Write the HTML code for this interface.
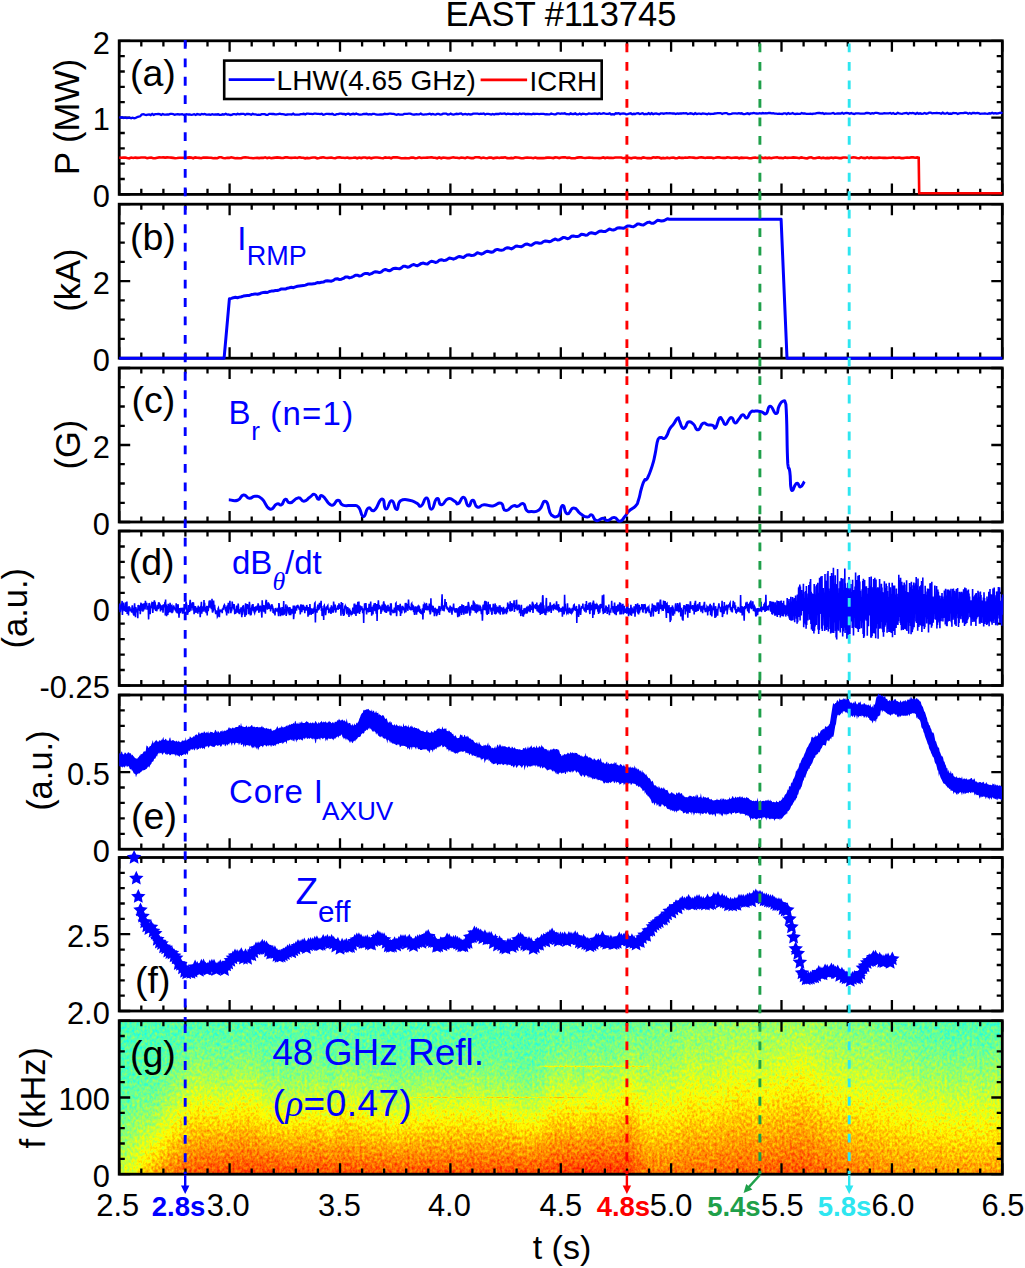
<!DOCTYPE html>
<html><head><meta charset="utf-8"><style>
html,body{margin:0;padding:0;background:#fff;width:1025px;height:1268px;overflow:hidden;}
svg{display:block;}
</style></head><body>
<svg width="1025" height="1268" viewBox="0 0 1025 1268" font-family="'Liberation Sans', sans-serif">
<rect width="1025" height="1268" fill="#fff"/>
<defs><clipPath id="gclip"><rect x="119.2" y="1020.7" width="883.1" height="153.5"/></clipPath>
<filter id="specf" x="109.2" y="1010.7" width="903.1" height="173.5" filterUnits="userSpaceOnUse" color-interpolation-filters="sRGB">
<feGaussianBlur in="SourceGraphic" stdDeviation="2.5 0" result="bl"/>
<feTurbulence type="fractalNoise" baseFrequency="0.4 0.3" numOctaves="2" seed="11" result="nz"/>
<feColorMatrix in="nz" type="matrix" values="1 0 0 0 0  1 0 0 0 0  1 0 0 0 0  0 0 0 0 1" result="gn"/>
<feComposite in="bl" in2="gn" operator="arithmetic" k1="0" k2="1" k3="0.2" k4="-0.1" result="sum"/>
<feComponentTransfer in="sum"><feFuncR type="table" tableValues="0 0 0 0 0.5 1 1 1 0.5"/><feFuncG type="table" tableValues="0 0 0.5 1 1 1 0.5 0 0"/><feFuncB type="table" tableValues="0.5 1 1 1 0.5 0 0 0 0"/><feFuncA type="table" tableValues="1 1"/></feComponentTransfer>
</filter>
<linearGradient id="sg0" gradientUnits="userSpaceOnUse" x1="0" y1="1020.7" x2="0" y2="1174.2"><stop offset="0.000" stop-color="#747474"/><stop offset="0.050" stop-color="#747474"/><stop offset="0.100" stop-color="#747474"/><stop offset="0.150" stop-color="#747474"/><stop offset="0.200" stop-color="#747474"/><stop offset="0.250" stop-color="#747474"/><stop offset="0.300" stop-color="#757575"/><stop offset="0.350" stop-color="#757575"/><stop offset="0.400" stop-color="#757575"/><stop offset="0.450" stop-color="#767676"/><stop offset="0.500" stop-color="#777777"/><stop offset="0.550" stop-color="#797979"/><stop offset="0.600" stop-color="#7b7b7b"/><stop offset="0.650" stop-color="#7e7e7e"/><stop offset="0.700" stop-color="#808080"/><stop offset="0.750" stop-color="#838383"/><stop offset="0.800" stop-color="#868686"/><stop offset="0.850" stop-color="#8a8a8a"/><stop offset="0.900" stop-color="#8d8d8d"/><stop offset="0.950" stop-color="#909090"/><stop offset="1.000" stop-color="#949494"/></linearGradient>
<linearGradient id="sg1" gradientUnits="userSpaceOnUse" x1="0" y1="1020.7" x2="0" y2="1174.2"><stop offset="0.000" stop-color="#747474"/><stop offset="0.050" stop-color="#747474"/><stop offset="0.100" stop-color="#747474"/><stop offset="0.150" stop-color="#747474"/><stop offset="0.200" stop-color="#747474"/><stop offset="0.250" stop-color="#747474"/><stop offset="0.300" stop-color="#757575"/><stop offset="0.350" stop-color="#757575"/><stop offset="0.400" stop-color="#767676"/><stop offset="0.450" stop-color="#767676"/><stop offset="0.500" stop-color="#787878"/><stop offset="0.550" stop-color="#797979"/><stop offset="0.600" stop-color="#7b7b7b"/><stop offset="0.650" stop-color="#7e7e7e"/><stop offset="0.700" stop-color="#818181"/><stop offset="0.750" stop-color="#848484"/><stop offset="0.800" stop-color="#878787"/><stop offset="0.850" stop-color="#8b8b8b"/><stop offset="0.900" stop-color="#8e8e8e"/><stop offset="0.950" stop-color="#929292"/><stop offset="1.000" stop-color="#959595"/></linearGradient>
<linearGradient id="sg2" gradientUnits="userSpaceOnUse" x1="0" y1="1020.7" x2="0" y2="1174.2"><stop offset="0.000" stop-color="#747474"/><stop offset="0.050" stop-color="#747474"/><stop offset="0.100" stop-color="#747474"/><stop offset="0.150" stop-color="#747474"/><stop offset="0.200" stop-color="#747474"/><stop offset="0.250" stop-color="#757575"/><stop offset="0.300" stop-color="#757575"/><stop offset="0.350" stop-color="#767676"/><stop offset="0.400" stop-color="#767676"/><stop offset="0.450" stop-color="#787878"/><stop offset="0.500" stop-color="#797979"/><stop offset="0.550" stop-color="#7b7b7b"/><stop offset="0.600" stop-color="#7e7e7e"/><stop offset="0.650" stop-color="#818181"/><stop offset="0.700" stop-color="#848484"/><stop offset="0.750" stop-color="#878787"/><stop offset="0.800" stop-color="#8a8a8a"/><stop offset="0.850" stop-color="#8e8e8e"/><stop offset="0.900" stop-color="#919191"/><stop offset="0.950" stop-color="#959595"/><stop offset="1.000" stop-color="#989898"/></linearGradient>
<linearGradient id="sg3" gradientUnits="userSpaceOnUse" x1="0" y1="1020.7" x2="0" y2="1174.2"><stop offset="0.000" stop-color="#747474"/><stop offset="0.050" stop-color="#747474"/><stop offset="0.100" stop-color="#747474"/><stop offset="0.150" stop-color="#747474"/><stop offset="0.200" stop-color="#757575"/><stop offset="0.250" stop-color="#757575"/><stop offset="0.300" stop-color="#767676"/><stop offset="0.350" stop-color="#777777"/><stop offset="0.400" stop-color="#787878"/><stop offset="0.450" stop-color="#7a7a7a"/><stop offset="0.500" stop-color="#7c7c7c"/><stop offset="0.550" stop-color="#7f7f7f"/><stop offset="0.600" stop-color="#818181"/><stop offset="0.650" stop-color="#858585"/><stop offset="0.700" stop-color="#888888"/><stop offset="0.750" stop-color="#8c8c8c"/><stop offset="0.800" stop-color="#8f8f8f"/><stop offset="0.850" stop-color="#939393"/><stop offset="0.900" stop-color="#979797"/><stop offset="0.950" stop-color="#9a9a9a"/><stop offset="1.000" stop-color="#9e9e9e"/></linearGradient>
<linearGradient id="sg4" gradientUnits="userSpaceOnUse" x1="0" y1="1020.7" x2="0" y2="1174.2"><stop offset="0.000" stop-color="#747474"/><stop offset="0.050" stop-color="#747474"/><stop offset="0.100" stop-color="#757575"/><stop offset="0.150" stop-color="#757575"/><stop offset="0.200" stop-color="#757575"/><stop offset="0.250" stop-color="#767676"/><stop offset="0.300" stop-color="#767676"/><stop offset="0.350" stop-color="#777777"/><stop offset="0.400" stop-color="#797979"/><stop offset="0.450" stop-color="#7b7b7b"/><stop offset="0.500" stop-color="#7e7e7e"/><stop offset="0.550" stop-color="#818181"/><stop offset="0.600" stop-color="#848484"/><stop offset="0.650" stop-color="#888888"/><stop offset="0.700" stop-color="#8c8c8c"/><stop offset="0.750" stop-color="#909090"/><stop offset="0.800" stop-color="#959595"/><stop offset="0.850" stop-color="#999999"/><stop offset="0.900" stop-color="#9d9d9d"/><stop offset="0.950" stop-color="#a1a1a1"/><stop offset="1.000" stop-color="#a6a6a6"/></linearGradient>
<linearGradient id="sg5" gradientUnits="userSpaceOnUse" x1="0" y1="1020.7" x2="0" y2="1174.2"><stop offset="0.000" stop-color="#757575"/><stop offset="0.050" stop-color="#757575"/><stop offset="0.100" stop-color="#757575"/><stop offset="0.150" stop-color="#757575"/><stop offset="0.200" stop-color="#757575"/><stop offset="0.250" stop-color="#767676"/><stop offset="0.300" stop-color="#767676"/><stop offset="0.350" stop-color="#777777"/><stop offset="0.400" stop-color="#797979"/><stop offset="0.450" stop-color="#7b7b7b"/><stop offset="0.500" stop-color="#7e7e7e"/><stop offset="0.550" stop-color="#818181"/><stop offset="0.600" stop-color="#858585"/><stop offset="0.650" stop-color="#898989"/><stop offset="0.700" stop-color="#8e8e8e"/><stop offset="0.750" stop-color="#939393"/><stop offset="0.800" stop-color="#989898"/><stop offset="0.850" stop-color="#9d9d9d"/><stop offset="0.900" stop-color="#a3a3a3"/><stop offset="0.950" stop-color="#a8a8a8"/><stop offset="1.000" stop-color="#adadad"/></linearGradient>
<linearGradient id="sg6" gradientUnits="userSpaceOnUse" x1="0" y1="1020.7" x2="0" y2="1174.2"><stop offset="0.000" stop-color="#757575"/><stop offset="0.050" stop-color="#757575"/><stop offset="0.100" stop-color="#757575"/><stop offset="0.150" stop-color="#757575"/><stop offset="0.200" stop-color="#757575"/><stop offset="0.250" stop-color="#767676"/><stop offset="0.300" stop-color="#767676"/><stop offset="0.350" stop-color="#777777"/><stop offset="0.400" stop-color="#797979"/><stop offset="0.450" stop-color="#7b7b7b"/><stop offset="0.500" stop-color="#7e7e7e"/><stop offset="0.550" stop-color="#818181"/><stop offset="0.600" stop-color="#868686"/><stop offset="0.650" stop-color="#8a8a8a"/><stop offset="0.700" stop-color="#909090"/><stop offset="0.750" stop-color="#969696"/><stop offset="0.800" stop-color="#9b9b9b"/><stop offset="0.850" stop-color="#a1a1a1"/><stop offset="0.900" stop-color="#a8a8a8"/><stop offset="0.950" stop-color="#aeaeae"/><stop offset="1.000" stop-color="#b4b4b4"/></linearGradient>
<linearGradient id="sg7" gradientUnits="userSpaceOnUse" x1="0" y1="1020.7" x2="0" y2="1174.2"><stop offset="0.000" stop-color="#757575"/><stop offset="0.050" stop-color="#757575"/><stop offset="0.100" stop-color="#757575"/><stop offset="0.150" stop-color="#757575"/><stop offset="0.200" stop-color="#767676"/><stop offset="0.250" stop-color="#767676"/><stop offset="0.300" stop-color="#777777"/><stop offset="0.350" stop-color="#797979"/><stop offset="0.400" stop-color="#7b7b7b"/><stop offset="0.450" stop-color="#7d7d7d"/><stop offset="0.500" stop-color="#818181"/><stop offset="0.550" stop-color="#858585"/><stop offset="0.600" stop-color="#8a8a8a"/><stop offset="0.650" stop-color="#8f8f8f"/><stop offset="0.700" stop-color="#949494"/><stop offset="0.750" stop-color="#9a9a9a"/><stop offset="0.800" stop-color="#a0a0a0"/><stop offset="0.850" stop-color="#a6a6a6"/><stop offset="0.900" stop-color="#acacac"/><stop offset="0.950" stop-color="#b2b2b2"/><stop offset="1.000" stop-color="#b8b8b8"/></linearGradient>
<linearGradient id="sg8" gradientUnits="userSpaceOnUse" x1="0" y1="1020.7" x2="0" y2="1174.2"><stop offset="0.000" stop-color="#757575"/><stop offset="0.050" stop-color="#757575"/><stop offset="0.100" stop-color="#757575"/><stop offset="0.150" stop-color="#767676"/><stop offset="0.200" stop-color="#767676"/><stop offset="0.250" stop-color="#777777"/><stop offset="0.300" stop-color="#797979"/><stop offset="0.350" stop-color="#7b7b7b"/><stop offset="0.400" stop-color="#7e7e7e"/><stop offset="0.450" stop-color="#818181"/><stop offset="0.500" stop-color="#868686"/><stop offset="0.550" stop-color="#8a8a8a"/><stop offset="0.600" stop-color="#909090"/><stop offset="0.650" stop-color="#959595"/><stop offset="0.700" stop-color="#9a9a9a"/><stop offset="0.750" stop-color="#a0a0a0"/><stop offset="0.800" stop-color="#a6a6a6"/><stop offset="0.850" stop-color="#ababab"/><stop offset="0.900" stop-color="#b1b1b1"/><stop offset="0.950" stop-color="#b7b7b7"/><stop offset="1.000" stop-color="#bdbdbd"/></linearGradient>
<linearGradient id="sg9" gradientUnits="userSpaceOnUse" x1="0" y1="1020.7" x2="0" y2="1174.2"><stop offset="0.000" stop-color="#757575"/><stop offset="0.050" stop-color="#757575"/><stop offset="0.100" stop-color="#757575"/><stop offset="0.150" stop-color="#767676"/><stop offset="0.200" stop-color="#777777"/><stop offset="0.250" stop-color="#797979"/><stop offset="0.300" stop-color="#7b7b7b"/><stop offset="0.350" stop-color="#7e7e7e"/><stop offset="0.400" stop-color="#818181"/><stop offset="0.450" stop-color="#858585"/><stop offset="0.500" stop-color="#8a8a8a"/><stop offset="0.550" stop-color="#8f8f8f"/><stop offset="0.600" stop-color="#949494"/><stop offset="0.650" stop-color="#9a9a9a"/><stop offset="0.700" stop-color="#9f9f9f"/><stop offset="0.750" stop-color="#a5a5a5"/><stop offset="0.800" stop-color="#ababab"/><stop offset="0.850" stop-color="#b0b0b0"/><stop offset="0.900" stop-color="#b6b6b6"/><stop offset="0.950" stop-color="#bcbcbc"/><stop offset="1.000" stop-color="#c1c1c1"/></linearGradient>
<linearGradient id="sg10" gradientUnits="userSpaceOnUse" x1="0" y1="1020.7" x2="0" y2="1174.2"><stop offset="0.000" stop-color="#757575"/><stop offset="0.050" stop-color="#757575"/><stop offset="0.100" stop-color="#767676"/><stop offset="0.150" stop-color="#777777"/><stop offset="0.200" stop-color="#797979"/><stop offset="0.250" stop-color="#7b7b7b"/><stop offset="0.300" stop-color="#7e7e7e"/><stop offset="0.350" stop-color="#818181"/><stop offset="0.400" stop-color="#858585"/><stop offset="0.450" stop-color="#8a8a8a"/><stop offset="0.500" stop-color="#8f8f8f"/><stop offset="0.550" stop-color="#949494"/><stop offset="0.600" stop-color="#999999"/><stop offset="0.650" stop-color="#9e9e9e"/><stop offset="0.700" stop-color="#a4a4a4"/><stop offset="0.750" stop-color="#a9a9a9"/><stop offset="0.800" stop-color="#afafaf"/><stop offset="0.850" stop-color="#b4b4b4"/><stop offset="0.900" stop-color="#bababa"/><stop offset="0.950" stop-color="#bfbfbf"/><stop offset="1.000" stop-color="#c5c5c5"/></linearGradient>
<linearGradient id="sg11" gradientUnits="userSpaceOnUse" x1="0" y1="1020.7" x2="0" y2="1174.2"><stop offset="0.000" stop-color="#757575"/><stop offset="0.050" stop-color="#767676"/><stop offset="0.100" stop-color="#777777"/><stop offset="0.150" stop-color="#787878"/><stop offset="0.200" stop-color="#7a7a7a"/><stop offset="0.250" stop-color="#7d7d7d"/><stop offset="0.300" stop-color="#818181"/><stop offset="0.350" stop-color="#848484"/><stop offset="0.400" stop-color="#898989"/><stop offset="0.450" stop-color="#8e8e8e"/><stop offset="0.500" stop-color="#929292"/><stop offset="0.550" stop-color="#989898"/><stop offset="0.600" stop-color="#9d9d9d"/><stop offset="0.650" stop-color="#a2a2a2"/><stop offset="0.700" stop-color="#a7a7a7"/><stop offset="0.750" stop-color="#acacac"/><stop offset="0.800" stop-color="#b2b2b2"/><stop offset="0.850" stop-color="#b7b7b7"/><stop offset="0.900" stop-color="#bcbcbc"/><stop offset="0.950" stop-color="#c2c2c2"/><stop offset="1.000" stop-color="#c7c7c7"/></linearGradient>
<linearGradient id="sg12" gradientUnits="userSpaceOnUse" x1="0" y1="1020.7" x2="0" y2="1174.2"><stop offset="0.000" stop-color="#757575"/><stop offset="0.050" stop-color="#767676"/><stop offset="0.100" stop-color="#777777"/><stop offset="0.150" stop-color="#797979"/><stop offset="0.200" stop-color="#7c7c7c"/><stop offset="0.250" stop-color="#7f7f7f"/><stop offset="0.300" stop-color="#838383"/><stop offset="0.350" stop-color="#878787"/><stop offset="0.400" stop-color="#8c8c8c"/><stop offset="0.450" stop-color="#919191"/><stop offset="0.500" stop-color="#959595"/><stop offset="0.550" stop-color="#9a9a9a"/><stop offset="0.600" stop-color="#a0a0a0"/><stop offset="0.650" stop-color="#a5a5a5"/><stop offset="0.700" stop-color="#aaaaaa"/><stop offset="0.750" stop-color="#afafaf"/><stop offset="0.800" stop-color="#b4b4b4"/><stop offset="0.850" stop-color="#b9b9b9"/><stop offset="0.900" stop-color="#bebebe"/><stop offset="0.950" stop-color="#c4c4c4"/><stop offset="1.000" stop-color="#c9c9c9"/></linearGradient>
<linearGradient id="sg13" gradientUnits="userSpaceOnUse" x1="0" y1="1020.7" x2="0" y2="1174.2"><stop offset="0.000" stop-color="#757575"/><stop offset="0.050" stop-color="#777777"/><stop offset="0.100" stop-color="#797979"/><stop offset="0.150" stop-color="#7b7b7b"/><stop offset="0.200" stop-color="#7f7f7f"/><stop offset="0.250" stop-color="#828282"/><stop offset="0.300" stop-color="#868686"/><stop offset="0.350" stop-color="#8b8b8b"/><stop offset="0.400" stop-color="#8f8f8f"/><stop offset="0.450" stop-color="#949494"/><stop offset="0.500" stop-color="#999999"/><stop offset="0.550" stop-color="#9e9e9e"/><stop offset="0.600" stop-color="#a3a3a3"/><stop offset="0.650" stop-color="#a8a8a8"/><stop offset="0.700" stop-color="#adadad"/><stop offset="0.750" stop-color="#b2b2b2"/><stop offset="0.800" stop-color="#b7b7b7"/><stop offset="0.850" stop-color="#bcbcbc"/><stop offset="0.900" stop-color="#c1c1c1"/><stop offset="0.950" stop-color="#c6c6c6"/><stop offset="1.000" stop-color="#cbcbcb"/></linearGradient>
<linearGradient id="sg14" gradientUnits="userSpaceOnUse" x1="0" y1="1020.7" x2="0" y2="1174.2"><stop offset="0.000" stop-color="#757575"/><stop offset="0.050" stop-color="#777777"/><stop offset="0.100" stop-color="#797979"/><stop offset="0.150" stop-color="#7b7b7b"/><stop offset="0.200" stop-color="#7f7f7f"/><stop offset="0.250" stop-color="#838383"/><stop offset="0.300" stop-color="#878787"/><stop offset="0.350" stop-color="#8b8b8b"/><stop offset="0.400" stop-color="#909090"/><stop offset="0.450" stop-color="#959595"/><stop offset="0.500" stop-color="#9a9a9a"/><stop offset="0.550" stop-color="#9f9f9f"/><stop offset="0.600" stop-color="#a4a4a4"/><stop offset="0.650" stop-color="#a9a9a9"/><stop offset="0.700" stop-color="#aeaeae"/><stop offset="0.750" stop-color="#b3b3b3"/><stop offset="0.800" stop-color="#b8b8b8"/><stop offset="0.850" stop-color="#bdbdbd"/><stop offset="0.900" stop-color="#c2c2c2"/><stop offset="0.950" stop-color="#c7c7c7"/><stop offset="1.000" stop-color="#cccccc"/></linearGradient>
<linearGradient id="sg15" gradientUnits="userSpaceOnUse" x1="0" y1="1020.7" x2="0" y2="1174.2"><stop offset="0.000" stop-color="#757575"/><stop offset="0.050" stop-color="#767676"/><stop offset="0.100" stop-color="#787878"/><stop offset="0.150" stop-color="#7a7a7a"/><stop offset="0.200" stop-color="#7d7d7d"/><stop offset="0.250" stop-color="#808080"/><stop offset="0.300" stop-color="#848484"/><stop offset="0.350" stop-color="#898989"/><stop offset="0.400" stop-color="#8e8e8e"/><stop offset="0.450" stop-color="#939393"/><stop offset="0.500" stop-color="#989898"/><stop offset="0.550" stop-color="#9d9d9d"/><stop offset="0.600" stop-color="#a2a2a2"/><stop offset="0.650" stop-color="#a7a7a7"/><stop offset="0.700" stop-color="#adadad"/><stop offset="0.750" stop-color="#b2b2b2"/><stop offset="0.800" stop-color="#b7b7b7"/><stop offset="0.850" stop-color="#bdbdbd"/><stop offset="0.900" stop-color="#c2c2c2"/><stop offset="0.950" stop-color="#c7c7c7"/><stop offset="1.000" stop-color="#cdcdcd"/></linearGradient>
<linearGradient id="sg16" gradientUnits="userSpaceOnUse" x1="0" y1="1020.7" x2="0" y2="1174.2"><stop offset="0.000" stop-color="#757575"/><stop offset="0.050" stop-color="#767676"/><stop offset="0.100" stop-color="#787878"/><stop offset="0.150" stop-color="#7a7a7a"/><stop offset="0.200" stop-color="#7d7d7d"/><stop offset="0.250" stop-color="#818181"/><stop offset="0.300" stop-color="#858585"/><stop offset="0.350" stop-color="#8a8a8a"/><stop offset="0.400" stop-color="#8e8e8e"/><stop offset="0.450" stop-color="#939393"/><stop offset="0.500" stop-color="#989898"/><stop offset="0.550" stop-color="#9e9e9e"/><stop offset="0.600" stop-color="#a3a3a3"/><stop offset="0.650" stop-color="#a8a8a8"/><stop offset="0.700" stop-color="#adadad"/><stop offset="0.750" stop-color="#b3b3b3"/><stop offset="0.800" stop-color="#b8b8b8"/><stop offset="0.850" stop-color="#bdbdbd"/><stop offset="0.900" stop-color="#c3c3c3"/><stop offset="0.950" stop-color="#c8c8c8"/><stop offset="1.000" stop-color="#cdcdcd"/></linearGradient>
<linearGradient id="sg17" gradientUnits="userSpaceOnUse" x1="0" y1="1020.7" x2="0" y2="1174.2"><stop offset="0.000" stop-color="#757575"/><stop offset="0.050" stop-color="#767676"/><stop offset="0.100" stop-color="#787878"/><stop offset="0.150" stop-color="#7a7a7a"/><stop offset="0.200" stop-color="#7d7d7d"/><stop offset="0.250" stop-color="#808080"/><stop offset="0.300" stop-color="#848484"/><stop offset="0.350" stop-color="#898989"/><stop offset="0.400" stop-color="#8d8d8d"/><stop offset="0.450" stop-color="#929292"/><stop offset="0.500" stop-color="#989898"/><stop offset="0.550" stop-color="#9d9d9d"/><stop offset="0.600" stop-color="#a2a2a2"/><stop offset="0.650" stop-color="#a8a8a8"/><stop offset="0.700" stop-color="#adadad"/><stop offset="0.750" stop-color="#b3b3b3"/><stop offset="0.800" stop-color="#b8b8b8"/><stop offset="0.850" stop-color="#bdbdbd"/><stop offset="0.900" stop-color="#c3c3c3"/><stop offset="0.950" stop-color="#c8c8c8"/><stop offset="1.000" stop-color="#cecece"/></linearGradient>
<linearGradient id="sg18" gradientUnits="userSpaceOnUse" x1="0" y1="1020.7" x2="0" y2="1174.2"><stop offset="0.000" stop-color="#757575"/><stop offset="0.050" stop-color="#767676"/><stop offset="0.100" stop-color="#777777"/><stop offset="0.150" stop-color="#797979"/><stop offset="0.200" stop-color="#7b7b7b"/><stop offset="0.250" stop-color="#7e7e7e"/><stop offset="0.300" stop-color="#818181"/><stop offset="0.350" stop-color="#858585"/><stop offset="0.400" stop-color="#8a8a8a"/><stop offset="0.450" stop-color="#8f8f8f"/><stop offset="0.500" stop-color="#959595"/><stop offset="0.550" stop-color="#9a9a9a"/><stop offset="0.600" stop-color="#a0a0a0"/><stop offset="0.650" stop-color="#a6a6a6"/><stop offset="0.700" stop-color="#ababab"/><stop offset="0.750" stop-color="#b1b1b1"/><stop offset="0.800" stop-color="#b7b7b7"/><stop offset="0.850" stop-color="#bdbdbd"/><stop offset="0.900" stop-color="#c3c3c3"/><stop offset="0.950" stop-color="#c8c8c8"/><stop offset="1.000" stop-color="#cecece"/></linearGradient>
<linearGradient id="sg19" gradientUnits="userSpaceOnUse" x1="0" y1="1020.7" x2="0" y2="1174.2"><stop offset="0.000" stop-color="#757575"/><stop offset="0.050" stop-color="#767676"/><stop offset="0.100" stop-color="#787878"/><stop offset="0.150" stop-color="#7a7a7a"/><stop offset="0.200" stop-color="#7c7c7c"/><stop offset="0.250" stop-color="#808080"/><stop offset="0.300" stop-color="#848484"/><stop offset="0.350" stop-color="#888888"/><stop offset="0.400" stop-color="#8d8d8d"/><stop offset="0.450" stop-color="#929292"/><stop offset="0.500" stop-color="#989898"/><stop offset="0.550" stop-color="#9d9d9d"/><stop offset="0.600" stop-color="#a2a2a2"/><stop offset="0.650" stop-color="#a8a8a8"/><stop offset="0.700" stop-color="#adadad"/><stop offset="0.750" stop-color="#b3b3b3"/><stop offset="0.800" stop-color="#b9b9b9"/><stop offset="0.850" stop-color="#bebebe"/><stop offset="0.900" stop-color="#c4c4c4"/><stop offset="0.950" stop-color="#c9c9c9"/><stop offset="1.000" stop-color="#cfcfcf"/></linearGradient>
<linearGradient id="sg20" gradientUnits="userSpaceOnUse" x1="0" y1="1020.7" x2="0" y2="1174.2"><stop offset="0.000" stop-color="#757575"/><stop offset="0.050" stop-color="#777777"/><stop offset="0.100" stop-color="#797979"/><stop offset="0.150" stop-color="#7b7b7b"/><stop offset="0.200" stop-color="#7f7f7f"/><stop offset="0.250" stop-color="#828282"/><stop offset="0.300" stop-color="#878787"/><stop offset="0.350" stop-color="#8b8b8b"/><stop offset="0.400" stop-color="#909090"/><stop offset="0.450" stop-color="#959595"/><stop offset="0.500" stop-color="#9a9a9a"/><stop offset="0.550" stop-color="#a0a0a0"/><stop offset="0.600" stop-color="#a5a5a5"/><stop offset="0.650" stop-color="#aaaaaa"/><stop offset="0.700" stop-color="#b0b0b0"/><stop offset="0.750" stop-color="#b5b5b5"/><stop offset="0.800" stop-color="#bababa"/><stop offset="0.850" stop-color="#bfbfbf"/><stop offset="0.900" stop-color="#c5c5c5"/><stop offset="0.950" stop-color="#cacaca"/><stop offset="1.000" stop-color="#cfcfcf"/></linearGradient>
<linearGradient id="sg21" gradientUnits="userSpaceOnUse" x1="0" y1="1020.7" x2="0" y2="1174.2"><stop offset="0.000" stop-color="#757575"/><stop offset="0.050" stop-color="#777777"/><stop offset="0.100" stop-color="#797979"/><stop offset="0.150" stop-color="#7b7b7b"/><stop offset="0.200" stop-color="#7e7e7e"/><stop offset="0.250" stop-color="#828282"/><stop offset="0.300" stop-color="#868686"/><stop offset="0.350" stop-color="#8b8b8b"/><stop offset="0.400" stop-color="#909090"/><stop offset="0.450" stop-color="#959595"/><stop offset="0.500" stop-color="#9a9a9a"/><stop offset="0.550" stop-color="#a0a0a0"/><stop offset="0.600" stop-color="#a5a5a5"/><stop offset="0.650" stop-color="#aaaaaa"/><stop offset="0.700" stop-color="#b0b0b0"/><stop offset="0.750" stop-color="#b5b5b5"/><stop offset="0.800" stop-color="#bababa"/><stop offset="0.850" stop-color="#c0c0c0"/><stop offset="0.900" stop-color="#c5c5c5"/><stop offset="0.950" stop-color="#cacaca"/><stop offset="1.000" stop-color="#d0d0d0"/></linearGradient>
<linearGradient id="sg22" gradientUnits="userSpaceOnUse" x1="0" y1="1020.7" x2="0" y2="1174.2"><stop offset="0.000" stop-color="#767676"/><stop offset="0.050" stop-color="#777777"/><stop offset="0.100" stop-color="#797979"/><stop offset="0.150" stop-color="#7b7b7b"/><stop offset="0.200" stop-color="#7e7e7e"/><stop offset="0.250" stop-color="#828282"/><stop offset="0.300" stop-color="#868686"/><stop offset="0.350" stop-color="#8b8b8b"/><stop offset="0.400" stop-color="#909090"/><stop offset="0.450" stop-color="#959595"/><stop offset="0.500" stop-color="#9a9a9a"/><stop offset="0.550" stop-color="#9f9f9f"/><stop offset="0.600" stop-color="#a5a5a5"/><stop offset="0.650" stop-color="#aaaaaa"/><stop offset="0.700" stop-color="#afafaf"/><stop offset="0.750" stop-color="#b5b5b5"/><stop offset="0.800" stop-color="#bababa"/><stop offset="0.850" stop-color="#bfbfbf"/><stop offset="0.900" stop-color="#c5c5c5"/><stop offset="0.950" stop-color="#cacaca"/><stop offset="1.000" stop-color="#d0d0d0"/></linearGradient>
<linearGradient id="sg23" gradientUnits="userSpaceOnUse" x1="0" y1="1020.7" x2="0" y2="1174.2"><stop offset="0.000" stop-color="#767676"/><stop offset="0.050" stop-color="#777777"/><stop offset="0.100" stop-color="#797979"/><stop offset="0.150" stop-color="#7b7b7b"/><stop offset="0.200" stop-color="#7e7e7e"/><stop offset="0.250" stop-color="#828282"/><stop offset="0.300" stop-color="#868686"/><stop offset="0.350" stop-color="#8b8b8b"/><stop offset="0.400" stop-color="#909090"/><stop offset="0.450" stop-color="#959595"/><stop offset="0.500" stop-color="#9a9a9a"/><stop offset="0.550" stop-color="#9f9f9f"/><stop offset="0.600" stop-color="#a4a4a4"/><stop offset="0.650" stop-color="#aaaaaa"/><stop offset="0.700" stop-color="#afafaf"/><stop offset="0.750" stop-color="#b4b4b4"/><stop offset="0.800" stop-color="#bababa"/><stop offset="0.850" stop-color="#bfbfbf"/><stop offset="0.900" stop-color="#c5c5c5"/><stop offset="0.950" stop-color="#cacaca"/><stop offset="1.000" stop-color="#cfcfcf"/></linearGradient>
<linearGradient id="sg24" gradientUnits="userSpaceOnUse" x1="0" y1="1020.7" x2="0" y2="1174.2"><stop offset="0.000" stop-color="#767676"/><stop offset="0.050" stop-color="#777777"/><stop offset="0.100" stop-color="#787878"/><stop offset="0.150" stop-color="#7a7a7a"/><stop offset="0.200" stop-color="#7c7c7c"/><stop offset="0.250" stop-color="#7f7f7f"/><stop offset="0.300" stop-color="#838383"/><stop offset="0.350" stop-color="#878787"/><stop offset="0.400" stop-color="#8c8c8c"/><stop offset="0.450" stop-color="#919191"/><stop offset="0.500" stop-color="#969696"/><stop offset="0.550" stop-color="#9c9c9c"/><stop offset="0.600" stop-color="#a1a1a1"/><stop offset="0.650" stop-color="#a7a7a7"/><stop offset="0.700" stop-color="#adadad"/><stop offset="0.750" stop-color="#b2b2b2"/><stop offset="0.800" stop-color="#b8b8b8"/><stop offset="0.850" stop-color="#bebebe"/><stop offset="0.900" stop-color="#c4c4c4"/><stop offset="0.950" stop-color="#c9c9c9"/><stop offset="1.000" stop-color="#cfcfcf"/></linearGradient>
<linearGradient id="sg25" gradientUnits="userSpaceOnUse" x1="0" y1="1020.7" x2="0" y2="1174.2"><stop offset="0.000" stop-color="#767676"/><stop offset="0.050" stop-color="#777777"/><stop offset="0.100" stop-color="#777777"/><stop offset="0.150" stop-color="#787878"/><stop offset="0.200" stop-color="#7a7a7a"/><stop offset="0.250" stop-color="#7c7c7c"/><stop offset="0.300" stop-color="#7f7f7f"/><stop offset="0.350" stop-color="#838383"/><stop offset="0.400" stop-color="#878787"/><stop offset="0.450" stop-color="#8c8c8c"/><stop offset="0.500" stop-color="#929292"/><stop offset="0.550" stop-color="#989898"/><stop offset="0.600" stop-color="#9d9d9d"/><stop offset="0.650" stop-color="#a4a4a4"/><stop offset="0.700" stop-color="#aaaaaa"/><stop offset="0.750" stop-color="#b0b0b0"/><stop offset="0.800" stop-color="#b6b6b6"/><stop offset="0.850" stop-color="#bcbcbc"/><stop offset="0.900" stop-color="#c3c3c3"/><stop offset="0.950" stop-color="#c9c9c9"/><stop offset="1.000" stop-color="#cfcfcf"/></linearGradient>
<linearGradient id="sg26" gradientUnits="userSpaceOnUse" x1="0" y1="1020.7" x2="0" y2="1174.2"><stop offset="0.000" stop-color="#767676"/><stop offset="0.050" stop-color="#777777"/><stop offset="0.100" stop-color="#787878"/><stop offset="0.150" stop-color="#797979"/><stop offset="0.200" stop-color="#7b7b7b"/><stop offset="0.250" stop-color="#7d7d7d"/><stop offset="0.300" stop-color="#808080"/><stop offset="0.350" stop-color="#848484"/><stop offset="0.400" stop-color="#898989"/><stop offset="0.450" stop-color="#8e8e8e"/><stop offset="0.500" stop-color="#939393"/><stop offset="0.550" stop-color="#999999"/><stop offset="0.600" stop-color="#9e9e9e"/><stop offset="0.650" stop-color="#a4a4a4"/><stop offset="0.700" stop-color="#aaaaaa"/><stop offset="0.750" stop-color="#b0b0b0"/><stop offset="0.800" stop-color="#b6b6b6"/><stop offset="0.850" stop-color="#bdbdbd"/><stop offset="0.900" stop-color="#c3c3c3"/><stop offset="0.950" stop-color="#c9c9c9"/><stop offset="1.000" stop-color="#cfcfcf"/></linearGradient>
<linearGradient id="sg27" gradientUnits="userSpaceOnUse" x1="0" y1="1020.7" x2="0" y2="1174.2"><stop offset="0.000" stop-color="#777777"/><stop offset="0.050" stop-color="#777777"/><stop offset="0.100" stop-color="#787878"/><stop offset="0.150" stop-color="#797979"/><stop offset="0.200" stop-color="#7b7b7b"/><stop offset="0.250" stop-color="#7e7e7e"/><stop offset="0.300" stop-color="#818181"/><stop offset="0.350" stop-color="#858585"/><stop offset="0.400" stop-color="#898989"/><stop offset="0.450" stop-color="#8e8e8e"/><stop offset="0.500" stop-color="#949494"/><stop offset="0.550" stop-color="#999999"/><stop offset="0.600" stop-color="#9f9f9f"/><stop offset="0.650" stop-color="#a5a5a5"/><stop offset="0.700" stop-color="#ababab"/><stop offset="0.750" stop-color="#b1b1b1"/><stop offset="0.800" stop-color="#b7b7b7"/><stop offset="0.850" stop-color="#bdbdbd"/><stop offset="0.900" stop-color="#c3c3c3"/><stop offset="0.950" stop-color="#c9c9c9"/><stop offset="1.000" stop-color="#cfcfcf"/></linearGradient>
<linearGradient id="sg28" gradientUnits="userSpaceOnUse" x1="0" y1="1020.7" x2="0" y2="1174.2"><stop offset="0.000" stop-color="#777777"/><stop offset="0.050" stop-color="#777777"/><stop offset="0.100" stop-color="#777777"/><stop offset="0.150" stop-color="#787878"/><stop offset="0.200" stop-color="#7a7a7a"/><stop offset="0.250" stop-color="#7b7b7b"/><stop offset="0.300" stop-color="#7e7e7e"/><stop offset="0.350" stop-color="#818181"/><stop offset="0.400" stop-color="#868686"/><stop offset="0.450" stop-color="#8b8b8b"/><stop offset="0.500" stop-color="#909090"/><stop offset="0.550" stop-color="#969696"/><stop offset="0.600" stop-color="#9c9c9c"/><stop offset="0.650" stop-color="#a2a2a2"/><stop offset="0.700" stop-color="#a8a8a8"/><stop offset="0.750" stop-color="#aeaeae"/><stop offset="0.800" stop-color="#b5b5b5"/><stop offset="0.850" stop-color="#bbbbbb"/><stop offset="0.900" stop-color="#c2c2c2"/><stop offset="0.950" stop-color="#c8c8c8"/><stop offset="1.000" stop-color="#cecece"/></linearGradient>
<linearGradient id="sg29" gradientUnits="userSpaceOnUse" x1="0" y1="1020.7" x2="0" y2="1174.2"><stop offset="0.000" stop-color="#767676"/><stop offset="0.050" stop-color="#777777"/><stop offset="0.100" stop-color="#777777"/><stop offset="0.150" stop-color="#787878"/><stop offset="0.200" stop-color="#797979"/><stop offset="0.250" stop-color="#7b7b7b"/><stop offset="0.300" stop-color="#7d7d7d"/><stop offset="0.350" stop-color="#808080"/><stop offset="0.400" stop-color="#848484"/><stop offset="0.450" stop-color="#898989"/><stop offset="0.500" stop-color="#8e8e8e"/><stop offset="0.550" stop-color="#949494"/><stop offset="0.600" stop-color="#9a9a9a"/><stop offset="0.650" stop-color="#a0a0a0"/><stop offset="0.700" stop-color="#a7a7a7"/><stop offset="0.750" stop-color="#adadad"/><stop offset="0.800" stop-color="#b4b4b4"/><stop offset="0.850" stop-color="#bababa"/><stop offset="0.900" stop-color="#c1c1c1"/><stop offset="0.950" stop-color="#c8c8c8"/><stop offset="1.000" stop-color="#cecece"/></linearGradient>
<linearGradient id="sg30" gradientUnits="userSpaceOnUse" x1="0" y1="1020.7" x2="0" y2="1174.2"><stop offset="0.000" stop-color="#767676"/><stop offset="0.050" stop-color="#777777"/><stop offset="0.100" stop-color="#787878"/><stop offset="0.150" stop-color="#797979"/><stop offset="0.200" stop-color="#7b7b7b"/><stop offset="0.250" stop-color="#7d7d7d"/><stop offset="0.300" stop-color="#808080"/><stop offset="0.350" stop-color="#848484"/><stop offset="0.400" stop-color="#898989"/><stop offset="0.450" stop-color="#8e8e8e"/><stop offset="0.500" stop-color="#939393"/><stop offset="0.550" stop-color="#999999"/><stop offset="0.600" stop-color="#9e9e9e"/><stop offset="0.650" stop-color="#a4a4a4"/><stop offset="0.700" stop-color="#aaaaaa"/><stop offset="0.750" stop-color="#b0b0b0"/><stop offset="0.800" stop-color="#b6b6b6"/><stop offset="0.850" stop-color="#bcbcbc"/><stop offset="0.900" stop-color="#c2c2c2"/><stop offset="0.950" stop-color="#c8c8c8"/><stop offset="1.000" stop-color="#cecece"/></linearGradient>
<linearGradient id="sg31" gradientUnits="userSpaceOnUse" x1="0" y1="1020.7" x2="0" y2="1174.2"><stop offset="0.000" stop-color="#767676"/><stop offset="0.050" stop-color="#777777"/><stop offset="0.100" stop-color="#787878"/><stop offset="0.150" stop-color="#797979"/><stop offset="0.200" stop-color="#7b7b7b"/><stop offset="0.250" stop-color="#7d7d7d"/><stop offset="0.300" stop-color="#808080"/><stop offset="0.350" stop-color="#848484"/><stop offset="0.400" stop-color="#888888"/><stop offset="0.450" stop-color="#8d8d8d"/><stop offset="0.500" stop-color="#939393"/><stop offset="0.550" stop-color="#989898"/><stop offset="0.600" stop-color="#9e9e9e"/><stop offset="0.650" stop-color="#a4a4a4"/><stop offset="0.700" stop-color="#aaaaaa"/><stop offset="0.750" stop-color="#b0b0b0"/><stop offset="0.800" stop-color="#b6b6b6"/><stop offset="0.850" stop-color="#bcbcbc"/><stop offset="0.900" stop-color="#c2c2c2"/><stop offset="0.950" stop-color="#c8c8c8"/><stop offset="1.000" stop-color="#cecece"/></linearGradient>
<linearGradient id="sg32" gradientUnits="userSpaceOnUse" x1="0" y1="1020.7" x2="0" y2="1174.2"><stop offset="0.000" stop-color="#767676"/><stop offset="0.050" stop-color="#777777"/><stop offset="0.100" stop-color="#777777"/><stop offset="0.150" stop-color="#787878"/><stop offset="0.200" stop-color="#797979"/><stop offset="0.250" stop-color="#7b7b7b"/><stop offset="0.300" stop-color="#7e7e7e"/><stop offset="0.350" stop-color="#828282"/><stop offset="0.400" stop-color="#868686"/><stop offset="0.450" stop-color="#8b8b8b"/><stop offset="0.500" stop-color="#909090"/><stop offset="0.550" stop-color="#969696"/><stop offset="0.600" stop-color="#9c9c9c"/><stop offset="0.650" stop-color="#a2a2a2"/><stop offset="0.700" stop-color="#a8a8a8"/><stop offset="0.750" stop-color="#aeaeae"/><stop offset="0.800" stop-color="#b5b5b5"/><stop offset="0.850" stop-color="#bbbbbb"/><stop offset="0.900" stop-color="#c1c1c1"/><stop offset="0.950" stop-color="#c8c8c8"/><stop offset="1.000" stop-color="#cecece"/></linearGradient>
<linearGradient id="sg33" gradientUnits="userSpaceOnUse" x1="0" y1="1020.7" x2="0" y2="1174.2"><stop offset="0.000" stop-color="#767676"/><stop offset="0.050" stop-color="#777777"/><stop offset="0.100" stop-color="#787878"/><stop offset="0.150" stop-color="#797979"/><stop offset="0.200" stop-color="#7b7b7b"/><stop offset="0.250" stop-color="#7e7e7e"/><stop offset="0.300" stop-color="#828282"/><stop offset="0.350" stop-color="#868686"/><stop offset="0.400" stop-color="#8b8b8b"/><stop offset="0.450" stop-color="#909090"/><stop offset="0.500" stop-color="#959595"/><stop offset="0.550" stop-color="#9a9a9a"/><stop offset="0.600" stop-color="#a0a0a0"/><stop offset="0.650" stop-color="#a6a6a6"/><stop offset="0.700" stop-color="#ababab"/><stop offset="0.750" stop-color="#b1b1b1"/><stop offset="0.800" stop-color="#b7b7b7"/><stop offset="0.850" stop-color="#bdbdbd"/><stop offset="0.900" stop-color="#c2c2c2"/><stop offset="0.950" stop-color="#c8c8c8"/><stop offset="1.000" stop-color="#cecece"/></linearGradient>
<linearGradient id="sg34" gradientUnits="userSpaceOnUse" x1="0" y1="1020.7" x2="0" y2="1174.2"><stop offset="0.000" stop-color="#767676"/><stop offset="0.050" stop-color="#777777"/><stop offset="0.100" stop-color="#787878"/><stop offset="0.150" stop-color="#7a7a7a"/><stop offset="0.200" stop-color="#7c7c7c"/><stop offset="0.250" stop-color="#7f7f7f"/><stop offset="0.300" stop-color="#828282"/><stop offset="0.350" stop-color="#878787"/><stop offset="0.400" stop-color="#8b8b8b"/><stop offset="0.450" stop-color="#909090"/><stop offset="0.500" stop-color="#969696"/><stop offset="0.550" stop-color="#9b9b9b"/><stop offset="0.600" stop-color="#a1a1a1"/><stop offset="0.650" stop-color="#a6a6a6"/><stop offset="0.700" stop-color="#acacac"/><stop offset="0.750" stop-color="#b1b1b1"/><stop offset="0.800" stop-color="#b7b7b7"/><stop offset="0.850" stop-color="#bdbdbd"/><stop offset="0.900" stop-color="#c2c2c2"/><stop offset="0.950" stop-color="#c8c8c8"/><stop offset="1.000" stop-color="#cecece"/></linearGradient>
<linearGradient id="sg35" gradientUnits="userSpaceOnUse" x1="0" y1="1020.7" x2="0" y2="1174.2"><stop offset="0.000" stop-color="#767676"/><stop offset="0.050" stop-color="#767676"/><stop offset="0.100" stop-color="#777777"/><stop offset="0.150" stop-color="#787878"/><stop offset="0.200" stop-color="#797979"/><stop offset="0.250" stop-color="#7b7b7b"/><stop offset="0.300" stop-color="#7d7d7d"/><stop offset="0.350" stop-color="#818181"/><stop offset="0.400" stop-color="#858585"/><stop offset="0.450" stop-color="#8a8a8a"/><stop offset="0.500" stop-color="#8f8f8f"/><stop offset="0.550" stop-color="#959595"/><stop offset="0.600" stop-color="#9b9b9b"/><stop offset="0.650" stop-color="#a1a1a1"/><stop offset="0.700" stop-color="#a7a7a7"/><stop offset="0.750" stop-color="#adadad"/><stop offset="0.800" stop-color="#b4b4b4"/><stop offset="0.850" stop-color="#bababa"/><stop offset="0.900" stop-color="#c1c1c1"/><stop offset="0.950" stop-color="#c7c7c7"/><stop offset="1.000" stop-color="#cecece"/></linearGradient>
<linearGradient id="sg36" gradientUnits="userSpaceOnUse" x1="0" y1="1020.7" x2="0" y2="1174.2"><stop offset="0.000" stop-color="#767676"/><stop offset="0.050" stop-color="#767676"/><stop offset="0.100" stop-color="#777777"/><stop offset="0.150" stop-color="#777777"/><stop offset="0.200" stop-color="#797979"/><stop offset="0.250" stop-color="#7a7a7a"/><stop offset="0.300" stop-color="#7c7c7c"/><stop offset="0.350" stop-color="#7f7f7f"/><stop offset="0.400" stop-color="#838383"/><stop offset="0.450" stop-color="#888888"/><stop offset="0.500" stop-color="#8d8d8d"/><stop offset="0.550" stop-color="#939393"/><stop offset="0.600" stop-color="#999999"/><stop offset="0.650" stop-color="#9f9f9f"/><stop offset="0.700" stop-color="#a6a6a6"/><stop offset="0.750" stop-color="#acacac"/><stop offset="0.800" stop-color="#b3b3b3"/><stop offset="0.850" stop-color="#bababa"/><stop offset="0.900" stop-color="#c0c0c0"/><stop offset="0.950" stop-color="#c7c7c7"/><stop offset="1.000" stop-color="#cdcdcd"/></linearGradient>
<linearGradient id="sg37" gradientUnits="userSpaceOnUse" x1="0" y1="1020.7" x2="0" y2="1174.2"><stop offset="0.000" stop-color="#767676"/><stop offset="0.050" stop-color="#777777"/><stop offset="0.100" stop-color="#787878"/><stop offset="0.150" stop-color="#7a7a7a"/><stop offset="0.200" stop-color="#7c7c7c"/><stop offset="0.250" stop-color="#7f7f7f"/><stop offset="0.300" stop-color="#828282"/><stop offset="0.350" stop-color="#878787"/><stop offset="0.400" stop-color="#8b8b8b"/><stop offset="0.450" stop-color="#909090"/><stop offset="0.500" stop-color="#969696"/><stop offset="0.550" stop-color="#9b9b9b"/><stop offset="0.600" stop-color="#a1a1a1"/><stop offset="0.650" stop-color="#a6a6a6"/><stop offset="0.700" stop-color="#acacac"/><stop offset="0.750" stop-color="#b1b1b1"/><stop offset="0.800" stop-color="#b7b7b7"/><stop offset="0.850" stop-color="#bcbcbc"/><stop offset="0.900" stop-color="#c2c2c2"/><stop offset="0.950" stop-color="#c8c8c8"/><stop offset="1.000" stop-color="#cdcdcd"/></linearGradient>
<linearGradient id="sg38" gradientUnits="userSpaceOnUse" x1="0" y1="1020.7" x2="0" y2="1174.2"><stop offset="0.000" stop-color="#767676"/><stop offset="0.050" stop-color="#777777"/><stop offset="0.100" stop-color="#797979"/><stop offset="0.150" stop-color="#7b7b7b"/><stop offset="0.200" stop-color="#7e7e7e"/><stop offset="0.250" stop-color="#828282"/><stop offset="0.300" stop-color="#868686"/><stop offset="0.350" stop-color="#8a8a8a"/><stop offset="0.400" stop-color="#8f8f8f"/><stop offset="0.450" stop-color="#949494"/><stop offset="0.500" stop-color="#999999"/><stop offset="0.550" stop-color="#9e9e9e"/><stop offset="0.600" stop-color="#a3a3a3"/><stop offset="0.650" stop-color="#a8a8a8"/><stop offset="0.700" stop-color="#aeaeae"/><stop offset="0.750" stop-color="#b3b3b3"/><stop offset="0.800" stop-color="#b8b8b8"/><stop offset="0.850" stop-color="#bdbdbd"/><stop offset="0.900" stop-color="#c3c3c3"/><stop offset="0.950" stop-color="#c8c8c8"/><stop offset="1.000" stop-color="#cdcdcd"/></linearGradient>
<linearGradient id="sg39" gradientUnits="userSpaceOnUse" x1="0" y1="1020.7" x2="0" y2="1174.2"><stop offset="0.000" stop-color="#767676"/><stop offset="0.050" stop-color="#777777"/><stop offset="0.100" stop-color="#787878"/><stop offset="0.150" stop-color="#797979"/><stop offset="0.200" stop-color="#7b7b7b"/><stop offset="0.250" stop-color="#7e7e7e"/><stop offset="0.300" stop-color="#828282"/><stop offset="0.350" stop-color="#868686"/><stop offset="0.400" stop-color="#8b8b8b"/><stop offset="0.450" stop-color="#909090"/><stop offset="0.500" stop-color="#959595"/><stop offset="0.550" stop-color="#9a9a9a"/><stop offset="0.600" stop-color="#a0a0a0"/><stop offset="0.650" stop-color="#a5a5a5"/><stop offset="0.700" stop-color="#ababab"/><stop offset="0.750" stop-color="#b1b1b1"/><stop offset="0.800" stop-color="#b6b6b6"/><stop offset="0.850" stop-color="#bcbcbc"/><stop offset="0.900" stop-color="#c2c2c2"/><stop offset="0.950" stop-color="#c7c7c7"/><stop offset="1.000" stop-color="#cdcdcd"/></linearGradient>
<linearGradient id="sg40" gradientUnits="userSpaceOnUse" x1="0" y1="1020.7" x2="0" y2="1174.2"><stop offset="0.000" stop-color="#767676"/><stop offset="0.050" stop-color="#767676"/><stop offset="0.100" stop-color="#777777"/><stop offset="0.150" stop-color="#797979"/><stop offset="0.200" stop-color="#7b7b7b"/><stop offset="0.250" stop-color="#7d7d7d"/><stop offset="0.300" stop-color="#818181"/><stop offset="0.350" stop-color="#858585"/><stop offset="0.400" stop-color="#898989"/><stop offset="0.450" stop-color="#8e8e8e"/><stop offset="0.500" stop-color="#949494"/><stop offset="0.550" stop-color="#999999"/><stop offset="0.600" stop-color="#9f9f9f"/><stop offset="0.650" stop-color="#a4a4a4"/><stop offset="0.700" stop-color="#aaaaaa"/><stop offset="0.750" stop-color="#b0b0b0"/><stop offset="0.800" stop-color="#b6b6b6"/><stop offset="0.850" stop-color="#bbbbbb"/><stop offset="0.900" stop-color="#c1c1c1"/><stop offset="0.950" stop-color="#c7c7c7"/><stop offset="1.000" stop-color="#cdcdcd"/></linearGradient>
<linearGradient id="sg41" gradientUnits="userSpaceOnUse" x1="0" y1="1020.7" x2="0" y2="1174.2"><stop offset="0.000" stop-color="#767676"/><stop offset="0.050" stop-color="#767676"/><stop offset="0.100" stop-color="#777777"/><stop offset="0.150" stop-color="#797979"/><stop offset="0.200" stop-color="#7b7b7b"/><stop offset="0.250" stop-color="#7d7d7d"/><stop offset="0.300" stop-color="#818181"/><stop offset="0.350" stop-color="#858585"/><stop offset="0.400" stop-color="#898989"/><stop offset="0.450" stop-color="#8e8e8e"/><stop offset="0.500" stop-color="#939393"/><stop offset="0.550" stop-color="#999999"/><stop offset="0.600" stop-color="#9f9f9f"/><stop offset="0.650" stop-color="#a4a4a4"/><stop offset="0.700" stop-color="#aaaaaa"/><stop offset="0.750" stop-color="#b0b0b0"/><stop offset="0.800" stop-color="#b6b6b6"/><stop offset="0.850" stop-color="#bbbbbb"/><stop offset="0.900" stop-color="#c1c1c1"/><stop offset="0.950" stop-color="#c7c7c7"/><stop offset="1.000" stop-color="#cdcdcd"/></linearGradient>
<linearGradient id="sg42" gradientUnits="userSpaceOnUse" x1="0" y1="1020.7" x2="0" y2="1174.2"><stop offset="0.000" stop-color="#767676"/><stop offset="0.050" stop-color="#767676"/><stop offset="0.100" stop-color="#777777"/><stop offset="0.150" stop-color="#787878"/><stop offset="0.200" stop-color="#797979"/><stop offset="0.250" stop-color="#7c7c7c"/><stop offset="0.300" stop-color="#7f7f7f"/><stop offset="0.350" stop-color="#828282"/><stop offset="0.400" stop-color="#878787"/><stop offset="0.450" stop-color="#8c8c8c"/><stop offset="0.500" stop-color="#919191"/><stop offset="0.550" stop-color="#979797"/><stop offset="0.600" stop-color="#9d9d9d"/><stop offset="0.650" stop-color="#a2a2a2"/><stop offset="0.700" stop-color="#a8a8a8"/><stop offset="0.750" stop-color="#aeaeae"/><stop offset="0.800" stop-color="#b4b4b4"/><stop offset="0.850" stop-color="#bababa"/><stop offset="0.900" stop-color="#c1c1c1"/><stop offset="0.950" stop-color="#c7c7c7"/><stop offset="1.000" stop-color="#cdcdcd"/></linearGradient>
<linearGradient id="sg43" gradientUnits="userSpaceOnUse" x1="0" y1="1020.7" x2="0" y2="1174.2"><stop offset="0.000" stop-color="#767676"/><stop offset="0.050" stop-color="#767676"/><stop offset="0.100" stop-color="#777777"/><stop offset="0.150" stop-color="#787878"/><stop offset="0.200" stop-color="#797979"/><stop offset="0.250" stop-color="#7b7b7b"/><stop offset="0.300" stop-color="#7e7e7e"/><stop offset="0.350" stop-color="#828282"/><stop offset="0.400" stop-color="#868686"/><stop offset="0.450" stop-color="#8b8b8b"/><stop offset="0.500" stop-color="#909090"/><stop offset="0.550" stop-color="#969696"/><stop offset="0.600" stop-color="#9c9c9c"/><stop offset="0.650" stop-color="#a2a2a2"/><stop offset="0.700" stop-color="#a8a8a8"/><stop offset="0.750" stop-color="#aeaeae"/><stop offset="0.800" stop-color="#b4b4b4"/><stop offset="0.850" stop-color="#bababa"/><stop offset="0.900" stop-color="#c0c0c0"/><stop offset="0.950" stop-color="#c6c6c6"/><stop offset="1.000" stop-color="#cdcdcd"/></linearGradient>
<linearGradient id="sg44" gradientUnits="userSpaceOnUse" x1="0" y1="1020.7" x2="0" y2="1174.2"><stop offset="0.000" stop-color="#767676"/><stop offset="0.050" stop-color="#767676"/><stop offset="0.100" stop-color="#777777"/><stop offset="0.150" stop-color="#787878"/><stop offset="0.200" stop-color="#797979"/><stop offset="0.250" stop-color="#7c7c7c"/><stop offset="0.300" stop-color="#7f7f7f"/><stop offset="0.350" stop-color="#838383"/><stop offset="0.400" stop-color="#878787"/><stop offset="0.450" stop-color="#8c8c8c"/><stop offset="0.500" stop-color="#919191"/><stop offset="0.550" stop-color="#979797"/><stop offset="0.600" stop-color="#9d9d9d"/><stop offset="0.650" stop-color="#a2a2a2"/><stop offset="0.700" stop-color="#a8a8a8"/><stop offset="0.750" stop-color="#aeaeae"/><stop offset="0.800" stop-color="#b4b4b4"/><stop offset="0.850" stop-color="#bababa"/><stop offset="0.900" stop-color="#c0c0c0"/><stop offset="0.950" stop-color="#c6c6c6"/><stop offset="1.000" stop-color="#cccccc"/></linearGradient>
<linearGradient id="sg45" gradientUnits="userSpaceOnUse" x1="0" y1="1020.7" x2="0" y2="1174.2"><stop offset="0.000" stop-color="#757575"/><stop offset="0.050" stop-color="#767676"/><stop offset="0.100" stop-color="#777777"/><stop offset="0.150" stop-color="#787878"/><stop offset="0.200" stop-color="#797979"/><stop offset="0.250" stop-color="#7b7b7b"/><stop offset="0.300" stop-color="#7e7e7e"/><stop offset="0.350" stop-color="#828282"/><stop offset="0.400" stop-color="#868686"/><stop offset="0.450" stop-color="#8b8b8b"/><stop offset="0.500" stop-color="#919191"/><stop offset="0.550" stop-color="#969696"/><stop offset="0.600" stop-color="#9c9c9c"/><stop offset="0.650" stop-color="#a2a2a2"/><stop offset="0.700" stop-color="#a8a8a8"/><stop offset="0.750" stop-color="#aeaeae"/><stop offset="0.800" stop-color="#b4b4b4"/><stop offset="0.850" stop-color="#bababa"/><stop offset="0.900" stop-color="#c0c0c0"/><stop offset="0.950" stop-color="#c6c6c6"/><stop offset="1.000" stop-color="#cccccc"/></linearGradient>
<linearGradient id="sg46" gradientUnits="userSpaceOnUse" x1="0" y1="1020.7" x2="0" y2="1174.2"><stop offset="0.000" stop-color="#757575"/><stop offset="0.050" stop-color="#767676"/><stop offset="0.100" stop-color="#767676"/><stop offset="0.150" stop-color="#777777"/><stop offset="0.200" stop-color="#787878"/><stop offset="0.250" stop-color="#797979"/><stop offset="0.300" stop-color="#7c7c7c"/><stop offset="0.350" stop-color="#7f7f7f"/><stop offset="0.400" stop-color="#828282"/><stop offset="0.450" stop-color="#878787"/><stop offset="0.500" stop-color="#8c8c8c"/><stop offset="0.550" stop-color="#929292"/><stop offset="0.600" stop-color="#989898"/><stop offset="0.650" stop-color="#9e9e9e"/><stop offset="0.700" stop-color="#a5a5a5"/><stop offset="0.750" stop-color="#ababab"/><stop offset="0.800" stop-color="#b2b2b2"/><stop offset="0.850" stop-color="#b8b8b8"/><stop offset="0.900" stop-color="#bfbfbf"/><stop offset="0.950" stop-color="#c6c6c6"/><stop offset="1.000" stop-color="#cccccc"/></linearGradient>
<linearGradient id="sg47" gradientUnits="userSpaceOnUse" x1="0" y1="1020.7" x2="0" y2="1174.2"><stop offset="0.000" stop-color="#757575"/><stop offset="0.050" stop-color="#767676"/><stop offset="0.100" stop-color="#767676"/><stop offset="0.150" stop-color="#777777"/><stop offset="0.200" stop-color="#777777"/><stop offset="0.250" stop-color="#797979"/><stop offset="0.300" stop-color="#7b7b7b"/><stop offset="0.350" stop-color="#7e7e7e"/><stop offset="0.400" stop-color="#818181"/><stop offset="0.450" stop-color="#868686"/><stop offset="0.500" stop-color="#8b8b8b"/><stop offset="0.550" stop-color="#919191"/><stop offset="0.600" stop-color="#979797"/><stop offset="0.650" stop-color="#9d9d9d"/><stop offset="0.700" stop-color="#a4a4a4"/><stop offset="0.750" stop-color="#aaaaaa"/><stop offset="0.800" stop-color="#b1b1b1"/><stop offset="0.850" stop-color="#b8b8b8"/><stop offset="0.900" stop-color="#bebebe"/><stop offset="0.950" stop-color="#c5c5c5"/><stop offset="1.000" stop-color="#cccccc"/></linearGradient>
<linearGradient id="sg48" gradientUnits="userSpaceOnUse" x1="0" y1="1020.7" x2="0" y2="1174.2"><stop offset="0.000" stop-color="#757575"/><stop offset="0.050" stop-color="#767676"/><stop offset="0.100" stop-color="#767676"/><stop offset="0.150" stop-color="#777777"/><stop offset="0.200" stop-color="#797979"/><stop offset="0.250" stop-color="#7b7b7b"/><stop offset="0.300" stop-color="#7e7e7e"/><stop offset="0.350" stop-color="#818181"/><stop offset="0.400" stop-color="#868686"/><stop offset="0.450" stop-color="#8a8a8a"/><stop offset="0.500" stop-color="#909090"/><stop offset="0.550" stop-color="#959595"/><stop offset="0.600" stop-color="#9b9b9b"/><stop offset="0.650" stop-color="#a1a1a1"/><stop offset="0.700" stop-color="#a7a7a7"/><stop offset="0.750" stop-color="#adadad"/><stop offset="0.800" stop-color="#b3b3b3"/><stop offset="0.850" stop-color="#bababa"/><stop offset="0.900" stop-color="#c0c0c0"/><stop offset="0.950" stop-color="#c6c6c6"/><stop offset="1.000" stop-color="#cccccc"/></linearGradient>
<linearGradient id="sg49" gradientUnits="userSpaceOnUse" x1="0" y1="1020.7" x2="0" y2="1174.2"><stop offset="0.000" stop-color="#757575"/><stop offset="0.050" stop-color="#767676"/><stop offset="0.100" stop-color="#777777"/><stop offset="0.150" stop-color="#787878"/><stop offset="0.200" stop-color="#7a7a7a"/><stop offset="0.250" stop-color="#7c7c7c"/><stop offset="0.300" stop-color="#7f7f7f"/><stop offset="0.350" stop-color="#838383"/><stop offset="0.400" stop-color="#878787"/><stop offset="0.450" stop-color="#8c8c8c"/><stop offset="0.500" stop-color="#929292"/><stop offset="0.550" stop-color="#979797"/><stop offset="0.600" stop-color="#9d9d9d"/><stop offset="0.650" stop-color="#a3a3a3"/><stop offset="0.700" stop-color="#a9a9a9"/><stop offset="0.750" stop-color="#aeaeae"/><stop offset="0.800" stop-color="#b4b4b4"/><stop offset="0.850" stop-color="#bababa"/><stop offset="0.900" stop-color="#c0c0c0"/><stop offset="0.950" stop-color="#c6c6c6"/><stop offset="1.000" stop-color="#cccccc"/></linearGradient>
<linearGradient id="sg50" gradientUnits="userSpaceOnUse" x1="0" y1="1020.7" x2="0" y2="1174.2"><stop offset="0.000" stop-color="#757575"/><stop offset="0.050" stop-color="#767676"/><stop offset="0.100" stop-color="#767676"/><stop offset="0.150" stop-color="#777777"/><stop offset="0.200" stop-color="#797979"/><stop offset="0.250" stop-color="#7b7b7b"/><stop offset="0.300" stop-color="#7e7e7e"/><stop offset="0.350" stop-color="#818181"/><stop offset="0.400" stop-color="#858585"/><stop offset="0.450" stop-color="#8a8a8a"/><stop offset="0.500" stop-color="#909090"/><stop offset="0.550" stop-color="#959595"/><stop offset="0.600" stop-color="#9b9b9b"/><stop offset="0.650" stop-color="#a1a1a1"/><stop offset="0.700" stop-color="#a7a7a7"/><stop offset="0.750" stop-color="#adadad"/><stop offset="0.800" stop-color="#b3b3b3"/><stop offset="0.850" stop-color="#bababa"/><stop offset="0.900" stop-color="#c0c0c0"/><stop offset="0.950" stop-color="#c6c6c6"/><stop offset="1.000" stop-color="#cccccc"/></linearGradient>
<linearGradient id="sg51" gradientUnits="userSpaceOnUse" x1="0" y1="1020.7" x2="0" y2="1174.2"><stop offset="0.000" stop-color="#757575"/><stop offset="0.050" stop-color="#767676"/><stop offset="0.100" stop-color="#767676"/><stop offset="0.150" stop-color="#787878"/><stop offset="0.200" stop-color="#797979"/><stop offset="0.250" stop-color="#7b7b7b"/><stop offset="0.300" stop-color="#7e7e7e"/><stop offset="0.350" stop-color="#828282"/><stop offset="0.400" stop-color="#878787"/><stop offset="0.450" stop-color="#8c8c8c"/><stop offset="0.500" stop-color="#919191"/><stop offset="0.550" stop-color="#969696"/><stop offset="0.600" stop-color="#9c9c9c"/><stop offset="0.650" stop-color="#a2a2a2"/><stop offset="0.700" stop-color="#a8a8a8"/><stop offset="0.750" stop-color="#aeaeae"/><stop offset="0.800" stop-color="#b4b4b4"/><stop offset="0.850" stop-color="#bababa"/><stop offset="0.900" stop-color="#c0c0c0"/><stop offset="0.950" stop-color="#c6c6c6"/><stop offset="1.000" stop-color="#cccccc"/></linearGradient>
<linearGradient id="sg52" gradientUnits="userSpaceOnUse" x1="0" y1="1020.7" x2="0" y2="1174.2"><stop offset="0.000" stop-color="#757575"/><stop offset="0.050" stop-color="#767676"/><stop offset="0.100" stop-color="#777777"/><stop offset="0.150" stop-color="#797979"/><stop offset="0.200" stop-color="#7b7b7b"/><stop offset="0.250" stop-color="#7e7e7e"/><stop offset="0.300" stop-color="#818181"/><stop offset="0.350" stop-color="#868686"/><stop offset="0.400" stop-color="#8a8a8a"/><stop offset="0.450" stop-color="#8f8f8f"/><stop offset="0.500" stop-color="#949494"/><stop offset="0.550" stop-color="#9a9a9a"/><stop offset="0.600" stop-color="#9f9f9f"/><stop offset="0.650" stop-color="#a5a5a5"/><stop offset="0.700" stop-color="#ababab"/><stop offset="0.750" stop-color="#b0b0b0"/><stop offset="0.800" stop-color="#b6b6b6"/><stop offset="0.850" stop-color="#bcbcbc"/><stop offset="0.900" stop-color="#c1c1c1"/><stop offset="0.950" stop-color="#c7c7c7"/><stop offset="1.000" stop-color="#cdcdcd"/></linearGradient>
<linearGradient id="sg53" gradientUnits="userSpaceOnUse" x1="0" y1="1020.7" x2="0" y2="1174.2"><stop offset="0.000" stop-color="#757575"/><stop offset="0.050" stop-color="#767676"/><stop offset="0.100" stop-color="#777777"/><stop offset="0.150" stop-color="#787878"/><stop offset="0.200" stop-color="#7a7a7a"/><stop offset="0.250" stop-color="#7d7d7d"/><stop offset="0.300" stop-color="#808080"/><stop offset="0.350" stop-color="#848484"/><stop offset="0.400" stop-color="#898989"/><stop offset="0.450" stop-color="#8e8e8e"/><stop offset="0.500" stop-color="#939393"/><stop offset="0.550" stop-color="#999999"/><stop offset="0.600" stop-color="#9e9e9e"/><stop offset="0.650" stop-color="#a4a4a4"/><stop offset="0.700" stop-color="#aaaaaa"/><stop offset="0.750" stop-color="#b0b0b0"/><stop offset="0.800" stop-color="#b5b5b5"/><stop offset="0.850" stop-color="#bbbbbb"/><stop offset="0.900" stop-color="#c1c1c1"/><stop offset="0.950" stop-color="#c7c7c7"/><stop offset="1.000" stop-color="#cdcdcd"/></linearGradient>
<linearGradient id="sg54" gradientUnits="userSpaceOnUse" x1="0" y1="1020.7" x2="0" y2="1174.2"><stop offset="0.000" stop-color="#757575"/><stop offset="0.050" stop-color="#767676"/><stop offset="0.100" stop-color="#767676"/><stop offset="0.150" stop-color="#777777"/><stop offset="0.200" stop-color="#797979"/><stop offset="0.250" stop-color="#7b7b7b"/><stop offset="0.300" stop-color="#7e7e7e"/><stop offset="0.350" stop-color="#818181"/><stop offset="0.400" stop-color="#868686"/><stop offset="0.450" stop-color="#8b8b8b"/><stop offset="0.500" stop-color="#909090"/><stop offset="0.550" stop-color="#969696"/><stop offset="0.600" stop-color="#9c9c9c"/><stop offset="0.650" stop-color="#a2a2a2"/><stop offset="0.700" stop-color="#a8a8a8"/><stop offset="0.750" stop-color="#aeaeae"/><stop offset="0.800" stop-color="#b4b4b4"/><stop offset="0.850" stop-color="#bababa"/><stop offset="0.900" stop-color="#c0c0c0"/><stop offset="0.950" stop-color="#c7c7c7"/><stop offset="1.000" stop-color="#cdcdcd"/></linearGradient>
<linearGradient id="sg55" gradientUnits="userSpaceOnUse" x1="0" y1="1020.7" x2="0" y2="1174.2"><stop offset="0.000" stop-color="#757575"/><stop offset="0.050" stop-color="#767676"/><stop offset="0.100" stop-color="#777777"/><stop offset="0.150" stop-color="#787878"/><stop offset="0.200" stop-color="#797979"/><stop offset="0.250" stop-color="#7c7c7c"/><stop offset="0.300" stop-color="#7f7f7f"/><stop offset="0.350" stop-color="#838383"/><stop offset="0.400" stop-color="#878787"/><stop offset="0.450" stop-color="#8c8c8c"/><stop offset="0.500" stop-color="#929292"/><stop offset="0.550" stop-color="#979797"/><stop offset="0.600" stop-color="#9d9d9d"/><stop offset="0.650" stop-color="#a3a3a3"/><stop offset="0.700" stop-color="#a9a9a9"/><stop offset="0.750" stop-color="#afafaf"/><stop offset="0.800" stop-color="#b5b5b5"/><stop offset="0.850" stop-color="#bbbbbb"/><stop offset="0.900" stop-color="#c1c1c1"/><stop offset="0.950" stop-color="#c7c7c7"/><stop offset="1.000" stop-color="#cdcdcd"/></linearGradient>
<linearGradient id="sg56" gradientUnits="userSpaceOnUse" x1="0" y1="1020.7" x2="0" y2="1174.2"><stop offset="0.000" stop-color="#757575"/><stop offset="0.050" stop-color="#767676"/><stop offset="0.100" stop-color="#777777"/><stop offset="0.150" stop-color="#787878"/><stop offset="0.200" stop-color="#7a7a7a"/><stop offset="0.250" stop-color="#7d7d7d"/><stop offset="0.300" stop-color="#808080"/><stop offset="0.350" stop-color="#848484"/><stop offset="0.400" stop-color="#898989"/><stop offset="0.450" stop-color="#8e8e8e"/><stop offset="0.500" stop-color="#939393"/><stop offset="0.550" stop-color="#999999"/><stop offset="0.600" stop-color="#9e9e9e"/><stop offset="0.650" stop-color="#a4a4a4"/><stop offset="0.700" stop-color="#aaaaaa"/><stop offset="0.750" stop-color="#b0b0b0"/><stop offset="0.800" stop-color="#b6b6b6"/><stop offset="0.850" stop-color="#bbbbbb"/><stop offset="0.900" stop-color="#c1c1c1"/><stop offset="0.950" stop-color="#c7c7c7"/><stop offset="1.000" stop-color="#cdcdcd"/></linearGradient>
<linearGradient id="sg57" gradientUnits="userSpaceOnUse" x1="0" y1="1020.7" x2="0" y2="1174.2"><stop offset="0.000" stop-color="#757575"/><stop offset="0.050" stop-color="#767676"/><stop offset="0.100" stop-color="#777777"/><stop offset="0.150" stop-color="#787878"/><stop offset="0.200" stop-color="#7a7a7a"/><stop offset="0.250" stop-color="#7c7c7c"/><stop offset="0.300" stop-color="#808080"/><stop offset="0.350" stop-color="#838383"/><stop offset="0.400" stop-color="#888888"/><stop offset="0.450" stop-color="#8d8d8d"/><stop offset="0.500" stop-color="#929292"/><stop offset="0.550" stop-color="#989898"/><stop offset="0.600" stop-color="#9e9e9e"/><stop offset="0.650" stop-color="#a4a4a4"/><stop offset="0.700" stop-color="#a9a9a9"/><stop offset="0.750" stop-color="#afafaf"/><stop offset="0.800" stop-color="#b5b5b5"/><stop offset="0.850" stop-color="#bbbbbb"/><stop offset="0.900" stop-color="#c1c1c1"/><stop offset="0.950" stop-color="#c7c7c7"/><stop offset="1.000" stop-color="#cdcdcd"/></linearGradient>
<linearGradient id="sg58" gradientUnits="userSpaceOnUse" x1="0" y1="1020.7" x2="0" y2="1174.2"><stop offset="0.000" stop-color="#757575"/><stop offset="0.050" stop-color="#767676"/><stop offset="0.100" stop-color="#777777"/><stop offset="0.150" stop-color="#787878"/><stop offset="0.200" stop-color="#7a7a7a"/><stop offset="0.250" stop-color="#7c7c7c"/><stop offset="0.300" stop-color="#808080"/><stop offset="0.350" stop-color="#838383"/><stop offset="0.400" stop-color="#888888"/><stop offset="0.450" stop-color="#8d8d8d"/><stop offset="0.500" stop-color="#929292"/><stop offset="0.550" stop-color="#989898"/><stop offset="0.600" stop-color="#9e9e9e"/><stop offset="0.650" stop-color="#a4a4a4"/><stop offset="0.700" stop-color="#aaaaaa"/><stop offset="0.750" stop-color="#afafaf"/><stop offset="0.800" stop-color="#b5b5b5"/><stop offset="0.850" stop-color="#bbbbbb"/><stop offset="0.900" stop-color="#c1c1c1"/><stop offset="0.950" stop-color="#c7c7c7"/><stop offset="1.000" stop-color="#cdcdcd"/></linearGradient>
<linearGradient id="sg59" gradientUnits="userSpaceOnUse" x1="0" y1="1020.7" x2="0" y2="1174.2"><stop offset="0.000" stop-color="#757575"/><stop offset="0.050" stop-color="#767676"/><stop offset="0.100" stop-color="#777777"/><stop offset="0.150" stop-color="#797979"/><stop offset="0.200" stop-color="#7b7b7b"/><stop offset="0.250" stop-color="#7e7e7e"/><stop offset="0.300" stop-color="#828282"/><stop offset="0.350" stop-color="#868686"/><stop offset="0.400" stop-color="#8b8b8b"/><stop offset="0.450" stop-color="#909090"/><stop offset="0.500" stop-color="#959595"/><stop offset="0.550" stop-color="#9b9b9b"/><stop offset="0.600" stop-color="#a0a0a0"/><stop offset="0.650" stop-color="#a6a6a6"/><stop offset="0.700" stop-color="#ababab"/><stop offset="0.750" stop-color="#b1b1b1"/><stop offset="0.800" stop-color="#b7b7b7"/><stop offset="0.850" stop-color="#bcbcbc"/><stop offset="0.900" stop-color="#c2c2c2"/><stop offset="0.950" stop-color="#c8c8c8"/><stop offset="1.000" stop-color="#cdcdcd"/></linearGradient>
<linearGradient id="sg60" gradientUnits="userSpaceOnUse" x1="0" y1="1020.7" x2="0" y2="1174.2"><stop offset="0.000" stop-color="#757575"/><stop offset="0.050" stop-color="#767676"/><stop offset="0.100" stop-color="#777777"/><stop offset="0.150" stop-color="#797979"/><stop offset="0.200" stop-color="#7b7b7b"/><stop offset="0.250" stop-color="#7e7e7e"/><stop offset="0.300" stop-color="#828282"/><stop offset="0.350" stop-color="#868686"/><stop offset="0.400" stop-color="#8b8b8b"/><stop offset="0.450" stop-color="#909090"/><stop offset="0.500" stop-color="#969696"/><stop offset="0.550" stop-color="#9b9b9b"/><stop offset="0.600" stop-color="#a0a0a0"/><stop offset="0.650" stop-color="#a6a6a6"/><stop offset="0.700" stop-color="#acacac"/><stop offset="0.750" stop-color="#b1b1b1"/><stop offset="0.800" stop-color="#b7b7b7"/><stop offset="0.850" stop-color="#bdbdbd"/><stop offset="0.900" stop-color="#c2c2c2"/><stop offset="0.950" stop-color="#c8c8c8"/><stop offset="1.000" stop-color="#cecece"/></linearGradient>
<linearGradient id="sg61" gradientUnits="userSpaceOnUse" x1="0" y1="1020.7" x2="0" y2="1174.2"><stop offset="0.000" stop-color="#757575"/><stop offset="0.050" stop-color="#767676"/><stop offset="0.100" stop-color="#767676"/><stop offset="0.150" stop-color="#777777"/><stop offset="0.200" stop-color="#797979"/><stop offset="0.250" stop-color="#7b7b7b"/><stop offset="0.300" stop-color="#7e7e7e"/><stop offset="0.350" stop-color="#828282"/><stop offset="0.400" stop-color="#868686"/><stop offset="0.450" stop-color="#8b8b8b"/><stop offset="0.500" stop-color="#919191"/><stop offset="0.550" stop-color="#969696"/><stop offset="0.600" stop-color="#9c9c9c"/><stop offset="0.650" stop-color="#a2a2a2"/><stop offset="0.700" stop-color="#a8a8a8"/><stop offset="0.750" stop-color="#afafaf"/><stop offset="0.800" stop-color="#b5b5b5"/><stop offset="0.850" stop-color="#bbbbbb"/><stop offset="0.900" stop-color="#c1c1c1"/><stop offset="0.950" stop-color="#c7c7c7"/><stop offset="1.000" stop-color="#cecece"/></linearGradient>
<linearGradient id="sg62" gradientUnits="userSpaceOnUse" x1="0" y1="1020.7" x2="0" y2="1174.2"><stop offset="0.000" stop-color="#757575"/><stop offset="0.050" stop-color="#767676"/><stop offset="0.100" stop-color="#777777"/><stop offset="0.150" stop-color="#787878"/><stop offset="0.200" stop-color="#797979"/><stop offset="0.250" stop-color="#7c7c7c"/><stop offset="0.300" stop-color="#7f7f7f"/><stop offset="0.350" stop-color="#838383"/><stop offset="0.400" stop-color="#878787"/><stop offset="0.450" stop-color="#8c8c8c"/><stop offset="0.500" stop-color="#919191"/><stop offset="0.550" stop-color="#979797"/><stop offset="0.600" stop-color="#9d9d9d"/><stop offset="0.650" stop-color="#a3a3a3"/><stop offset="0.700" stop-color="#a9a9a9"/><stop offset="0.750" stop-color="#afafaf"/><stop offset="0.800" stop-color="#b5b5b5"/><stop offset="0.850" stop-color="#bbbbbb"/><stop offset="0.900" stop-color="#c1c1c1"/><stop offset="0.950" stop-color="#c8c8c8"/><stop offset="1.000" stop-color="#cecece"/></linearGradient>
<linearGradient id="sg63" gradientUnits="userSpaceOnUse" x1="0" y1="1020.7" x2="0" y2="1174.2"><stop offset="0.000" stop-color="#757575"/><stop offset="0.050" stop-color="#767676"/><stop offset="0.100" stop-color="#777777"/><stop offset="0.150" stop-color="#787878"/><stop offset="0.200" stop-color="#7a7a7a"/><stop offset="0.250" stop-color="#7d7d7d"/><stop offset="0.300" stop-color="#818181"/><stop offset="0.350" stop-color="#858585"/><stop offset="0.400" stop-color="#8a8a8a"/><stop offset="0.450" stop-color="#8f8f8f"/><stop offset="0.500" stop-color="#949494"/><stop offset="0.550" stop-color="#9a9a9a"/><stop offset="0.600" stop-color="#9f9f9f"/><stop offset="0.650" stop-color="#a5a5a5"/><stop offset="0.700" stop-color="#ababab"/><stop offset="0.750" stop-color="#b1b1b1"/><stop offset="0.800" stop-color="#b6b6b6"/><stop offset="0.850" stop-color="#bcbcbc"/><stop offset="0.900" stop-color="#c2c2c2"/><stop offset="0.950" stop-color="#c8c8c8"/><stop offset="1.000" stop-color="#cecece"/></linearGradient>
<linearGradient id="sg64" gradientUnits="userSpaceOnUse" x1="0" y1="1020.7" x2="0" y2="1174.2"><stop offset="0.000" stop-color="#757575"/><stop offset="0.050" stop-color="#767676"/><stop offset="0.100" stop-color="#777777"/><stop offset="0.150" stop-color="#787878"/><stop offset="0.200" stop-color="#797979"/><stop offset="0.250" stop-color="#7c7c7c"/><stop offset="0.300" stop-color="#7f7f7f"/><stop offset="0.350" stop-color="#838383"/><stop offset="0.400" stop-color="#878787"/><stop offset="0.450" stop-color="#8c8c8c"/><stop offset="0.500" stop-color="#929292"/><stop offset="0.550" stop-color="#979797"/><stop offset="0.600" stop-color="#9d9d9d"/><stop offset="0.650" stop-color="#a3a3a3"/><stop offset="0.700" stop-color="#a9a9a9"/><stop offset="0.750" stop-color="#afafaf"/><stop offset="0.800" stop-color="#b5b5b5"/><stop offset="0.850" stop-color="#bcbcbc"/><stop offset="0.900" stop-color="#c2c2c2"/><stop offset="0.950" stop-color="#c8c8c8"/><stop offset="1.000" stop-color="#cecece"/></linearGradient>
<linearGradient id="sg65" gradientUnits="userSpaceOnUse" x1="0" y1="1020.7" x2="0" y2="1174.2"><stop offset="0.000" stop-color="#757575"/><stop offset="0.050" stop-color="#767676"/><stop offset="0.100" stop-color="#767676"/><stop offset="0.150" stop-color="#787878"/><stop offset="0.200" stop-color="#797979"/><stop offset="0.250" stop-color="#7c7c7c"/><stop offset="0.300" stop-color="#7f7f7f"/><stop offset="0.350" stop-color="#828282"/><stop offset="0.400" stop-color="#878787"/><stop offset="0.450" stop-color="#8c8c8c"/><stop offset="0.500" stop-color="#919191"/><stop offset="0.550" stop-color="#979797"/><stop offset="0.600" stop-color="#9d9d9d"/><stop offset="0.650" stop-color="#a3a3a3"/><stop offset="0.700" stop-color="#a9a9a9"/><stop offset="0.750" stop-color="#afafaf"/><stop offset="0.800" stop-color="#b5b5b5"/><stop offset="0.850" stop-color="#bcbcbc"/><stop offset="0.900" stop-color="#c2c2c2"/><stop offset="0.950" stop-color="#c8c8c8"/><stop offset="1.000" stop-color="#cecece"/></linearGradient>
<linearGradient id="sg66" gradientUnits="userSpaceOnUse" x1="0" y1="1020.7" x2="0" y2="1174.2"><stop offset="0.000" stop-color="#757575"/><stop offset="0.050" stop-color="#767676"/><stop offset="0.100" stop-color="#777777"/><stop offset="0.150" stop-color="#787878"/><stop offset="0.200" stop-color="#797979"/><stop offset="0.250" stop-color="#7c7c7c"/><stop offset="0.300" stop-color="#7f7f7f"/><stop offset="0.350" stop-color="#838383"/><stop offset="0.400" stop-color="#878787"/><stop offset="0.450" stop-color="#8c8c8c"/><stop offset="0.500" stop-color="#929292"/><stop offset="0.550" stop-color="#989898"/><stop offset="0.600" stop-color="#9d9d9d"/><stop offset="0.650" stop-color="#a3a3a3"/><stop offset="0.700" stop-color="#a9a9a9"/><stop offset="0.750" stop-color="#b0b0b0"/><stop offset="0.800" stop-color="#b6b6b6"/><stop offset="0.850" stop-color="#bcbcbc"/><stop offset="0.900" stop-color="#c2c2c2"/><stop offset="0.950" stop-color="#c8c8c8"/><stop offset="1.000" stop-color="#cecece"/></linearGradient>
<linearGradient id="sg67" gradientUnits="userSpaceOnUse" x1="0" y1="1020.7" x2="0" y2="1174.2"><stop offset="0.000" stop-color="#757575"/><stop offset="0.050" stop-color="#767676"/><stop offset="0.100" stop-color="#767676"/><stop offset="0.150" stop-color="#777777"/><stop offset="0.200" stop-color="#787878"/><stop offset="0.250" stop-color="#7a7a7a"/><stop offset="0.300" stop-color="#7c7c7c"/><stop offset="0.350" stop-color="#7f7f7f"/><stop offset="0.400" stop-color="#838383"/><stop offset="0.450" stop-color="#888888"/><stop offset="0.500" stop-color="#8e8e8e"/><stop offset="0.550" stop-color="#939393"/><stop offset="0.600" stop-color="#9a9a9a"/><stop offset="0.650" stop-color="#a0a0a0"/><stop offset="0.700" stop-color="#a6a6a6"/><stop offset="0.750" stop-color="#adadad"/><stop offset="0.800" stop-color="#b4b4b4"/><stop offset="0.850" stop-color="#bababa"/><stop offset="0.900" stop-color="#c1c1c1"/><stop offset="0.950" stop-color="#c8c8c8"/><stop offset="1.000" stop-color="#cecece"/></linearGradient>
<linearGradient id="sg68" gradientUnits="userSpaceOnUse" x1="0" y1="1020.7" x2="0" y2="1174.2"><stop offset="0.000" stop-color="#757575"/><stop offset="0.050" stop-color="#767676"/><stop offset="0.100" stop-color="#767676"/><stop offset="0.150" stop-color="#767676"/><stop offset="0.200" stop-color="#777777"/><stop offset="0.250" stop-color="#797979"/><stop offset="0.300" stop-color="#7b7b7b"/><stop offset="0.350" stop-color="#7e7e7e"/><stop offset="0.400" stop-color="#818181"/><stop offset="0.450" stop-color="#868686"/><stop offset="0.500" stop-color="#8b8b8b"/><stop offset="0.550" stop-color="#919191"/><stop offset="0.600" stop-color="#979797"/><stop offset="0.650" stop-color="#9e9e9e"/><stop offset="0.700" stop-color="#a5a5a5"/><stop offset="0.750" stop-color="#ababab"/><stop offset="0.800" stop-color="#b2b2b2"/><stop offset="0.850" stop-color="#b9b9b9"/><stop offset="0.900" stop-color="#c0c0c0"/><stop offset="0.950" stop-color="#c7c7c7"/><stop offset="1.000" stop-color="#cecece"/></linearGradient>
<linearGradient id="sg69" gradientUnits="userSpaceOnUse" x1="0" y1="1020.7" x2="0" y2="1174.2"><stop offset="0.000" stop-color="#757575"/><stop offset="0.050" stop-color="#767676"/><stop offset="0.100" stop-color="#767676"/><stop offset="0.150" stop-color="#777777"/><stop offset="0.200" stop-color="#787878"/><stop offset="0.250" stop-color="#7a7a7a"/><stop offset="0.300" stop-color="#7c7c7c"/><stop offset="0.350" stop-color="#7f7f7f"/><stop offset="0.400" stop-color="#838383"/><stop offset="0.450" stop-color="#888888"/><stop offset="0.500" stop-color="#8d8d8d"/><stop offset="0.550" stop-color="#939393"/><stop offset="0.600" stop-color="#999999"/><stop offset="0.650" stop-color="#a0a0a0"/><stop offset="0.700" stop-color="#a6a6a6"/><stop offset="0.750" stop-color="#adadad"/><stop offset="0.800" stop-color="#b4b4b4"/><stop offset="0.850" stop-color="#bababa"/><stop offset="0.900" stop-color="#c1c1c1"/><stop offset="0.950" stop-color="#c8c8c8"/><stop offset="1.000" stop-color="#cfcfcf"/></linearGradient>
<linearGradient id="sg70" gradientUnits="userSpaceOnUse" x1="0" y1="1020.7" x2="0" y2="1174.2"><stop offset="0.000" stop-color="#767676"/><stop offset="0.050" stop-color="#767676"/><stop offset="0.100" stop-color="#767676"/><stop offset="0.150" stop-color="#777777"/><stop offset="0.200" stop-color="#787878"/><stop offset="0.250" stop-color="#7a7a7a"/><stop offset="0.300" stop-color="#7c7c7c"/><stop offset="0.350" stop-color="#7f7f7f"/><stop offset="0.400" stop-color="#838383"/><stop offset="0.450" stop-color="#888888"/><stop offset="0.500" stop-color="#8d8d8d"/><stop offset="0.550" stop-color="#939393"/><stop offset="0.600" stop-color="#999999"/><stop offset="0.650" stop-color="#a0a0a0"/><stop offset="0.700" stop-color="#a6a6a6"/><stop offset="0.750" stop-color="#adadad"/><stop offset="0.800" stop-color="#b4b4b4"/><stop offset="0.850" stop-color="#bbbbbb"/><stop offset="0.900" stop-color="#c1c1c1"/><stop offset="0.950" stop-color="#c8c8c8"/><stop offset="1.000" stop-color="#cfcfcf"/></linearGradient>
<linearGradient id="sg71" gradientUnits="userSpaceOnUse" x1="0" y1="1020.7" x2="0" y2="1174.2"><stop offset="0.000" stop-color="#767676"/><stop offset="0.050" stop-color="#767676"/><stop offset="0.100" stop-color="#777777"/><stop offset="0.150" stop-color="#787878"/><stop offset="0.200" stop-color="#797979"/><stop offset="0.250" stop-color="#7b7b7b"/><stop offset="0.300" stop-color="#7d7d7d"/><stop offset="0.350" stop-color="#818181"/><stop offset="0.400" stop-color="#858585"/><stop offset="0.450" stop-color="#8a8a8a"/><stop offset="0.500" stop-color="#8f8f8f"/><stop offset="0.550" stop-color="#959595"/><stop offset="0.600" stop-color="#9b9b9b"/><stop offset="0.650" stop-color="#a2a2a2"/><stop offset="0.700" stop-color="#a8a8a8"/><stop offset="0.750" stop-color="#afafaf"/><stop offset="0.800" stop-color="#b5b5b5"/><stop offset="0.850" stop-color="#bcbcbc"/><stop offset="0.900" stop-color="#c2c2c2"/><stop offset="0.950" stop-color="#c9c9c9"/><stop offset="1.000" stop-color="#d0d0d0"/></linearGradient>
<linearGradient id="sg72" gradientUnits="userSpaceOnUse" x1="0" y1="1020.7" x2="0" y2="1174.2"><stop offset="0.000" stop-color="#767676"/><stop offset="0.050" stop-color="#777777"/><stop offset="0.100" stop-color="#787878"/><stop offset="0.150" stop-color="#7a7a7a"/><stop offset="0.200" stop-color="#7c7c7c"/><stop offset="0.250" stop-color="#808080"/><stop offset="0.300" stop-color="#848484"/><stop offset="0.350" stop-color="#888888"/><stop offset="0.400" stop-color="#8d8d8d"/><stop offset="0.450" stop-color="#929292"/><stop offset="0.500" stop-color="#979797"/><stop offset="0.550" stop-color="#9d9d9d"/><stop offset="0.600" stop-color="#a2a2a2"/><stop offset="0.650" stop-color="#a8a8a8"/><stop offset="0.700" stop-color="#aeaeae"/><stop offset="0.750" stop-color="#b3b3b3"/><stop offset="0.800" stop-color="#b9b9b9"/><stop offset="0.850" stop-color="#bfbfbf"/><stop offset="0.900" stop-color="#c5c5c5"/><stop offset="0.950" stop-color="#cacaca"/><stop offset="1.000" stop-color="#d0d0d0"/></linearGradient>
<linearGradient id="sg73" gradientUnits="userSpaceOnUse" x1="0" y1="1020.7" x2="0" y2="1174.2"><stop offset="0.000" stop-color="#767676"/><stop offset="0.050" stop-color="#777777"/><stop offset="0.100" stop-color="#797979"/><stop offset="0.150" stop-color="#7b7b7b"/><stop offset="0.200" stop-color="#7e7e7e"/><stop offset="0.250" stop-color="#818181"/><stop offset="0.300" stop-color="#858585"/><stop offset="0.350" stop-color="#8a8a8a"/><stop offset="0.400" stop-color="#8f8f8f"/><stop offset="0.450" stop-color="#949494"/><stop offset="0.500" stop-color="#999999"/><stop offset="0.550" stop-color="#9f9f9f"/><stop offset="0.600" stop-color="#a4a4a4"/><stop offset="0.650" stop-color="#aaaaaa"/><stop offset="0.700" stop-color="#afafaf"/><stop offset="0.750" stop-color="#b5b5b5"/><stop offset="0.800" stop-color="#bababa"/><stop offset="0.850" stop-color="#c0c0c0"/><stop offset="0.900" stop-color="#c5c5c5"/><stop offset="0.950" stop-color="#cbcbcb"/><stop offset="1.000" stop-color="#d1d1d1"/></linearGradient>
<linearGradient id="sg74" gradientUnits="userSpaceOnUse" x1="0" y1="1020.7" x2="0" y2="1174.2"><stop offset="0.000" stop-color="#777777"/><stop offset="0.050" stop-color="#787878"/><stop offset="0.100" stop-color="#797979"/><stop offset="0.150" stop-color="#7b7b7b"/><stop offset="0.200" stop-color="#7e7e7e"/><stop offset="0.250" stop-color="#818181"/><stop offset="0.300" stop-color="#858585"/><stop offset="0.350" stop-color="#8a8a8a"/><stop offset="0.400" stop-color="#8f8f8f"/><stop offset="0.450" stop-color="#949494"/><stop offset="0.500" stop-color="#999999"/><stop offset="0.550" stop-color="#9f9f9f"/><stop offset="0.600" stop-color="#a4a4a4"/><stop offset="0.650" stop-color="#aaaaaa"/><stop offset="0.700" stop-color="#afafaf"/><stop offset="0.750" stop-color="#b5b5b5"/><stop offset="0.800" stop-color="#bbbbbb"/><stop offset="0.850" stop-color="#c0c0c0"/><stop offset="0.900" stop-color="#c6c6c6"/><stop offset="0.950" stop-color="#cbcbcb"/><stop offset="1.000" stop-color="#d1d1d1"/></linearGradient>
<linearGradient id="sg75" gradientUnits="userSpaceOnUse" x1="0" y1="1020.7" x2="0" y2="1174.2"><stop offset="0.000" stop-color="#777777"/><stop offset="0.050" stop-color="#787878"/><stop offset="0.100" stop-color="#7a7a7a"/><stop offset="0.150" stop-color="#7d7d7d"/><stop offset="0.200" stop-color="#808080"/><stop offset="0.250" stop-color="#848484"/><stop offset="0.300" stop-color="#888888"/><stop offset="0.350" stop-color="#8d8d8d"/><stop offset="0.400" stop-color="#929292"/><stop offset="0.450" stop-color="#979797"/><stop offset="0.500" stop-color="#9c9c9c"/><stop offset="0.550" stop-color="#a2a2a2"/><stop offset="0.600" stop-color="#a7a7a7"/><stop offset="0.650" stop-color="#acacac"/><stop offset="0.700" stop-color="#b1b1b1"/><stop offset="0.750" stop-color="#b7b7b7"/><stop offset="0.800" stop-color="#bcbcbc"/><stop offset="0.850" stop-color="#c1c1c1"/><stop offset="0.900" stop-color="#c7c7c7"/><stop offset="0.950" stop-color="#cccccc"/><stop offset="1.000" stop-color="#d1d1d1"/></linearGradient>
<linearGradient id="sg76" gradientUnits="userSpaceOnUse" x1="0" y1="1020.7" x2="0" y2="1174.2"><stop offset="0.000" stop-color="#777777"/><stop offset="0.050" stop-color="#787878"/><stop offset="0.100" stop-color="#7a7a7a"/><stop offset="0.150" stop-color="#7c7c7c"/><stop offset="0.200" stop-color="#7f7f7f"/><stop offset="0.250" stop-color="#838383"/><stop offset="0.300" stop-color="#878787"/><stop offset="0.350" stop-color="#8c8c8c"/><stop offset="0.400" stop-color="#919191"/><stop offset="0.450" stop-color="#969696"/><stop offset="0.500" stop-color="#9b9b9b"/><stop offset="0.550" stop-color="#a1a1a1"/><stop offset="0.600" stop-color="#a6a6a6"/><stop offset="0.650" stop-color="#ababab"/><stop offset="0.700" stop-color="#b1b1b1"/><stop offset="0.750" stop-color="#b6b6b6"/><stop offset="0.800" stop-color="#bcbcbc"/><stop offset="0.850" stop-color="#c1c1c1"/><stop offset="0.900" stop-color="#c7c7c7"/><stop offset="0.950" stop-color="#cccccc"/><stop offset="1.000" stop-color="#d2d2d2"/></linearGradient>
<linearGradient id="sg77" gradientUnits="userSpaceOnUse" x1="0" y1="1020.7" x2="0" y2="1174.2"><stop offset="0.000" stop-color="#777777"/><stop offset="0.050" stop-color="#787878"/><stop offset="0.100" stop-color="#797979"/><stop offset="0.150" stop-color="#7a7a7a"/><stop offset="0.200" stop-color="#7d7d7d"/><stop offset="0.250" stop-color="#7f7f7f"/><stop offset="0.300" stop-color="#838383"/><stop offset="0.350" stop-color="#878787"/><stop offset="0.400" stop-color="#8c8c8c"/><stop offset="0.450" stop-color="#919191"/><stop offset="0.500" stop-color="#979797"/><stop offset="0.550" stop-color="#9d9d9d"/><stop offset="0.600" stop-color="#a2a2a2"/><stop offset="0.650" stop-color="#a8a8a8"/><stop offset="0.700" stop-color="#aeaeae"/><stop offset="0.750" stop-color="#b4b4b4"/><stop offset="0.800" stop-color="#bababa"/><stop offset="0.850" stop-color="#c0c0c0"/><stop offset="0.900" stop-color="#c6c6c6"/><stop offset="0.950" stop-color="#cccccc"/><stop offset="1.000" stop-color="#d2d2d2"/></linearGradient>
<linearGradient id="sg78" gradientUnits="userSpaceOnUse" x1="0" y1="1020.7" x2="0" y2="1174.2"><stop offset="0.000" stop-color="#777777"/><stop offset="0.050" stop-color="#787878"/><stop offset="0.100" stop-color="#797979"/><stop offset="0.150" stop-color="#7b7b7b"/><stop offset="0.200" stop-color="#7d7d7d"/><stop offset="0.250" stop-color="#7f7f7f"/><stop offset="0.300" stop-color="#838383"/><stop offset="0.350" stop-color="#878787"/><stop offset="0.400" stop-color="#8c8c8c"/><stop offset="0.450" stop-color="#919191"/><stop offset="0.500" stop-color="#979797"/><stop offset="0.550" stop-color="#9d9d9d"/><stop offset="0.600" stop-color="#a3a3a3"/><stop offset="0.650" stop-color="#a8a8a8"/><stop offset="0.700" stop-color="#aeaeae"/><stop offset="0.750" stop-color="#b4b4b4"/><stop offset="0.800" stop-color="#bbbbbb"/><stop offset="0.850" stop-color="#c1c1c1"/><stop offset="0.900" stop-color="#c7c7c7"/><stop offset="0.950" stop-color="#cdcdcd"/><stop offset="1.000" stop-color="#d3d3d3"/></linearGradient>
<linearGradient id="sg79" gradientUnits="userSpaceOnUse" x1="0" y1="1020.7" x2="0" y2="1174.2"><stop offset="0.000" stop-color="#787878"/><stop offset="0.050" stop-color="#797979"/><stop offset="0.100" stop-color="#7b7b7b"/><stop offset="0.150" stop-color="#7d7d7d"/><stop offset="0.200" stop-color="#808080"/><stop offset="0.250" stop-color="#848484"/><stop offset="0.300" stop-color="#888888"/><stop offset="0.350" stop-color="#8d8d8d"/><stop offset="0.400" stop-color="#929292"/><stop offset="0.450" stop-color="#979797"/><stop offset="0.500" stop-color="#9c9c9c"/><stop offset="0.550" stop-color="#a2a2a2"/><stop offset="0.600" stop-color="#a7a7a7"/><stop offset="0.650" stop-color="#acacac"/><stop offset="0.700" stop-color="#b2b2b2"/><stop offset="0.750" stop-color="#b8b8b8"/><stop offset="0.800" stop-color="#bdbdbd"/><stop offset="0.850" stop-color="#c3c3c3"/><stop offset="0.900" stop-color="#c8c8c8"/><stop offset="0.950" stop-color="#cecece"/><stop offset="1.000" stop-color="#d3d3d3"/></linearGradient>
<linearGradient id="sg80" gradientUnits="userSpaceOnUse" x1="0" y1="1020.7" x2="0" y2="1174.2"><stop offset="0.000" stop-color="#787878"/><stop offset="0.050" stop-color="#797979"/><stop offset="0.100" stop-color="#7b7b7b"/><stop offset="0.150" stop-color="#7e7e7e"/><stop offset="0.200" stop-color="#828282"/><stop offset="0.250" stop-color="#858585"/><stop offset="0.300" stop-color="#8a8a8a"/><stop offset="0.350" stop-color="#8f8f8f"/><stop offset="0.400" stop-color="#949494"/><stop offset="0.450" stop-color="#999999"/><stop offset="0.500" stop-color="#9e9e9e"/><stop offset="0.550" stop-color="#a3a3a3"/><stop offset="0.600" stop-color="#a9a9a9"/><stop offset="0.650" stop-color="#aeaeae"/><stop offset="0.700" stop-color="#b3b3b3"/><stop offset="0.750" stop-color="#b9b9b9"/><stop offset="0.800" stop-color="#bebebe"/><stop offset="0.850" stop-color="#c3c3c3"/><stop offset="0.900" stop-color="#c9c9c9"/><stop offset="0.950" stop-color="#cecece"/><stop offset="1.000" stop-color="#d4d4d4"/></linearGradient>
<linearGradient id="sg81" gradientUnits="userSpaceOnUse" x1="0" y1="1020.7" x2="0" y2="1174.2"><stop offset="0.000" stop-color="#787878"/><stop offset="0.050" stop-color="#797979"/><stop offset="0.100" stop-color="#7a7a7a"/><stop offset="0.150" stop-color="#7c7c7c"/><stop offset="0.200" stop-color="#7e7e7e"/><stop offset="0.250" stop-color="#828282"/><stop offset="0.300" stop-color="#858585"/><stop offset="0.350" stop-color="#8a8a8a"/><stop offset="0.400" stop-color="#8f8f8f"/><stop offset="0.450" stop-color="#949494"/><stop offset="0.500" stop-color="#9a9a9a"/><stop offset="0.550" stop-color="#9f9f9f"/><stop offset="0.600" stop-color="#a5a5a5"/><stop offset="0.650" stop-color="#ababab"/><stop offset="0.700" stop-color="#b1b1b1"/><stop offset="0.750" stop-color="#b6b6b6"/><stop offset="0.800" stop-color="#bcbcbc"/><stop offset="0.850" stop-color="#c2c2c2"/><stop offset="0.900" stop-color="#c8c8c8"/><stop offset="0.950" stop-color="#cecece"/><stop offset="1.000" stop-color="#d4d4d4"/></linearGradient>
<linearGradient id="sg82" gradientUnits="userSpaceOnUse" x1="0" y1="1020.7" x2="0" y2="1174.2"><stop offset="0.000" stop-color="#787878"/><stop offset="0.050" stop-color="#797979"/><stop offset="0.100" stop-color="#7a7a7a"/><stop offset="0.150" stop-color="#7c7c7c"/><stop offset="0.200" stop-color="#7e7e7e"/><stop offset="0.250" stop-color="#818181"/><stop offset="0.300" stop-color="#858585"/><stop offset="0.350" stop-color="#898989"/><stop offset="0.400" stop-color="#8e8e8e"/><stop offset="0.450" stop-color="#939393"/><stop offset="0.500" stop-color="#999999"/><stop offset="0.550" stop-color="#9e9e9e"/><stop offset="0.600" stop-color="#a4a4a4"/><stop offset="0.650" stop-color="#aaaaaa"/><stop offset="0.700" stop-color="#b0b0b0"/><stop offset="0.750" stop-color="#b6b6b6"/><stop offset="0.800" stop-color="#bcbcbc"/><stop offset="0.850" stop-color="#c2c2c2"/><stop offset="0.900" stop-color="#c8c8c8"/><stop offset="0.950" stop-color="#cecece"/><stop offset="1.000" stop-color="#d4d4d4"/></linearGradient>
<linearGradient id="sg83" gradientUnits="userSpaceOnUse" x1="0" y1="1020.7" x2="0" y2="1174.2"><stop offset="0.000" stop-color="#797979"/><stop offset="0.050" stop-color="#7a7a7a"/><stop offset="0.100" stop-color="#7b7b7b"/><stop offset="0.150" stop-color="#7d7d7d"/><stop offset="0.200" stop-color="#7f7f7f"/><stop offset="0.250" stop-color="#838383"/><stop offset="0.300" stop-color="#878787"/><stop offset="0.350" stop-color="#8b8b8b"/><stop offset="0.400" stop-color="#909090"/><stop offset="0.450" stop-color="#959595"/><stop offset="0.500" stop-color="#9b9b9b"/><stop offset="0.550" stop-color="#a0a0a0"/><stop offset="0.600" stop-color="#a6a6a6"/><stop offset="0.650" stop-color="#acacac"/><stop offset="0.700" stop-color="#b1b1b1"/><stop offset="0.750" stop-color="#b7b7b7"/><stop offset="0.800" stop-color="#bdbdbd"/><stop offset="0.850" stop-color="#c2c2c2"/><stop offset="0.900" stop-color="#c8c8c8"/><stop offset="0.950" stop-color="#cecece"/><stop offset="1.000" stop-color="#d4d4d4"/></linearGradient>
<linearGradient id="sg84" gradientUnits="userSpaceOnUse" x1="0" y1="1020.7" x2="0" y2="1174.2"><stop offset="0.000" stop-color="#797979"/><stop offset="0.050" stop-color="#7a7a7a"/><stop offset="0.100" stop-color="#7c7c7c"/><stop offset="0.150" stop-color="#7e7e7e"/><stop offset="0.200" stop-color="#828282"/><stop offset="0.250" stop-color="#858585"/><stop offset="0.300" stop-color="#8a8a8a"/><stop offset="0.350" stop-color="#8e8e8e"/><stop offset="0.400" stop-color="#939393"/><stop offset="0.450" stop-color="#989898"/><stop offset="0.500" stop-color="#9e9e9e"/><stop offset="0.550" stop-color="#a3a3a3"/><stop offset="0.600" stop-color="#a8a8a8"/><stop offset="0.650" stop-color="#aeaeae"/><stop offset="0.700" stop-color="#b3b3b3"/><stop offset="0.750" stop-color="#b9b9b9"/><stop offset="0.800" stop-color="#bebebe"/><stop offset="0.850" stop-color="#c3c3c3"/><stop offset="0.900" stop-color="#c9c9c9"/><stop offset="0.950" stop-color="#cecece"/><stop offset="1.000" stop-color="#d4d4d4"/></linearGradient>
<linearGradient id="sg85" gradientUnits="userSpaceOnUse" x1="0" y1="1020.7" x2="0" y2="1174.2"><stop offset="0.000" stop-color="#797979"/><stop offset="0.050" stop-color="#7b7b7b"/><stop offset="0.100" stop-color="#7e7e7e"/><stop offset="0.150" stop-color="#828282"/><stop offset="0.200" stop-color="#858585"/><stop offset="0.250" stop-color="#8a8a8a"/><stop offset="0.300" stop-color="#8e8e8e"/><stop offset="0.350" stop-color="#939393"/><stop offset="0.400" stop-color="#989898"/><stop offset="0.450" stop-color="#9d9d9d"/><stop offset="0.500" stop-color="#a2a2a2"/><stop offset="0.550" stop-color="#a7a7a7"/><stop offset="0.600" stop-color="#acacac"/><stop offset="0.650" stop-color="#b1b1b1"/><stop offset="0.700" stop-color="#b6b6b6"/><stop offset="0.750" stop-color="#bbbbbb"/><stop offset="0.800" stop-color="#c0c0c0"/><stop offset="0.850" stop-color="#c5c5c5"/><stop offset="0.900" stop-color="#cacaca"/><stop offset="0.950" stop-color="#cfcfcf"/><stop offset="1.000" stop-color="#d4d4d4"/></linearGradient>
<linearGradient id="sg86" gradientUnits="userSpaceOnUse" x1="0" y1="1020.7" x2="0" y2="1174.2"><stop offset="0.000" stop-color="#7a7a7a"/><stop offset="0.050" stop-color="#7c7c7c"/><stop offset="0.100" stop-color="#7f7f7f"/><stop offset="0.150" stop-color="#838383"/><stop offset="0.200" stop-color="#868686"/><stop offset="0.250" stop-color="#8b8b8b"/><stop offset="0.300" stop-color="#8f8f8f"/><stop offset="0.350" stop-color="#939393"/><stop offset="0.400" stop-color="#989898"/><stop offset="0.450" stop-color="#9c9c9c"/><stop offset="0.500" stop-color="#a1a1a1"/><stop offset="0.550" stop-color="#a6a6a6"/><stop offset="0.600" stop-color="#aaaaaa"/><stop offset="0.650" stop-color="#afafaf"/><stop offset="0.700" stop-color="#b4b4b4"/><stop offset="0.750" stop-color="#b8b8b8"/><stop offset="0.800" stop-color="#bdbdbd"/><stop offset="0.850" stop-color="#c1c1c1"/><stop offset="0.900" stop-color="#c6c6c6"/><stop offset="0.950" stop-color="#cbcbcb"/><stop offset="1.000" stop-color="#cfcfcf"/></linearGradient>
<linearGradient id="sg87" gradientUnits="userSpaceOnUse" x1="0" y1="1020.7" x2="0" y2="1174.2"><stop offset="0.000" stop-color="#7b7b7b"/><stop offset="0.050" stop-color="#7c7c7c"/><stop offset="0.100" stop-color="#7e7e7e"/><stop offset="0.150" stop-color="#818181"/><stop offset="0.200" stop-color="#848484"/><stop offset="0.250" stop-color="#878787"/><stop offset="0.300" stop-color="#8b8b8b"/><stop offset="0.350" stop-color="#8f8f8f"/><stop offset="0.400" stop-color="#949494"/><stop offset="0.450" stop-color="#989898"/><stop offset="0.500" stop-color="#9d9d9d"/><stop offset="0.550" stop-color="#a1a1a1"/><stop offset="0.600" stop-color="#a6a6a6"/><stop offset="0.650" stop-color="#aaaaaa"/><stop offset="0.700" stop-color="#afafaf"/><stop offset="0.750" stop-color="#b4b4b4"/><stop offset="0.800" stop-color="#b8b8b8"/><stop offset="0.850" stop-color="#bdbdbd"/><stop offset="0.900" stop-color="#c1c1c1"/><stop offset="0.950" stop-color="#c6c6c6"/><stop offset="1.000" stop-color="#cbcbcb"/></linearGradient>
<linearGradient id="sg88" gradientUnits="userSpaceOnUse" x1="0" y1="1020.7" x2="0" y2="1174.2"><stop offset="0.000" stop-color="#7c7c7c"/><stop offset="0.050" stop-color="#7d7d7d"/><stop offset="0.100" stop-color="#7e7e7e"/><stop offset="0.150" stop-color="#808080"/><stop offset="0.200" stop-color="#828282"/><stop offset="0.250" stop-color="#848484"/><stop offset="0.300" stop-color="#888888"/><stop offset="0.350" stop-color="#8b8b8b"/><stop offset="0.400" stop-color="#8f8f8f"/><stop offset="0.450" stop-color="#939393"/><stop offset="0.500" stop-color="#989898"/><stop offset="0.550" stop-color="#9c9c9c"/><stop offset="0.600" stop-color="#a1a1a1"/><stop offset="0.650" stop-color="#a5a5a5"/><stop offset="0.700" stop-color="#aaaaaa"/><stop offset="0.750" stop-color="#afafaf"/><stop offset="0.800" stop-color="#b3b3b3"/><stop offset="0.850" stop-color="#b8b8b8"/><stop offset="0.900" stop-color="#bcbcbc"/><stop offset="0.950" stop-color="#c1c1c1"/><stop offset="1.000" stop-color="#c6c6c6"/></linearGradient>
<linearGradient id="sg89" gradientUnits="userSpaceOnUse" x1="0" y1="1020.7" x2="0" y2="1174.2"><stop offset="0.000" stop-color="#7d7d7d"/><stop offset="0.050" stop-color="#7e7e7e"/><stop offset="0.100" stop-color="#7f7f7f"/><stop offset="0.150" stop-color="#818181"/><stop offset="0.200" stop-color="#838383"/><stop offset="0.250" stop-color="#868686"/><stop offset="0.300" stop-color="#898989"/><stop offset="0.350" stop-color="#8d8d8d"/><stop offset="0.400" stop-color="#909090"/><stop offset="0.450" stop-color="#949494"/><stop offset="0.500" stop-color="#989898"/><stop offset="0.550" stop-color="#9c9c9c"/><stop offset="0.600" stop-color="#a1a1a1"/><stop offset="0.650" stop-color="#a5a5a5"/><stop offset="0.700" stop-color="#a9a9a9"/><stop offset="0.750" stop-color="#adadad"/><stop offset="0.800" stop-color="#b1b1b1"/><stop offset="0.850" stop-color="#b5b5b5"/><stop offset="0.900" stop-color="#bababa"/><stop offset="0.950" stop-color="#bebebe"/><stop offset="1.000" stop-color="#c2c2c2"/></linearGradient>
<linearGradient id="sg90" gradientUnits="userSpaceOnUse" x1="0" y1="1020.7" x2="0" y2="1174.2"><stop offset="0.000" stop-color="#7e7e7e"/><stop offset="0.050" stop-color="#7f7f7f"/><stop offset="0.100" stop-color="#808080"/><stop offset="0.150" stop-color="#828282"/><stop offset="0.200" stop-color="#858585"/><stop offset="0.250" stop-color="#888888"/><stop offset="0.300" stop-color="#8b8b8b"/><stop offset="0.350" stop-color="#8f8f8f"/><stop offset="0.400" stop-color="#929292"/><stop offset="0.450" stop-color="#969696"/><stop offset="0.500" stop-color="#9a9a9a"/><stop offset="0.550" stop-color="#9e9e9e"/><stop offset="0.600" stop-color="#a2a2a2"/><stop offset="0.650" stop-color="#a6a6a6"/><stop offset="0.700" stop-color="#aaaaaa"/><stop offset="0.750" stop-color="#aeaeae"/><stop offset="0.800" stop-color="#b2b2b2"/><stop offset="0.850" stop-color="#b6b6b6"/><stop offset="0.900" stop-color="#bababa"/><stop offset="0.950" stop-color="#bebebe"/><stop offset="1.000" stop-color="#c2c2c2"/></linearGradient>
<linearGradient id="sg91" gradientUnits="userSpaceOnUse" x1="0" y1="1020.7" x2="0" y2="1174.2"><stop offset="0.000" stop-color="#7e7e7e"/><stop offset="0.050" stop-color="#7f7f7f"/><stop offset="0.100" stop-color="#818181"/><stop offset="0.150" stop-color="#838383"/><stop offset="0.200" stop-color="#858585"/><stop offset="0.250" stop-color="#888888"/><stop offset="0.300" stop-color="#8b8b8b"/><stop offset="0.350" stop-color="#8e8e8e"/><stop offset="0.400" stop-color="#929292"/><stop offset="0.450" stop-color="#969696"/><stop offset="0.500" stop-color="#9a9a9a"/><stop offset="0.550" stop-color="#9e9e9e"/><stop offset="0.600" stop-color="#a2a2a2"/><stop offset="0.650" stop-color="#a6a6a6"/><stop offset="0.700" stop-color="#aaaaaa"/><stop offset="0.750" stop-color="#aeaeae"/><stop offset="0.800" stop-color="#b2b2b2"/><stop offset="0.850" stop-color="#b6b6b6"/><stop offset="0.900" stop-color="#bbbbbb"/><stop offset="0.950" stop-color="#bfbfbf"/><stop offset="1.000" stop-color="#c3c3c3"/></linearGradient>
<linearGradient id="sg92" gradientUnits="userSpaceOnUse" x1="0" y1="1020.7" x2="0" y2="1174.2"><stop offset="0.000" stop-color="#7f7f7f"/><stop offset="0.050" stop-color="#808080"/><stop offset="0.100" stop-color="#818181"/><stop offset="0.150" stop-color="#838383"/><stop offset="0.200" stop-color="#858585"/><stop offset="0.250" stop-color="#878787"/><stop offset="0.300" stop-color="#8a8a8a"/><stop offset="0.350" stop-color="#8e8e8e"/><stop offset="0.400" stop-color="#929292"/><stop offset="0.450" stop-color="#959595"/><stop offset="0.500" stop-color="#999999"/><stop offset="0.550" stop-color="#9e9e9e"/><stop offset="0.600" stop-color="#a2a2a2"/><stop offset="0.650" stop-color="#a6a6a6"/><stop offset="0.700" stop-color="#aaaaaa"/><stop offset="0.750" stop-color="#aeaeae"/><stop offset="0.800" stop-color="#b2b2b2"/><stop offset="0.850" stop-color="#b7b7b7"/><stop offset="0.900" stop-color="#bbbbbb"/><stop offset="0.950" stop-color="#bfbfbf"/><stop offset="1.000" stop-color="#c3c3c3"/></linearGradient>
<linearGradient id="sg93" gradientUnits="userSpaceOnUse" x1="0" y1="1020.7" x2="0" y2="1174.2"><stop offset="0.000" stop-color="#808080"/><stop offset="0.050" stop-color="#818181"/><stop offset="0.100" stop-color="#828282"/><stop offset="0.150" stop-color="#838383"/><stop offset="0.200" stop-color="#858585"/><stop offset="0.250" stop-color="#888888"/><stop offset="0.300" stop-color="#8b8b8b"/><stop offset="0.350" stop-color="#8e8e8e"/><stop offset="0.400" stop-color="#929292"/><stop offset="0.450" stop-color="#969696"/><stop offset="0.500" stop-color="#9a9a9a"/><stop offset="0.550" stop-color="#9e9e9e"/><stop offset="0.600" stop-color="#a2a2a2"/><stop offset="0.650" stop-color="#a6a6a6"/><stop offset="0.700" stop-color="#aaaaaa"/><stop offset="0.750" stop-color="#afafaf"/><stop offset="0.800" stop-color="#b3b3b3"/><stop offset="0.850" stop-color="#b7b7b7"/><stop offset="0.900" stop-color="#bbbbbb"/><stop offset="0.950" stop-color="#c0c0c0"/><stop offset="1.000" stop-color="#c4c4c4"/></linearGradient>
<linearGradient id="sg94" gradientUnits="userSpaceOnUse" x1="0" y1="1020.7" x2="0" y2="1174.2"><stop offset="0.000" stop-color="#818181"/><stop offset="0.050" stop-color="#828282"/><stop offset="0.100" stop-color="#838383"/><stop offset="0.150" stop-color="#858585"/><stop offset="0.200" stop-color="#878787"/><stop offset="0.250" stop-color="#8a8a8a"/><stop offset="0.300" stop-color="#8d8d8d"/><stop offset="0.350" stop-color="#919191"/><stop offset="0.400" stop-color="#949494"/><stop offset="0.450" stop-color="#989898"/><stop offset="0.500" stop-color="#9c9c9c"/><stop offset="0.550" stop-color="#a0a0a0"/><stop offset="0.600" stop-color="#a4a4a4"/><stop offset="0.650" stop-color="#a8a8a8"/><stop offset="0.700" stop-color="#acacac"/><stop offset="0.750" stop-color="#b0b0b0"/><stop offset="0.800" stop-color="#b4b4b4"/><stop offset="0.850" stop-color="#b8b8b8"/><stop offset="0.900" stop-color="#bcbcbc"/><stop offset="0.950" stop-color="#c0c0c0"/><stop offset="1.000" stop-color="#c4c4c4"/></linearGradient>
<linearGradient id="sg95" gradientUnits="userSpaceOnUse" x1="0" y1="1020.7" x2="0" y2="1174.2"><stop offset="0.000" stop-color="#818181"/><stop offset="0.050" stop-color="#838383"/><stop offset="0.100" stop-color="#858585"/><stop offset="0.150" stop-color="#888888"/><stop offset="0.200" stop-color="#8b8b8b"/><stop offset="0.250" stop-color="#8e8e8e"/><stop offset="0.300" stop-color="#929292"/><stop offset="0.350" stop-color="#959595"/><stop offset="0.400" stop-color="#999999"/><stop offset="0.450" stop-color="#9c9c9c"/><stop offset="0.500" stop-color="#a0a0a0"/><stop offset="0.550" stop-color="#a4a4a4"/><stop offset="0.600" stop-color="#a7a7a7"/><stop offset="0.650" stop-color="#ababab"/><stop offset="0.700" stop-color="#afafaf"/><stop offset="0.750" stop-color="#b2b2b2"/><stop offset="0.800" stop-color="#b6b6b6"/><stop offset="0.850" stop-color="#bababa"/><stop offset="0.900" stop-color="#bdbdbd"/><stop offset="0.950" stop-color="#c1c1c1"/><stop offset="1.000" stop-color="#c5c5c5"/></linearGradient>
<linearGradient id="sg96" gradientUnits="userSpaceOnUse" x1="0" y1="1020.7" x2="0" y2="1174.2"><stop offset="0.000" stop-color="#828282"/><stop offset="0.050" stop-color="#848484"/><stop offset="0.100" stop-color="#878787"/><stop offset="0.150" stop-color="#8a8a8a"/><stop offset="0.200" stop-color="#8d8d8d"/><stop offset="0.250" stop-color="#909090"/><stop offset="0.300" stop-color="#939393"/><stop offset="0.350" stop-color="#979797"/><stop offset="0.400" stop-color="#9a9a9a"/><stop offset="0.450" stop-color="#9e9e9e"/><stop offset="0.500" stop-color="#a1a1a1"/><stop offset="0.550" stop-color="#a5a5a5"/><stop offset="0.600" stop-color="#a9a9a9"/><stop offset="0.650" stop-color="#acacac"/><stop offset="0.700" stop-color="#b0b0b0"/><stop offset="0.750" stop-color="#b3b3b3"/><stop offset="0.800" stop-color="#b7b7b7"/><stop offset="0.850" stop-color="#bababa"/><stop offset="0.900" stop-color="#bebebe"/><stop offset="0.950" stop-color="#c2c2c2"/><stop offset="1.000" stop-color="#c5c5c5"/></linearGradient>
<linearGradient id="sg97" gradientUnits="userSpaceOnUse" x1="0" y1="1020.7" x2="0" y2="1174.2"><stop offset="0.000" stop-color="#838383"/><stop offset="0.050" stop-color="#848484"/><stop offset="0.100" stop-color="#868686"/><stop offset="0.150" stop-color="#888888"/><stop offset="0.200" stop-color="#8b8b8b"/><stop offset="0.250" stop-color="#8e8e8e"/><stop offset="0.300" stop-color="#919191"/><stop offset="0.350" stop-color="#959595"/><stop offset="0.400" stop-color="#989898"/><stop offset="0.450" stop-color="#9c9c9c"/><stop offset="0.500" stop-color="#a0a0a0"/><stop offset="0.550" stop-color="#a4a4a4"/><stop offset="0.600" stop-color="#a7a7a7"/><stop offset="0.650" stop-color="#ababab"/><stop offset="0.700" stop-color="#afafaf"/><stop offset="0.750" stop-color="#b3b3b3"/><stop offset="0.800" stop-color="#b6b6b6"/><stop offset="0.850" stop-color="#bababa"/><stop offset="0.900" stop-color="#bebebe"/><stop offset="0.950" stop-color="#c2c2c2"/><stop offset="1.000" stop-color="#c6c6c6"/></linearGradient>
<linearGradient id="sg98" gradientUnits="userSpaceOnUse" x1="0" y1="1020.7" x2="0" y2="1174.2"><stop offset="0.000" stop-color="#838383"/><stop offset="0.050" stop-color="#848484"/><stop offset="0.100" stop-color="#858585"/><stop offset="0.150" stop-color="#878787"/><stop offset="0.200" stop-color="#898989"/><stop offset="0.250" stop-color="#8c8c8c"/><stop offset="0.300" stop-color="#8f8f8f"/><stop offset="0.350" stop-color="#929292"/><stop offset="0.400" stop-color="#969696"/><stop offset="0.450" stop-color="#9a9a9a"/><stop offset="0.500" stop-color="#9d9d9d"/><stop offset="0.550" stop-color="#a1a1a1"/><stop offset="0.600" stop-color="#a5a5a5"/><stop offset="0.650" stop-color="#aaaaaa"/><stop offset="0.700" stop-color="#aeaeae"/><stop offset="0.750" stop-color="#b2b2b2"/><stop offset="0.800" stop-color="#b6b6b6"/><stop offset="0.850" stop-color="#bababa"/><stop offset="0.900" stop-color="#bebebe"/><stop offset="0.950" stop-color="#c2c2c2"/><stop offset="1.000" stop-color="#c6c6c6"/></linearGradient>
<linearGradient id="sg99" gradientUnits="userSpaceOnUse" x1="0" y1="1020.7" x2="0" y2="1174.2"><stop offset="0.000" stop-color="#848484"/><stop offset="0.050" stop-color="#858585"/><stop offset="0.100" stop-color="#868686"/><stop offset="0.150" stop-color="#878787"/><stop offset="0.200" stop-color="#898989"/><stop offset="0.250" stop-color="#8c8c8c"/><stop offset="0.300" stop-color="#8f8f8f"/><stop offset="0.350" stop-color="#929292"/><stop offset="0.400" stop-color="#969696"/><stop offset="0.450" stop-color="#9a9a9a"/><stop offset="0.500" stop-color="#9e9e9e"/><stop offset="0.550" stop-color="#a2a2a2"/><stop offset="0.600" stop-color="#a6a6a6"/><stop offset="0.650" stop-color="#aaaaaa"/><stop offset="0.700" stop-color="#aeaeae"/><stop offset="0.750" stop-color="#b2b2b2"/><stop offset="0.800" stop-color="#b6b6b6"/><stop offset="0.850" stop-color="#bababa"/><stop offset="0.900" stop-color="#bebebe"/><stop offset="0.950" stop-color="#c2c2c2"/><stop offset="1.000" stop-color="#c7c7c7"/></linearGradient>
<linearGradient id="sg100" gradientUnits="userSpaceOnUse" x1="0" y1="1020.7" x2="0" y2="1174.2"><stop offset="0.000" stop-color="#858585"/><stop offset="0.050" stop-color="#868686"/><stop offset="0.100" stop-color="#878787"/><stop offset="0.150" stop-color="#898989"/><stop offset="0.200" stop-color="#8b8b8b"/><stop offset="0.250" stop-color="#8e8e8e"/><stop offset="0.300" stop-color="#919191"/><stop offset="0.350" stop-color="#959595"/><stop offset="0.400" stop-color="#999999"/><stop offset="0.450" stop-color="#9c9c9c"/><stop offset="0.500" stop-color="#a0a0a0"/><stop offset="0.550" stop-color="#a4a4a4"/><stop offset="0.600" stop-color="#a8a8a8"/><stop offset="0.650" stop-color="#acacac"/><stop offset="0.700" stop-color="#b0b0b0"/><stop offset="0.750" stop-color="#b3b3b3"/><stop offset="0.800" stop-color="#b7b7b7"/><stop offset="0.850" stop-color="#bbbbbb"/><stop offset="0.900" stop-color="#bfbfbf"/><stop offset="0.950" stop-color="#c3c3c3"/><stop offset="1.000" stop-color="#c7c7c7"/></linearGradient>
<linearGradient id="sg101" gradientUnits="userSpaceOnUse" x1="0" y1="1020.7" x2="0" y2="1174.2"><stop offset="0.000" stop-color="#858585"/><stop offset="0.050" stop-color="#868686"/><stop offset="0.100" stop-color="#888888"/><stop offset="0.150" stop-color="#8a8a8a"/><stop offset="0.200" stop-color="#8d8d8d"/><stop offset="0.250" stop-color="#909090"/><stop offset="0.300" stop-color="#939393"/><stop offset="0.350" stop-color="#969696"/><stop offset="0.400" stop-color="#9a9a9a"/><stop offset="0.450" stop-color="#9e9e9e"/><stop offset="0.500" stop-color="#a1a1a1"/><stop offset="0.550" stop-color="#a5a5a5"/><stop offset="0.600" stop-color="#a9a9a9"/><stop offset="0.650" stop-color="#adadad"/><stop offset="0.700" stop-color="#b1b1b1"/><stop offset="0.750" stop-color="#b4b4b4"/><stop offset="0.800" stop-color="#b8b8b8"/><stop offset="0.850" stop-color="#bcbcbc"/><stop offset="0.900" stop-color="#c0c0c0"/><stop offset="0.950" stop-color="#c4c4c4"/><stop offset="1.000" stop-color="#c7c7c7"/></linearGradient>
<linearGradient id="sg102" gradientUnits="userSpaceOnUse" x1="0" y1="1020.7" x2="0" y2="1174.2"><stop offset="0.000" stop-color="#858585"/><stop offset="0.050" stop-color="#868686"/><stop offset="0.100" stop-color="#888888"/><stop offset="0.150" stop-color="#8b8b8b"/><stop offset="0.200" stop-color="#8d8d8d"/><stop offset="0.250" stop-color="#909090"/><stop offset="0.300" stop-color="#949494"/><stop offset="0.350" stop-color="#979797"/><stop offset="0.400" stop-color="#9b9b9b"/><stop offset="0.450" stop-color="#9f9f9f"/><stop offset="0.500" stop-color="#a2a2a2"/><stop offset="0.550" stop-color="#a6a6a6"/><stop offset="0.600" stop-color="#aaaaaa"/><stop offset="0.650" stop-color="#adadad"/><stop offset="0.700" stop-color="#b1b1b1"/><stop offset="0.750" stop-color="#b5b5b5"/><stop offset="0.800" stop-color="#b9b9b9"/><stop offset="0.850" stop-color="#bcbcbc"/><stop offset="0.900" stop-color="#c0c0c0"/><stop offset="0.950" stop-color="#c4c4c4"/><stop offset="1.000" stop-color="#c8c8c8"/></linearGradient>
<linearGradient id="sg103" gradientUnits="userSpaceOnUse" x1="0" y1="1020.7" x2="0" y2="1174.2"><stop offset="0.000" stop-color="#858585"/><stop offset="0.050" stop-color="#878787"/><stop offset="0.100" stop-color="#898989"/><stop offset="0.150" stop-color="#8c8c8c"/><stop offset="0.200" stop-color="#8f8f8f"/><stop offset="0.250" stop-color="#929292"/><stop offset="0.300" stop-color="#969696"/><stop offset="0.350" stop-color="#999999"/><stop offset="0.400" stop-color="#9d9d9d"/><stop offset="0.450" stop-color="#a0a0a0"/><stop offset="0.500" stop-color="#a4a4a4"/><stop offset="0.550" stop-color="#a7a7a7"/><stop offset="0.600" stop-color="#ababab"/><stop offset="0.650" stop-color="#afafaf"/><stop offset="0.700" stop-color="#b2b2b2"/><stop offset="0.750" stop-color="#b6b6b6"/><stop offset="0.800" stop-color="#bababa"/><stop offset="0.850" stop-color="#bdbdbd"/><stop offset="0.900" stop-color="#c1c1c1"/><stop offset="0.950" stop-color="#c4c4c4"/><stop offset="1.000" stop-color="#c8c8c8"/></linearGradient>
<linearGradient id="sg104" gradientUnits="userSpaceOnUse" x1="0" y1="1020.7" x2="0" y2="1174.2"><stop offset="0.000" stop-color="#858585"/><stop offset="0.050" stop-color="#878787"/><stop offset="0.100" stop-color="#8a8a8a"/><stop offset="0.150" stop-color="#8d8d8d"/><stop offset="0.200" stop-color="#909090"/><stop offset="0.250" stop-color="#939393"/><stop offset="0.300" stop-color="#979797"/><stop offset="0.350" stop-color="#9a9a9a"/><stop offset="0.400" stop-color="#9e9e9e"/><stop offset="0.450" stop-color="#a1a1a1"/><stop offset="0.500" stop-color="#a5a5a5"/><stop offset="0.550" stop-color="#a8a8a8"/><stop offset="0.600" stop-color="#acacac"/><stop offset="0.650" stop-color="#afafaf"/><stop offset="0.700" stop-color="#b3b3b3"/><stop offset="0.750" stop-color="#b7b7b7"/><stop offset="0.800" stop-color="#bababa"/><stop offset="0.850" stop-color="#bebebe"/><stop offset="0.900" stop-color="#c1c1c1"/><stop offset="0.950" stop-color="#c5c5c5"/><stop offset="1.000" stop-color="#c8c8c8"/></linearGradient>
<linearGradient id="sg105" gradientUnits="userSpaceOnUse" x1="0" y1="1020.7" x2="0" y2="1174.2"><stop offset="0.000" stop-color="#868686"/><stop offset="0.050" stop-color="#878787"/><stop offset="0.100" stop-color="#8a8a8a"/><stop offset="0.150" stop-color="#8c8c8c"/><stop offset="0.200" stop-color="#8f8f8f"/><stop offset="0.250" stop-color="#939393"/><stop offset="0.300" stop-color="#969696"/><stop offset="0.350" stop-color="#9a9a9a"/><stop offset="0.400" stop-color="#9d9d9d"/><stop offset="0.450" stop-color="#a1a1a1"/><stop offset="0.500" stop-color="#a4a4a4"/><stop offset="0.550" stop-color="#a8a8a8"/><stop offset="0.600" stop-color="#acacac"/><stop offset="0.650" stop-color="#afafaf"/><stop offset="0.700" stop-color="#b3b3b3"/><stop offset="0.750" stop-color="#b7b7b7"/><stop offset="0.800" stop-color="#bababa"/><stop offset="0.850" stop-color="#bebebe"/><stop offset="0.900" stop-color="#c1c1c1"/><stop offset="0.950" stop-color="#c5c5c5"/><stop offset="1.000" stop-color="#c9c9c9"/></linearGradient>
<linearGradient id="sg106" gradientUnits="userSpaceOnUse" x1="0" y1="1020.7" x2="0" y2="1174.2"><stop offset="0.000" stop-color="#868686"/><stop offset="0.050" stop-color="#878787"/><stop offset="0.100" stop-color="#898989"/><stop offset="0.150" stop-color="#8b8b8b"/><stop offset="0.200" stop-color="#8d8d8d"/><stop offset="0.250" stop-color="#909090"/><stop offset="0.300" stop-color="#949494"/><stop offset="0.350" stop-color="#979797"/><stop offset="0.400" stop-color="#9b9b9b"/><stop offset="0.450" stop-color="#9f9f9f"/><stop offset="0.500" stop-color="#a2a2a2"/><stop offset="0.550" stop-color="#a6a6a6"/><stop offset="0.600" stop-color="#aaaaaa"/><stop offset="0.650" stop-color="#aeaeae"/><stop offset="0.700" stop-color="#b2b2b2"/><stop offset="0.750" stop-color="#b6b6b6"/><stop offset="0.800" stop-color="#bababa"/><stop offset="0.850" stop-color="#bdbdbd"/><stop offset="0.900" stop-color="#c1c1c1"/><stop offset="0.950" stop-color="#c5c5c5"/><stop offset="1.000" stop-color="#c9c9c9"/></linearGradient>
<linearGradient id="sg107" gradientUnits="userSpaceOnUse" x1="0" y1="1020.7" x2="0" y2="1174.2"><stop offset="0.000" stop-color="#868686"/><stop offset="0.050" stop-color="#878787"/><stop offset="0.100" stop-color="#888888"/><stop offset="0.150" stop-color="#8a8a8a"/><stop offset="0.200" stop-color="#8c8c8c"/><stop offset="0.250" stop-color="#8e8e8e"/><stop offset="0.300" stop-color="#919191"/><stop offset="0.350" stop-color="#959595"/><stop offset="0.400" stop-color="#999999"/><stop offset="0.450" stop-color="#9c9c9c"/><stop offset="0.500" stop-color="#a0a0a0"/><stop offset="0.550" stop-color="#a4a4a4"/><stop offset="0.600" stop-color="#a9a9a9"/><stop offset="0.650" stop-color="#adadad"/><stop offset="0.700" stop-color="#b1b1b1"/><stop offset="0.750" stop-color="#b5b5b5"/><stop offset="0.800" stop-color="#b9b9b9"/><stop offset="0.850" stop-color="#bdbdbd"/><stop offset="0.900" stop-color="#c1c1c1"/><stop offset="0.950" stop-color="#c5c5c5"/><stop offset="1.000" stop-color="#cacaca"/></linearGradient>
<linearGradient id="sg108" gradientUnits="userSpaceOnUse" x1="0" y1="1020.7" x2="0" y2="1174.2"><stop offset="0.000" stop-color="#868686"/><stop offset="0.050" stop-color="#878787"/><stop offset="0.100" stop-color="#888888"/><stop offset="0.150" stop-color="#8a8a8a"/><stop offset="0.200" stop-color="#8c8c8c"/><stop offset="0.250" stop-color="#8f8f8f"/><stop offset="0.300" stop-color="#929292"/><stop offset="0.350" stop-color="#969696"/><stop offset="0.400" stop-color="#9a9a9a"/><stop offset="0.450" stop-color="#9d9d9d"/><stop offset="0.500" stop-color="#a1a1a1"/><stop offset="0.550" stop-color="#a5a5a5"/><stop offset="0.600" stop-color="#a9a9a9"/><stop offset="0.650" stop-color="#adadad"/><stop offset="0.700" stop-color="#b1b1b1"/><stop offset="0.750" stop-color="#b6b6b6"/><stop offset="0.800" stop-color="#bababa"/><stop offset="0.850" stop-color="#bebebe"/><stop offset="0.900" stop-color="#c2c2c2"/><stop offset="0.950" stop-color="#c6c6c6"/><stop offset="1.000" stop-color="#cacaca"/></linearGradient>
<linearGradient id="sg109" gradientUnits="userSpaceOnUse" x1="0" y1="1020.7" x2="0" y2="1174.2"><stop offset="0.000" stop-color="#868686"/><stop offset="0.050" stop-color="#878787"/><stop offset="0.100" stop-color="#898989"/><stop offset="0.150" stop-color="#8b8b8b"/><stop offset="0.200" stop-color="#8e8e8e"/><stop offset="0.250" stop-color="#919191"/><stop offset="0.300" stop-color="#949494"/><stop offset="0.350" stop-color="#989898"/><stop offset="0.400" stop-color="#9b9b9b"/><stop offset="0.450" stop-color="#9f9f9f"/><stop offset="0.500" stop-color="#a3a3a3"/><stop offset="0.550" stop-color="#a7a7a7"/><stop offset="0.600" stop-color="#ababab"/><stop offset="0.650" stop-color="#afafaf"/><stop offset="0.700" stop-color="#b3b3b3"/><stop offset="0.750" stop-color="#b7b7b7"/><stop offset="0.800" stop-color="#bababa"/><stop offset="0.850" stop-color="#bebebe"/><stop offset="0.900" stop-color="#c2c2c2"/><stop offset="0.950" stop-color="#c6c6c6"/><stop offset="1.000" stop-color="#cacaca"/></linearGradient>
<linearGradient id="sg110" gradientUnits="userSpaceOnUse" x1="0" y1="1020.7" x2="0" y2="1174.2"><stop offset="0.000" stop-color="#868686"/><stop offset="0.050" stop-color="#888888"/><stop offset="0.100" stop-color="#8a8a8a"/><stop offset="0.150" stop-color="#8c8c8c"/><stop offset="0.200" stop-color="#8f8f8f"/><stop offset="0.250" stop-color="#929292"/><stop offset="0.300" stop-color="#969696"/><stop offset="0.350" stop-color="#999999"/><stop offset="0.400" stop-color="#9d9d9d"/><stop offset="0.450" stop-color="#a1a1a1"/><stop offset="0.500" stop-color="#a4a4a4"/><stop offset="0.550" stop-color="#a8a8a8"/><stop offset="0.600" stop-color="#acacac"/><stop offset="0.650" stop-color="#b0b0b0"/><stop offset="0.700" stop-color="#b4b4b4"/><stop offset="0.750" stop-color="#b7b7b7"/><stop offset="0.800" stop-color="#bbbbbb"/><stop offset="0.850" stop-color="#bfbfbf"/><stop offset="0.900" stop-color="#c3c3c3"/><stop offset="0.950" stop-color="#c7c7c7"/><stop offset="1.000" stop-color="#cbcbcb"/></linearGradient>
<linearGradient id="sg111" gradientUnits="userSpaceOnUse" x1="0" y1="1020.7" x2="0" y2="1174.2"><stop offset="0.000" stop-color="#878787"/><stop offset="0.050" stop-color="#888888"/><stop offset="0.100" stop-color="#8b8b8b"/><stop offset="0.150" stop-color="#8d8d8d"/><stop offset="0.200" stop-color="#909090"/><stop offset="0.250" stop-color="#949494"/><stop offset="0.300" stop-color="#979797"/><stop offset="0.350" stop-color="#9b9b9b"/><stop offset="0.400" stop-color="#9e9e9e"/><stop offset="0.450" stop-color="#a2a2a2"/><stop offset="0.500" stop-color="#a6a6a6"/><stop offset="0.550" stop-color="#a9a9a9"/><stop offset="0.600" stop-color="#adadad"/><stop offset="0.650" stop-color="#b1b1b1"/><stop offset="0.700" stop-color="#b5b5b5"/><stop offset="0.750" stop-color="#b8b8b8"/><stop offset="0.800" stop-color="#bcbcbc"/><stop offset="0.850" stop-color="#c0c0c0"/><stop offset="0.900" stop-color="#c3c3c3"/><stop offset="0.950" stop-color="#c7c7c7"/><stop offset="1.000" stop-color="#cbcbcb"/></linearGradient>
<linearGradient id="sg112" gradientUnits="userSpaceOnUse" x1="0" y1="1020.7" x2="0" y2="1174.2"><stop offset="0.000" stop-color="#878787"/><stop offset="0.050" stop-color="#898989"/><stop offset="0.100" stop-color="#8b8b8b"/><stop offset="0.150" stop-color="#8e8e8e"/><stop offset="0.200" stop-color="#919191"/><stop offset="0.250" stop-color="#959595"/><stop offset="0.300" stop-color="#989898"/><stop offset="0.350" stop-color="#9c9c9c"/><stop offset="0.400" stop-color="#9f9f9f"/><stop offset="0.450" stop-color="#a3a3a3"/><stop offset="0.500" stop-color="#a7a7a7"/><stop offset="0.550" stop-color="#aaaaaa"/><stop offset="0.600" stop-color="#aeaeae"/><stop offset="0.650" stop-color="#b2b2b2"/><stop offset="0.700" stop-color="#b5b5b5"/><stop offset="0.750" stop-color="#b9b9b9"/><stop offset="0.800" stop-color="#bdbdbd"/><stop offset="0.850" stop-color="#c0c0c0"/><stop offset="0.900" stop-color="#c4c4c4"/><stop offset="0.950" stop-color="#c8c8c8"/><stop offset="1.000" stop-color="#cbcbcb"/></linearGradient>
<linearGradient id="sg113" gradientUnits="userSpaceOnUse" x1="0" y1="1020.7" x2="0" y2="1174.2"><stop offset="0.000" stop-color="#878787"/><stop offset="0.050" stop-color="#8a8a8a"/><stop offset="0.100" stop-color="#8c8c8c"/><stop offset="0.150" stop-color="#909090"/><stop offset="0.200" stop-color="#939393"/><stop offset="0.250" stop-color="#969696"/><stop offset="0.300" stop-color="#9a9a9a"/><stop offset="0.350" stop-color="#9d9d9d"/><stop offset="0.400" stop-color="#a1a1a1"/><stop offset="0.450" stop-color="#a4a4a4"/><stop offset="0.500" stop-color="#a8a8a8"/><stop offset="0.550" stop-color="#ababab"/><stop offset="0.600" stop-color="#afafaf"/><stop offset="0.650" stop-color="#b3b3b3"/><stop offset="0.700" stop-color="#b6b6b6"/><stop offset="0.750" stop-color="#bababa"/><stop offset="0.800" stop-color="#bdbdbd"/><stop offset="0.850" stop-color="#c1c1c1"/><stop offset="0.900" stop-color="#c5c5c5"/><stop offset="0.950" stop-color="#c8c8c8"/><stop offset="1.000" stop-color="#cccccc"/></linearGradient>
<linearGradient id="sg114" gradientUnits="userSpaceOnUse" x1="0" y1="1020.7" x2="0" y2="1174.2"><stop offset="0.000" stop-color="#878787"/><stop offset="0.050" stop-color="#8a8a8a"/><stop offset="0.100" stop-color="#8d8d8d"/><stop offset="0.150" stop-color="#909090"/><stop offset="0.200" stop-color="#949494"/><stop offset="0.250" stop-color="#979797"/><stop offset="0.300" stop-color="#9b9b9b"/><stop offset="0.350" stop-color="#9e9e9e"/><stop offset="0.400" stop-color="#a2a2a2"/><stop offset="0.450" stop-color="#a5a5a5"/><stop offset="0.500" stop-color="#a9a9a9"/><stop offset="0.550" stop-color="#acacac"/><stop offset="0.600" stop-color="#b0b0b0"/><stop offset="0.650" stop-color="#b3b3b3"/><stop offset="0.700" stop-color="#b7b7b7"/><stop offset="0.750" stop-color="#bababa"/><stop offset="0.800" stop-color="#bebebe"/><stop offset="0.850" stop-color="#c1c1c1"/><stop offset="0.900" stop-color="#c5c5c5"/><stop offset="0.950" stop-color="#c8c8c8"/><stop offset="1.000" stop-color="#cccccc"/></linearGradient>
<linearGradient id="sg115" gradientUnits="userSpaceOnUse" x1="0" y1="1020.7" x2="0" y2="1174.2"><stop offset="0.000" stop-color="#868686"/><stop offset="0.050" stop-color="#898989"/><stop offset="0.100" stop-color="#8c8c8c"/><stop offset="0.150" stop-color="#909090"/><stop offset="0.200" stop-color="#939393"/><stop offset="0.250" stop-color="#969696"/><stop offset="0.300" stop-color="#9a9a9a"/><stop offset="0.350" stop-color="#9d9d9d"/><stop offset="0.400" stop-color="#a1a1a1"/><stop offset="0.450" stop-color="#a4a4a4"/><stop offset="0.500" stop-color="#a8a8a8"/><stop offset="0.550" stop-color="#ababab"/><stop offset="0.600" stop-color="#afafaf"/><stop offset="0.650" stop-color="#b2b2b2"/><stop offset="0.700" stop-color="#b6b6b6"/><stop offset="0.750" stop-color="#b9b9b9"/><stop offset="0.800" stop-color="#bdbdbd"/><stop offset="0.850" stop-color="#c0c0c0"/><stop offset="0.900" stop-color="#c4c4c4"/><stop offset="0.950" stop-color="#c7c7c7"/><stop offset="1.000" stop-color="#cbcbcb"/></linearGradient>
<linearGradient id="sg116" gradientUnits="userSpaceOnUse" x1="0" y1="1020.7" x2="0" y2="1174.2"><stop offset="0.000" stop-color="#868686"/><stop offset="0.050" stop-color="#888888"/><stop offset="0.100" stop-color="#8b8b8b"/><stop offset="0.150" stop-color="#8e8e8e"/><stop offset="0.200" stop-color="#919191"/><stop offset="0.250" stop-color="#959595"/><stop offset="0.300" stop-color="#989898"/><stop offset="0.350" stop-color="#9c9c9c"/><stop offset="0.400" stop-color="#9f9f9f"/><stop offset="0.450" stop-color="#a3a3a3"/><stop offset="0.500" stop-color="#a6a6a6"/><stop offset="0.550" stop-color="#aaaaaa"/><stop offset="0.600" stop-color="#adadad"/><stop offset="0.650" stop-color="#b1b1b1"/><stop offset="0.700" stop-color="#b4b4b4"/><stop offset="0.750" stop-color="#b8b8b8"/><stop offset="0.800" stop-color="#bcbcbc"/><stop offset="0.850" stop-color="#bfbfbf"/><stop offset="0.900" stop-color="#c3c3c3"/><stop offset="0.950" stop-color="#c6c6c6"/><stop offset="1.000" stop-color="#cacaca"/></linearGradient>
<linearGradient id="sg117" gradientUnits="userSpaceOnUse" x1="0" y1="1020.7" x2="0" y2="1174.2"><stop offset="0.000" stop-color="#858585"/><stop offset="0.050" stop-color="#878787"/><stop offset="0.100" stop-color="#898989"/><stop offset="0.150" stop-color="#8c8c8c"/><stop offset="0.200" stop-color="#8f8f8f"/><stop offset="0.250" stop-color="#929292"/><stop offset="0.300" stop-color="#969696"/><stop offset="0.350" stop-color="#999999"/><stop offset="0.400" stop-color="#9d9d9d"/><stop offset="0.450" stop-color="#a0a0a0"/><stop offset="0.500" stop-color="#a4a4a4"/><stop offset="0.550" stop-color="#a8a8a8"/><stop offset="0.600" stop-color="#ababab"/><stop offset="0.650" stop-color="#afafaf"/><stop offset="0.700" stop-color="#b3b3b3"/><stop offset="0.750" stop-color="#b6b6b6"/><stop offset="0.800" stop-color="#bababa"/><stop offset="0.850" stop-color="#bebebe"/><stop offset="0.900" stop-color="#c1c1c1"/><stop offset="0.950" stop-color="#c5c5c5"/><stop offset="1.000" stop-color="#c9c9c9"/></linearGradient>
<linearGradient id="sg118" gradientUnits="userSpaceOnUse" x1="0" y1="1020.7" x2="0" y2="1174.2"><stop offset="0.000" stop-color="#848484"/><stop offset="0.050" stop-color="#868686"/><stop offset="0.100" stop-color="#888888"/><stop offset="0.150" stop-color="#8a8a8a"/><stop offset="0.200" stop-color="#8d8d8d"/><stop offset="0.250" stop-color="#909090"/><stop offset="0.300" stop-color="#939393"/><stop offset="0.350" stop-color="#979797"/><stop offset="0.400" stop-color="#9b9b9b"/><stop offset="0.450" stop-color="#9e9e9e"/><stop offset="0.500" stop-color="#a2a2a2"/><stop offset="0.550" stop-color="#a6a6a6"/><stop offset="0.600" stop-color="#a9a9a9"/><stop offset="0.650" stop-color="#adadad"/><stop offset="0.700" stop-color="#b1b1b1"/><stop offset="0.750" stop-color="#b5b5b5"/><stop offset="0.800" stop-color="#b9b9b9"/><stop offset="0.850" stop-color="#bcbcbc"/><stop offset="0.900" stop-color="#c0c0c0"/><stop offset="0.950" stop-color="#c4c4c4"/><stop offset="1.000" stop-color="#c8c8c8"/></linearGradient>
<linearGradient id="sg119" gradientUnits="userSpaceOnUse" x1="0" y1="1020.7" x2="0" y2="1174.2"><stop offset="0.000" stop-color="#848484"/><stop offset="0.050" stop-color="#858585"/><stop offset="0.100" stop-color="#878787"/><stop offset="0.150" stop-color="#898989"/><stop offset="0.200" stop-color="#8c8c8c"/><stop offset="0.250" stop-color="#8f8f8f"/><stop offset="0.300" stop-color="#929292"/><stop offset="0.350" stop-color="#959595"/><stop offset="0.400" stop-color="#999999"/><stop offset="0.450" stop-color="#9d9d9d"/><stop offset="0.500" stop-color="#a0a0a0"/><stop offset="0.550" stop-color="#a4a4a4"/><stop offset="0.600" stop-color="#a8a8a8"/><stop offset="0.650" stop-color="#acacac"/><stop offset="0.700" stop-color="#b0b0b0"/><stop offset="0.750" stop-color="#b3b3b3"/><stop offset="0.800" stop-color="#b7b7b7"/><stop offset="0.850" stop-color="#bbbbbb"/><stop offset="0.900" stop-color="#bfbfbf"/><stop offset="0.950" stop-color="#c3c3c3"/><stop offset="1.000" stop-color="#c7c7c7"/></linearGradient>
<linearGradient id="sg120" gradientUnits="userSpaceOnUse" x1="0" y1="1020.7" x2="0" y2="1174.2"><stop offset="0.000" stop-color="#838383"/><stop offset="0.050" stop-color="#848484"/><stop offset="0.100" stop-color="#868686"/><stop offset="0.150" stop-color="#888888"/><stop offset="0.200" stop-color="#8b8b8b"/><stop offset="0.250" stop-color="#8e8e8e"/><stop offset="0.300" stop-color="#919191"/><stop offset="0.350" stop-color="#959595"/><stop offset="0.400" stop-color="#999999"/><stop offset="0.450" stop-color="#9c9c9c"/><stop offset="0.500" stop-color="#a0a0a0"/><stop offset="0.550" stop-color="#a4a4a4"/><stop offset="0.600" stop-color="#a7a7a7"/><stop offset="0.650" stop-color="#ababab"/><stop offset="0.700" stop-color="#afafaf"/><stop offset="0.750" stop-color="#b3b3b3"/><stop offset="0.800" stop-color="#b6b6b6"/><stop offset="0.850" stop-color="#bababa"/><stop offset="0.900" stop-color="#bebebe"/><stop offset="0.950" stop-color="#c2c2c2"/><stop offset="1.000" stop-color="#c6c6c6"/></linearGradient>
<linearGradient id="sg121" gradientUnits="userSpaceOnUse" x1="0" y1="1020.7" x2="0" y2="1174.2"><stop offset="0.000" stop-color="#828282"/><stop offset="0.050" stop-color="#848484"/><stop offset="0.100" stop-color="#868686"/><stop offset="0.150" stop-color="#898989"/><stop offset="0.200" stop-color="#8b8b8b"/><stop offset="0.250" stop-color="#8f8f8f"/><stop offset="0.300" stop-color="#929292"/><stop offset="0.350" stop-color="#959595"/><stop offset="0.400" stop-color="#999999"/><stop offset="0.450" stop-color="#9c9c9c"/><stop offset="0.500" stop-color="#a0a0a0"/><stop offset="0.550" stop-color="#a4a4a4"/><stop offset="0.600" stop-color="#a7a7a7"/><stop offset="0.650" stop-color="#ababab"/><stop offset="0.700" stop-color="#afafaf"/><stop offset="0.750" stop-color="#b2b2b2"/><stop offset="0.800" stop-color="#b6b6b6"/><stop offset="0.850" stop-color="#bababa"/><stop offset="0.900" stop-color="#bdbdbd"/><stop offset="0.950" stop-color="#c1c1c1"/><stop offset="1.000" stop-color="#c5c5c5"/></linearGradient>
<linearGradient id="sg122" gradientUnits="userSpaceOnUse" x1="0" y1="1020.7" x2="0" y2="1174.2"><stop offset="0.000" stop-color="#818181"/><stop offset="0.050" stop-color="#838383"/><stop offset="0.100" stop-color="#858585"/><stop offset="0.150" stop-color="#878787"/><stop offset="0.200" stop-color="#8a8a8a"/><stop offset="0.250" stop-color="#8d8d8d"/><stop offset="0.300" stop-color="#909090"/><stop offset="0.350" stop-color="#939393"/><stop offset="0.400" stop-color="#979797"/><stop offset="0.450" stop-color="#9b9b9b"/><stop offset="0.500" stop-color="#9e9e9e"/><stop offset="0.550" stop-color="#a2a2a2"/><stop offset="0.600" stop-color="#a6a6a6"/><stop offset="0.650" stop-color="#a9a9a9"/><stop offset="0.700" stop-color="#adadad"/><stop offset="0.750" stop-color="#b1b1b1"/><stop offset="0.800" stop-color="#b5b5b5"/><stop offset="0.850" stop-color="#b8b8b8"/><stop offset="0.900" stop-color="#bcbcbc"/><stop offset="0.950" stop-color="#c0c0c0"/><stop offset="1.000" stop-color="#c4c4c4"/></linearGradient>
<linearGradient id="sg123" gradientUnits="userSpaceOnUse" x1="0" y1="1020.7" x2="0" y2="1174.2"><stop offset="0.000" stop-color="#818181"/><stop offset="0.050" stop-color="#828282"/><stop offset="0.100" stop-color="#848484"/><stop offset="0.150" stop-color="#868686"/><stop offset="0.200" stop-color="#888888"/><stop offset="0.250" stop-color="#8b8b8b"/><stop offset="0.300" stop-color="#8e8e8e"/><stop offset="0.350" stop-color="#929292"/><stop offset="0.400" stop-color="#959595"/><stop offset="0.450" stop-color="#999999"/><stop offset="0.500" stop-color="#9d9d9d"/><stop offset="0.550" stop-color="#a0a0a0"/><stop offset="0.600" stop-color="#a4a4a4"/><stop offset="0.650" stop-color="#a8a8a8"/><stop offset="0.700" stop-color="#acacac"/><stop offset="0.750" stop-color="#b0b0b0"/><stop offset="0.800" stop-color="#b3b3b3"/><stop offset="0.850" stop-color="#b7b7b7"/><stop offset="0.900" stop-color="#bbbbbb"/><stop offset="0.950" stop-color="#bfbfbf"/><stop offset="1.000" stop-color="#c2c2c2"/></linearGradient>
<linearGradient id="sg124" gradientUnits="userSpaceOnUse" x1="0" y1="1020.7" x2="0" y2="1174.2"><stop offset="0.000" stop-color="#808080"/><stop offset="0.050" stop-color="#828282"/><stop offset="0.100" stop-color="#848484"/><stop offset="0.150" stop-color="#868686"/><stop offset="0.200" stop-color="#898989"/><stop offset="0.250" stop-color="#8c8c8c"/><stop offset="0.300" stop-color="#8f8f8f"/><stop offset="0.350" stop-color="#929292"/><stop offset="0.400" stop-color="#969696"/><stop offset="0.450" stop-color="#999999"/><stop offset="0.500" stop-color="#9d9d9d"/><stop offset="0.550" stop-color="#a1a1a1"/><stop offset="0.600" stop-color="#a4a4a4"/><stop offset="0.650" stop-color="#a8a8a8"/><stop offset="0.700" stop-color="#acacac"/><stop offset="0.750" stop-color="#afafaf"/><stop offset="0.800" stop-color="#b3b3b3"/><stop offset="0.850" stop-color="#b6b6b6"/><stop offset="0.900" stop-color="#bababa"/><stop offset="0.950" stop-color="#bebebe"/><stop offset="1.000" stop-color="#c1c1c1"/></linearGradient>
<linearGradient id="sg125" gradientUnits="userSpaceOnUse" x1="0" y1="1020.7" x2="0" y2="1174.2"><stop offset="0.000" stop-color="#7f7f7f"/><stop offset="0.050" stop-color="#818181"/><stop offset="0.100" stop-color="#838383"/><stop offset="0.150" stop-color="#868686"/><stop offset="0.200" stop-color="#888888"/><stop offset="0.250" stop-color="#8b8b8b"/><stop offset="0.300" stop-color="#8f8f8f"/><stop offset="0.350" stop-color="#929292"/><stop offset="0.400" stop-color="#969696"/><stop offset="0.450" stop-color="#999999"/><stop offset="0.500" stop-color="#9d9d9d"/><stop offset="0.550" stop-color="#a0a0a0"/><stop offset="0.600" stop-color="#a4a4a4"/><stop offset="0.650" stop-color="#a7a7a7"/><stop offset="0.700" stop-color="#ababab"/><stop offset="0.750" stop-color="#aeaeae"/><stop offset="0.800" stop-color="#b2b2b2"/><stop offset="0.850" stop-color="#b6b6b6"/><stop offset="0.900" stop-color="#b9b9b9"/><stop offset="0.950" stop-color="#bdbdbd"/><stop offset="1.000" stop-color="#c0c0c0"/></linearGradient>
<linearGradient id="sg126" gradientUnits="userSpaceOnUse" x1="0" y1="1020.7" x2="0" y2="1174.2"><stop offset="0.000" stop-color="#7e7e7e"/><stop offset="0.050" stop-color="#808080"/><stop offset="0.100" stop-color="#838383"/><stop offset="0.150" stop-color="#858585"/><stop offset="0.200" stop-color="#888888"/><stop offset="0.250" stop-color="#8c8c8c"/><stop offset="0.300" stop-color="#8f8f8f"/><stop offset="0.350" stop-color="#929292"/><stop offset="0.400" stop-color="#969696"/><stop offset="0.450" stop-color="#999999"/><stop offset="0.500" stop-color="#9d9d9d"/><stop offset="0.550" stop-color="#a0a0a0"/><stop offset="0.600" stop-color="#a4a4a4"/><stop offset="0.650" stop-color="#a7a7a7"/><stop offset="0.700" stop-color="#ababab"/><stop offset="0.750" stop-color="#aeaeae"/><stop offset="0.800" stop-color="#b2b2b2"/><stop offset="0.850" stop-color="#b5b5b5"/><stop offset="0.900" stop-color="#b9b9b9"/><stop offset="0.950" stop-color="#bcbcbc"/><stop offset="1.000" stop-color="#c0c0c0"/></linearGradient>
<linearGradient id="sg127" gradientUnits="userSpaceOnUse" x1="0" y1="1020.7" x2="0" y2="1174.2"><stop offset="0.000" stop-color="#7d7d7d"/><stop offset="0.050" stop-color="#7f7f7f"/><stop offset="0.100" stop-color="#828282"/><stop offset="0.150" stop-color="#858585"/><stop offset="0.200" stop-color="#888888"/><stop offset="0.250" stop-color="#8b8b8b"/><stop offset="0.300" stop-color="#8f8f8f"/><stop offset="0.350" stop-color="#929292"/><stop offset="0.400" stop-color="#959595"/><stop offset="0.450" stop-color="#999999"/><stop offset="0.500" stop-color="#9c9c9c"/><stop offset="0.550" stop-color="#a0a0a0"/><stop offset="0.600" stop-color="#a3a3a3"/><stop offset="0.650" stop-color="#a7a7a7"/><stop offset="0.700" stop-color="#aaaaaa"/><stop offset="0.750" stop-color="#adadad"/><stop offset="0.800" stop-color="#b1b1b1"/><stop offset="0.850" stop-color="#b4b4b4"/><stop offset="0.900" stop-color="#b8b8b8"/><stop offset="0.950" stop-color="#bbbbbb"/><stop offset="1.000" stop-color="#bfbfbf"/></linearGradient>
<linearGradient id="sg128" gradientUnits="userSpaceOnUse" x1="0" y1="1020.7" x2="0" y2="1174.2"><stop offset="0.000" stop-color="#7c7c7c"/><stop offset="0.050" stop-color="#7e7e7e"/><stop offset="0.100" stop-color="#818181"/><stop offset="0.150" stop-color="#838383"/><stop offset="0.200" stop-color="#878787"/><stop offset="0.250" stop-color="#8a8a8a"/><stop offset="0.300" stop-color="#8d8d8d"/><stop offset="0.350" stop-color="#909090"/><stop offset="0.400" stop-color="#949494"/><stop offset="0.450" stop-color="#979797"/><stop offset="0.500" stop-color="#9b9b9b"/><stop offset="0.550" stop-color="#9e9e9e"/><stop offset="0.600" stop-color="#a2a2a2"/><stop offset="0.650" stop-color="#a5a5a5"/><stop offset="0.700" stop-color="#a9a9a9"/><stop offset="0.750" stop-color="#acacac"/><stop offset="0.800" stop-color="#b0b0b0"/><stop offset="0.850" stop-color="#b3b3b3"/><stop offset="0.900" stop-color="#b7b7b7"/><stop offset="0.950" stop-color="#bababa"/><stop offset="1.000" stop-color="#bebebe"/></linearGradient>
<linearGradient id="sg129" gradientUnits="userSpaceOnUse" x1="0" y1="1020.7" x2="0" y2="1174.2"><stop offset="0.000" stop-color="#7b7b7b"/><stop offset="0.050" stop-color="#7d7d7d"/><stop offset="0.100" stop-color="#7f7f7f"/><stop offset="0.150" stop-color="#828282"/><stop offset="0.200" stop-color="#858585"/><stop offset="0.250" stop-color="#888888"/><stop offset="0.300" stop-color="#8c8c8c"/><stop offset="0.350" stop-color="#8f8f8f"/><stop offset="0.400" stop-color="#929292"/><stop offset="0.450" stop-color="#969696"/><stop offset="0.500" stop-color="#999999"/><stop offset="0.550" stop-color="#9d9d9d"/><stop offset="0.600" stop-color="#a1a1a1"/><stop offset="0.650" stop-color="#a4a4a4"/><stop offset="0.700" stop-color="#a8a8a8"/><stop offset="0.750" stop-color="#ababab"/><stop offset="0.800" stop-color="#afafaf"/><stop offset="0.850" stop-color="#b2b2b2"/><stop offset="0.900" stop-color="#b6b6b6"/><stop offset="0.950" stop-color="#b9b9b9"/><stop offset="1.000" stop-color="#bdbdbd"/></linearGradient>
<linearGradient id="sg130" gradientUnits="userSpaceOnUse" x1="0" y1="1020.7" x2="0" y2="1174.2"><stop offset="0.000" stop-color="#7a7a7a"/><stop offset="0.050" stop-color="#7c7c7c"/><stop offset="0.100" stop-color="#7e7e7e"/><stop offset="0.150" stop-color="#818181"/><stop offset="0.200" stop-color="#848484"/><stop offset="0.250" stop-color="#878787"/><stop offset="0.300" stop-color="#8a8a8a"/><stop offset="0.350" stop-color="#8e8e8e"/><stop offset="0.400" stop-color="#919191"/><stop offset="0.450" stop-color="#959595"/><stop offset="0.500" stop-color="#999999"/><stop offset="0.550" stop-color="#9c9c9c"/><stop offset="0.600" stop-color="#a0a0a0"/><stop offset="0.650" stop-color="#a3a3a3"/><stop offset="0.700" stop-color="#a7a7a7"/><stop offset="0.750" stop-color="#ababab"/><stop offset="0.800" stop-color="#aeaeae"/><stop offset="0.850" stop-color="#b2b2b2"/><stop offset="0.900" stop-color="#b5b5b5"/><stop offset="0.950" stop-color="#b9b9b9"/><stop offset="1.000" stop-color="#bdbdbd"/></linearGradient>
<linearGradient id="sg131" gradientUnits="userSpaceOnUse" x1="0" y1="1020.7" x2="0" y2="1174.2"><stop offset="0.000" stop-color="#797979"/><stop offset="0.050" stop-color="#7b7b7b"/><stop offset="0.100" stop-color="#7d7d7d"/><stop offset="0.150" stop-color="#808080"/><stop offset="0.200" stop-color="#838383"/><stop offset="0.250" stop-color="#868686"/><stop offset="0.300" stop-color="#898989"/><stop offset="0.350" stop-color="#8d8d8d"/><stop offset="0.400" stop-color="#919191"/><stop offset="0.450" stop-color="#949494"/><stop offset="0.500" stop-color="#989898"/><stop offset="0.550" stop-color="#9b9b9b"/><stop offset="0.600" stop-color="#9f9f9f"/><stop offset="0.650" stop-color="#a3a3a3"/><stop offset="0.700" stop-color="#a6a6a6"/><stop offset="0.750" stop-color="#aaaaaa"/><stop offset="0.800" stop-color="#aeaeae"/><stop offset="0.850" stop-color="#b1b1b1"/><stop offset="0.900" stop-color="#b5b5b5"/><stop offset="0.950" stop-color="#b9b9b9"/><stop offset="1.000" stop-color="#bcbcbc"/></linearGradient>
<linearGradient id="sg132" gradientUnits="userSpaceOnUse" x1="0" y1="1020.7" x2="0" y2="1174.2"><stop offset="0.000" stop-color="#797979"/><stop offset="0.050" stop-color="#7b7b7b"/><stop offset="0.100" stop-color="#7d7d7d"/><stop offset="0.150" stop-color="#808080"/><stop offset="0.200" stop-color="#838383"/><stop offset="0.250" stop-color="#868686"/><stop offset="0.300" stop-color="#8a8a8a"/><stop offset="0.350" stop-color="#8d8d8d"/><stop offset="0.400" stop-color="#919191"/><stop offset="0.450" stop-color="#949494"/><stop offset="0.500" stop-color="#989898"/><stop offset="0.550" stop-color="#9b9b9b"/><stop offset="0.600" stop-color="#9f9f9f"/><stop offset="0.650" stop-color="#a3a3a3"/><stop offset="0.700" stop-color="#a6a6a6"/><stop offset="0.750" stop-color="#aaaaaa"/><stop offset="0.800" stop-color="#adadad"/><stop offset="0.850" stop-color="#b1b1b1"/><stop offset="0.900" stop-color="#b5b5b5"/><stop offset="0.950" stop-color="#b8b8b8"/><stop offset="1.000" stop-color="#bcbcbc"/></linearGradient>
<linearGradient id="sg133" gradientUnits="userSpaceOnUse" x1="0" y1="1020.7" x2="0" y2="1174.2"><stop offset="0.000" stop-color="#787878"/><stop offset="0.050" stop-color="#7a7a7a"/><stop offset="0.100" stop-color="#7c7c7c"/><stop offset="0.150" stop-color="#7f7f7f"/><stop offset="0.200" stop-color="#828282"/><stop offset="0.250" stop-color="#858585"/><stop offset="0.300" stop-color="#898989"/><stop offset="0.350" stop-color="#8c8c8c"/><stop offset="0.400" stop-color="#909090"/><stop offset="0.450" stop-color="#939393"/><stop offset="0.500" stop-color="#979797"/><stop offset="0.550" stop-color="#9b9b9b"/><stop offset="0.600" stop-color="#9e9e9e"/><stop offset="0.650" stop-color="#a2a2a2"/><stop offset="0.700" stop-color="#a6a6a6"/><stop offset="0.750" stop-color="#a9a9a9"/><stop offset="0.800" stop-color="#adadad"/><stop offset="0.850" stop-color="#b1b1b1"/><stop offset="0.900" stop-color="#b4b4b4"/><stop offset="0.950" stop-color="#b8b8b8"/><stop offset="1.000" stop-color="#bcbcbc"/></linearGradient>
<linearGradient id="sg134" gradientUnits="userSpaceOnUse" x1="0" y1="1020.7" x2="0" y2="1174.2"><stop offset="0.000" stop-color="#777777"/><stop offset="0.050" stop-color="#787878"/><stop offset="0.100" stop-color="#7a7a7a"/><stop offset="0.150" stop-color="#7c7c7c"/><stop offset="0.200" stop-color="#7e7e7e"/><stop offset="0.250" stop-color="#818181"/><stop offset="0.300" stop-color="#858585"/><stop offset="0.350" stop-color="#888888"/><stop offset="0.400" stop-color="#8c8c8c"/><stop offset="0.450" stop-color="#909090"/><stop offset="0.500" stop-color="#949494"/><stop offset="0.550" stop-color="#979797"/><stop offset="0.600" stop-color="#9b9b9b"/><stop offset="0.650" stop-color="#9f9f9f"/><stop offset="0.700" stop-color="#a3a3a3"/><stop offset="0.750" stop-color="#a7a7a7"/><stop offset="0.800" stop-color="#ababab"/><stop offset="0.850" stop-color="#afafaf"/><stop offset="0.900" stop-color="#b3b3b3"/><stop offset="0.950" stop-color="#b7b7b7"/><stop offset="1.000" stop-color="#bbbbbb"/></linearGradient>
<linearGradient id="sg135" gradientUnits="userSpaceOnUse" x1="0" y1="1020.7" x2="0" y2="1174.2"><stop offset="0.000" stop-color="#777777"/><stop offset="0.050" stop-color="#787878"/><stop offset="0.100" stop-color="#797979"/><stop offset="0.150" stop-color="#7b7b7b"/><stop offset="0.200" stop-color="#7d7d7d"/><stop offset="0.250" stop-color="#808080"/><stop offset="0.300" stop-color="#838383"/><stop offset="0.350" stop-color="#868686"/><stop offset="0.400" stop-color="#8a8a8a"/><stop offset="0.450" stop-color="#8e8e8e"/><stop offset="0.500" stop-color="#929292"/><stop offset="0.550" stop-color="#969696"/><stop offset="0.600" stop-color="#9a9a9a"/><stop offset="0.650" stop-color="#9e9e9e"/><stop offset="0.700" stop-color="#a2a2a2"/><stop offset="0.750" stop-color="#a7a7a7"/><stop offset="0.800" stop-color="#ababab"/><stop offset="0.850" stop-color="#afafaf"/><stop offset="0.900" stop-color="#b3b3b3"/><stop offset="0.950" stop-color="#b7b7b7"/><stop offset="1.000" stop-color="#bbbbbb"/></linearGradient>
<linearGradient id="sg136" gradientUnits="userSpaceOnUse" x1="0" y1="1020.7" x2="0" y2="1174.2"><stop offset="0.000" stop-color="#767676"/><stop offset="0.050" stop-color="#787878"/><stop offset="0.100" stop-color="#7a7a7a"/><stop offset="0.150" stop-color="#7c7c7c"/><stop offset="0.200" stop-color="#7f7f7f"/><stop offset="0.250" stop-color="#828282"/><stop offset="0.300" stop-color="#868686"/><stop offset="0.350" stop-color="#898989"/><stop offset="0.400" stop-color="#8d8d8d"/><stop offset="0.450" stop-color="#919191"/><stop offset="0.500" stop-color="#959595"/><stop offset="0.550" stop-color="#989898"/><stop offset="0.600" stop-color="#9c9c9c"/><stop offset="0.650" stop-color="#a0a0a0"/><stop offset="0.700" stop-color="#a4a4a4"/><stop offset="0.750" stop-color="#a8a8a8"/><stop offset="0.800" stop-color="#acacac"/><stop offset="0.850" stop-color="#afafaf"/><stop offset="0.900" stop-color="#b3b3b3"/><stop offset="0.950" stop-color="#b7b7b7"/><stop offset="1.000" stop-color="#bbbbbb"/></linearGradient>
<linearGradient id="sg137" gradientUnits="userSpaceOnUse" x1="0" y1="1020.7" x2="0" y2="1174.2"><stop offset="0.000" stop-color="#757575"/><stop offset="0.050" stop-color="#777777"/><stop offset="0.100" stop-color="#797979"/><stop offset="0.150" stop-color="#7c7c7c"/><stop offset="0.200" stop-color="#7f7f7f"/><stop offset="0.250" stop-color="#838383"/><stop offset="0.300" stop-color="#868686"/><stop offset="0.350" stop-color="#8a8a8a"/><stop offset="0.400" stop-color="#8d8d8d"/><stop offset="0.450" stop-color="#919191"/><stop offset="0.500" stop-color="#959595"/><stop offset="0.550" stop-color="#999999"/><stop offset="0.600" stop-color="#9c9c9c"/><stop offset="0.650" stop-color="#a0a0a0"/><stop offset="0.700" stop-color="#a4a4a4"/><stop offset="0.750" stop-color="#a8a8a8"/><stop offset="0.800" stop-color="#acacac"/><stop offset="0.850" stop-color="#afafaf"/><stop offset="0.900" stop-color="#b3b3b3"/><stop offset="0.950" stop-color="#b7b7b7"/><stop offset="1.000" stop-color="#bbbbbb"/></linearGradient>
<linearGradient id="sg138" gradientUnits="userSpaceOnUse" x1="0" y1="1020.7" x2="0" y2="1174.2"><stop offset="0.000" stop-color="#757575"/><stop offset="0.050" stop-color="#767676"/><stop offset="0.100" stop-color="#787878"/><stop offset="0.150" stop-color="#7b7b7b"/><stop offset="0.200" stop-color="#7d7d7d"/><stop offset="0.250" stop-color="#818181"/><stop offset="0.300" stop-color="#848484"/><stop offset="0.350" stop-color="#888888"/><stop offset="0.400" stop-color="#8c8c8c"/><stop offset="0.450" stop-color="#8f8f8f"/><stop offset="0.500" stop-color="#939393"/><stop offset="0.550" stop-color="#979797"/><stop offset="0.600" stop-color="#9b9b9b"/><stop offset="0.650" stop-color="#9f9f9f"/><stop offset="0.700" stop-color="#a3a3a3"/><stop offset="0.750" stop-color="#a7a7a7"/><stop offset="0.800" stop-color="#ababab"/><stop offset="0.850" stop-color="#afafaf"/><stop offset="0.900" stop-color="#b3b3b3"/><stop offset="0.950" stop-color="#b6b6b6"/><stop offset="1.000" stop-color="#bababa"/></linearGradient>
<linearGradient id="sg139" gradientUnits="userSpaceOnUse" x1="0" y1="1020.7" x2="0" y2="1174.2"><stop offset="0.000" stop-color="#747474"/><stop offset="0.050" stop-color="#757575"/><stop offset="0.100" stop-color="#777777"/><stop offset="0.150" stop-color="#797979"/><stop offset="0.200" stop-color="#7c7c7c"/><stop offset="0.250" stop-color="#7f7f7f"/><stop offset="0.300" stop-color="#828282"/><stop offset="0.350" stop-color="#868686"/><stop offset="0.400" stop-color="#898989"/><stop offset="0.450" stop-color="#8d8d8d"/><stop offset="0.500" stop-color="#919191"/><stop offset="0.550" stop-color="#959595"/><stop offset="0.600" stop-color="#999999"/><stop offset="0.650" stop-color="#9e9e9e"/><stop offset="0.700" stop-color="#a2a2a2"/><stop offset="0.750" stop-color="#a6a6a6"/><stop offset="0.800" stop-color="#aaaaaa"/><stop offset="0.850" stop-color="#aeaeae"/><stop offset="0.900" stop-color="#b2b2b2"/><stop offset="0.950" stop-color="#b6b6b6"/><stop offset="1.000" stop-color="#bababa"/></linearGradient>
<linearGradient id="sg140" gradientUnits="userSpaceOnUse" x1="0" y1="1020.7" x2="0" y2="1174.2"><stop offset="0.000" stop-color="#747474"/><stop offset="0.050" stop-color="#757575"/><stop offset="0.100" stop-color="#777777"/><stop offset="0.150" stop-color="#797979"/><stop offset="0.200" stop-color="#7b7b7b"/><stop offset="0.250" stop-color="#7f7f7f"/><stop offset="0.300" stop-color="#828282"/><stop offset="0.350" stop-color="#868686"/><stop offset="0.400" stop-color="#898989"/><stop offset="0.450" stop-color="#8d8d8d"/><stop offset="0.500" stop-color="#919191"/><stop offset="0.550" stop-color="#959595"/><stop offset="0.600" stop-color="#999999"/><stop offset="0.650" stop-color="#9d9d9d"/><stop offset="0.700" stop-color="#a1a1a1"/><stop offset="0.750" stop-color="#a6a6a6"/><stop offset="0.800" stop-color="#aaaaaa"/><stop offset="0.850" stop-color="#aeaeae"/><stop offset="0.900" stop-color="#b2b2b2"/><stop offset="0.950" stop-color="#b6b6b6"/><stop offset="1.000" stop-color="#bababa"/></linearGradient>
<linearGradient id="sg141" gradientUnits="userSpaceOnUse" x1="0" y1="1020.7" x2="0" y2="1174.2"><stop offset="0.000" stop-color="#747474"/><stop offset="0.050" stop-color="#767676"/><stop offset="0.100" stop-color="#787878"/><stop offset="0.150" stop-color="#7a7a7a"/><stop offset="0.200" stop-color="#7d7d7d"/><stop offset="0.250" stop-color="#808080"/><stop offset="0.300" stop-color="#848484"/><stop offset="0.350" stop-color="#878787"/><stop offset="0.400" stop-color="#8b8b8b"/><stop offset="0.450" stop-color="#8f8f8f"/><stop offset="0.500" stop-color="#939393"/><stop offset="0.550" stop-color="#979797"/><stop offset="0.600" stop-color="#9b9b9b"/><stop offset="0.650" stop-color="#9f9f9f"/><stop offset="0.700" stop-color="#a2a2a2"/><stop offset="0.750" stop-color="#a6a6a6"/><stop offset="0.800" stop-color="#aaaaaa"/><stop offset="0.850" stop-color="#aeaeae"/><stop offset="0.900" stop-color="#b2b2b2"/><stop offset="0.950" stop-color="#b6b6b6"/><stop offset="1.000" stop-color="#bababa"/></linearGradient>
<linearGradient id="sg142" gradientUnits="userSpaceOnUse" x1="0" y1="1020.7" x2="0" y2="1174.2"><stop offset="0.000" stop-color="#747474"/><stop offset="0.050" stop-color="#767676"/><stop offset="0.100" stop-color="#797979"/><stop offset="0.150" stop-color="#7c7c7c"/><stop offset="0.200" stop-color="#7f7f7f"/><stop offset="0.250" stop-color="#838383"/><stop offset="0.300" stop-color="#868686"/><stop offset="0.350" stop-color="#8a8a8a"/><stop offset="0.400" stop-color="#8d8d8d"/><stop offset="0.450" stop-color="#919191"/><stop offset="0.500" stop-color="#959595"/><stop offset="0.550" stop-color="#989898"/><stop offset="0.600" stop-color="#9c9c9c"/><stop offset="0.650" stop-color="#a0a0a0"/><stop offset="0.700" stop-color="#a3a3a3"/><stop offset="0.750" stop-color="#a7a7a7"/><stop offset="0.800" stop-color="#ababab"/><stop offset="0.850" stop-color="#afafaf"/><stop offset="0.900" stop-color="#b2b2b2"/><stop offset="0.950" stop-color="#b6b6b6"/><stop offset="1.000" stop-color="#bababa"/></linearGradient>
<linearGradient id="sg143" gradientUnits="userSpaceOnUse" x1="0" y1="1020.7" x2="0" y2="1174.2"><stop offset="0.000" stop-color="#747474"/><stop offset="0.050" stop-color="#767676"/><stop offset="0.100" stop-color="#787878"/><stop offset="0.150" stop-color="#7b7b7b"/><stop offset="0.200" stop-color="#7e7e7e"/><stop offset="0.250" stop-color="#828282"/><stop offset="0.300" stop-color="#858585"/><stop offset="0.350" stop-color="#898989"/><stop offset="0.400" stop-color="#8c8c8c"/><stop offset="0.450" stop-color="#909090"/><stop offset="0.500" stop-color="#949494"/><stop offset="0.550" stop-color="#989898"/><stop offset="0.600" stop-color="#9b9b9b"/><stop offset="0.650" stop-color="#9f9f9f"/><stop offset="0.700" stop-color="#a3a3a3"/><stop offset="0.750" stop-color="#a7a7a7"/><stop offset="0.800" stop-color="#aaaaaa"/><stop offset="0.850" stop-color="#aeaeae"/><stop offset="0.900" stop-color="#b2b2b2"/><stop offset="0.950" stop-color="#b6b6b6"/><stop offset="1.000" stop-color="#bababa"/></linearGradient>
<linearGradient id="sg144" gradientUnits="userSpaceOnUse" x1="0" y1="1020.7" x2="0" y2="1174.2"><stop offset="0.000" stop-color="#747474"/><stop offset="0.050" stop-color="#757575"/><stop offset="0.100" stop-color="#777777"/><stop offset="0.150" stop-color="#797979"/><stop offset="0.200" stop-color="#7c7c7c"/><stop offset="0.250" stop-color="#7f7f7f"/><stop offset="0.300" stop-color="#828282"/><stop offset="0.350" stop-color="#858585"/><stop offset="0.400" stop-color="#898989"/><stop offset="0.450" stop-color="#8d8d8d"/><stop offset="0.500" stop-color="#919191"/><stop offset="0.550" stop-color="#959595"/><stop offset="0.600" stop-color="#999999"/><stop offset="0.650" stop-color="#9d9d9d"/><stop offset="0.700" stop-color="#a1a1a1"/><stop offset="0.750" stop-color="#a5a5a5"/><stop offset="0.800" stop-color="#a9a9a9"/><stop offset="0.850" stop-color="#adadad"/><stop offset="0.900" stop-color="#b1b1b1"/><stop offset="0.950" stop-color="#b5b5b5"/><stop offset="1.000" stop-color="#b9b9b9"/></linearGradient>
<linearGradient id="sg145" gradientUnits="userSpaceOnUse" x1="0" y1="1020.7" x2="0" y2="1174.2"><stop offset="0.000" stop-color="#747474"/><stop offset="0.050" stop-color="#757575"/><stop offset="0.100" stop-color="#777777"/><stop offset="0.150" stop-color="#7a7a7a"/><stop offset="0.200" stop-color="#7c7c7c"/><stop offset="0.250" stop-color="#808080"/><stop offset="0.300" stop-color="#838383"/><stop offset="0.350" stop-color="#878787"/><stop offset="0.400" stop-color="#8a8a8a"/><stop offset="0.450" stop-color="#8e8e8e"/><stop offset="0.500" stop-color="#929292"/><stop offset="0.550" stop-color="#969696"/><stop offset="0.600" stop-color="#9a9a9a"/><stop offset="0.650" stop-color="#9e9e9e"/><stop offset="0.700" stop-color="#a2a2a2"/><stop offset="0.750" stop-color="#a6a6a6"/><stop offset="0.800" stop-color="#aaaaaa"/><stop offset="0.850" stop-color="#adadad"/><stop offset="0.900" stop-color="#b1b1b1"/><stop offset="0.950" stop-color="#b5b5b5"/><stop offset="1.000" stop-color="#b9b9b9"/></linearGradient>
<linearGradient id="sg146" gradientUnits="userSpaceOnUse" x1="0" y1="1020.7" x2="0" y2="1174.2"><stop offset="0.000" stop-color="#747474"/><stop offset="0.050" stop-color="#767676"/><stop offset="0.100" stop-color="#797979"/><stop offset="0.150" stop-color="#7b7b7b"/><stop offset="0.200" stop-color="#7f7f7f"/><stop offset="0.250" stop-color="#828282"/><stop offset="0.300" stop-color="#858585"/><stop offset="0.350" stop-color="#898989"/><stop offset="0.400" stop-color="#8d8d8d"/><stop offset="0.450" stop-color="#909090"/><stop offset="0.500" stop-color="#949494"/><stop offset="0.550" stop-color="#989898"/><stop offset="0.600" stop-color="#9b9b9b"/><stop offset="0.650" stop-color="#9f9f9f"/><stop offset="0.700" stop-color="#a3a3a3"/><stop offset="0.750" stop-color="#a7a7a7"/><stop offset="0.800" stop-color="#aaaaaa"/><stop offset="0.850" stop-color="#aeaeae"/><stop offset="0.900" stop-color="#b2b2b2"/><stop offset="0.950" stop-color="#b5b5b5"/><stop offset="1.000" stop-color="#b9b9b9"/></linearGradient>
<linearGradient id="sg147" gradientUnits="userSpaceOnUse" x1="0" y1="1020.7" x2="0" y2="1174.2"><stop offset="0.000" stop-color="#747474"/><stop offset="0.050" stop-color="#767676"/><stop offset="0.100" stop-color="#797979"/><stop offset="0.150" stop-color="#7c7c7c"/><stop offset="0.200" stop-color="#7f7f7f"/><stop offset="0.250" stop-color="#828282"/><stop offset="0.300" stop-color="#868686"/><stop offset="0.350" stop-color="#898989"/><stop offset="0.400" stop-color="#8d8d8d"/><stop offset="0.450" stop-color="#919191"/><stop offset="0.500" stop-color="#949494"/><stop offset="0.550" stop-color="#989898"/><stop offset="0.600" stop-color="#9c9c9c"/><stop offset="0.650" stop-color="#9f9f9f"/><stop offset="0.700" stop-color="#a3a3a3"/><stop offset="0.750" stop-color="#a7a7a7"/><stop offset="0.800" stop-color="#aaaaaa"/><stop offset="0.850" stop-color="#aeaeae"/><stop offset="0.900" stop-color="#b2b2b2"/><stop offset="0.950" stop-color="#b5b5b5"/><stop offset="1.000" stop-color="#b9b9b9"/></linearGradient>
<linearGradient id="sg148" gradientUnits="userSpaceOnUse" x1="0" y1="1020.7" x2="0" y2="1174.2"><stop offset="0.000" stop-color="#747474"/><stop offset="0.050" stop-color="#767676"/><stop offset="0.100" stop-color="#797979"/><stop offset="0.150" stop-color="#7c7c7c"/><stop offset="0.200" stop-color="#7f7f7f"/><stop offset="0.250" stop-color="#828282"/><stop offset="0.300" stop-color="#868686"/><stop offset="0.350" stop-color="#898989"/><stop offset="0.400" stop-color="#8d8d8d"/><stop offset="0.450" stop-color="#919191"/><stop offset="0.500" stop-color="#949494"/><stop offset="0.550" stop-color="#989898"/><stop offset="0.600" stop-color="#9c9c9c"/><stop offset="0.650" stop-color="#9f9f9f"/><stop offset="0.700" stop-color="#a3a3a3"/><stop offset="0.750" stop-color="#a7a7a7"/><stop offset="0.800" stop-color="#aaaaaa"/><stop offset="0.850" stop-color="#aeaeae"/><stop offset="0.900" stop-color="#b2b2b2"/><stop offset="0.950" stop-color="#b5b5b5"/><stop offset="1.000" stop-color="#b9b9b9"/></linearGradient>
<linearGradient id="sg149" gradientUnits="userSpaceOnUse" x1="0" y1="1020.7" x2="0" y2="1174.2"><stop offset="0.000" stop-color="#747474"/><stop offset="0.050" stop-color="#767676"/><stop offset="0.100" stop-color="#787878"/><stop offset="0.150" stop-color="#7b7b7b"/><stop offset="0.200" stop-color="#7e7e7e"/><stop offset="0.250" stop-color="#818181"/><stop offset="0.300" stop-color="#858585"/><stop offset="0.350" stop-color="#888888"/><stop offset="0.400" stop-color="#8c8c8c"/><stop offset="0.450" stop-color="#909090"/><stop offset="0.500" stop-color="#939393"/><stop offset="0.550" stop-color="#979797"/><stop offset="0.600" stop-color="#9b9b9b"/><stop offset="0.650" stop-color="#9e9e9e"/><stop offset="0.700" stop-color="#a2a2a2"/><stop offset="0.750" stop-color="#a6a6a6"/><stop offset="0.800" stop-color="#aaaaaa"/><stop offset="0.850" stop-color="#aeaeae"/><stop offset="0.900" stop-color="#b1b1b1"/><stop offset="0.950" stop-color="#b5b5b5"/><stop offset="1.000" stop-color="#b9b9b9"/></linearGradient>
</defs>
<g clip-path="url(#gclip)"><g filter="url(#specf)">
<rect x="113.2" y="1012.7" width="6.6" height="169.5" fill="url(#sg0)"/>
<rect x="119.2" y="1012.7" width="6.6" height="169.5" fill="url(#sg1)"/>
<rect x="125.2" y="1012.7" width="6.6" height="169.5" fill="url(#sg2)"/>
<rect x="131.2" y="1012.7" width="6.6" height="169.5" fill="url(#sg3)"/>
<rect x="137.2" y="1012.7" width="6.6" height="169.5" fill="url(#sg4)"/>
<rect x="143.2" y="1012.7" width="6.6" height="169.5" fill="url(#sg5)"/>
<rect x="149.2" y="1012.7" width="6.6" height="169.5" fill="url(#sg6)"/>
<rect x="155.2" y="1012.7" width="6.6" height="169.5" fill="url(#sg7)"/>
<rect x="161.2" y="1012.7" width="6.6" height="169.5" fill="url(#sg8)"/>
<rect x="167.2" y="1012.7" width="6.6" height="169.5" fill="url(#sg9)"/>
<rect x="173.2" y="1012.7" width="6.6" height="169.5" fill="url(#sg10)"/>
<rect x="179.2" y="1012.7" width="6.6" height="169.5" fill="url(#sg11)"/>
<rect x="185.2" y="1012.7" width="6.6" height="169.5" fill="url(#sg12)"/>
<rect x="191.2" y="1012.7" width="6.6" height="169.5" fill="url(#sg13)"/>
<rect x="197.2" y="1012.7" width="6.6" height="169.5" fill="url(#sg14)"/>
<rect x="203.2" y="1012.7" width="6.6" height="169.5" fill="url(#sg15)"/>
<rect x="209.2" y="1012.7" width="6.6" height="169.5" fill="url(#sg16)"/>
<rect x="215.2" y="1012.7" width="6.6" height="169.5" fill="url(#sg17)"/>
<rect x="221.2" y="1012.7" width="6.6" height="169.5" fill="url(#sg18)"/>
<rect x="227.2" y="1012.7" width="6.6" height="169.5" fill="url(#sg19)"/>
<rect x="233.2" y="1012.7" width="6.6" height="169.5" fill="url(#sg20)"/>
<rect x="239.2" y="1012.7" width="6.6" height="169.5" fill="url(#sg21)"/>
<rect x="245.2" y="1012.7" width="6.6" height="169.5" fill="url(#sg22)"/>
<rect x="251.2" y="1012.7" width="6.6" height="169.5" fill="url(#sg23)"/>
<rect x="257.2" y="1012.7" width="6.6" height="169.5" fill="url(#sg24)"/>
<rect x="263.2" y="1012.7" width="6.6" height="169.5" fill="url(#sg25)"/>
<rect x="269.2" y="1012.7" width="6.6" height="169.5" fill="url(#sg26)"/>
<rect x="275.2" y="1012.7" width="6.6" height="169.5" fill="url(#sg27)"/>
<rect x="281.2" y="1012.7" width="6.6" height="169.5" fill="url(#sg28)"/>
<rect x="287.2" y="1012.7" width="6.6" height="169.5" fill="url(#sg29)"/>
<rect x="293.2" y="1012.7" width="6.6" height="169.5" fill="url(#sg30)"/>
<rect x="299.2" y="1012.7" width="6.6" height="169.5" fill="url(#sg31)"/>
<rect x="305.2" y="1012.7" width="6.6" height="169.5" fill="url(#sg32)"/>
<rect x="311.2" y="1012.7" width="6.6" height="169.5" fill="url(#sg33)"/>
<rect x="317.2" y="1012.7" width="6.6" height="169.5" fill="url(#sg34)"/>
<rect x="323.2" y="1012.7" width="6.6" height="169.5" fill="url(#sg35)"/>
<rect x="329.2" y="1012.7" width="6.6" height="169.5" fill="url(#sg36)"/>
<rect x="335.2" y="1012.7" width="6.6" height="169.5" fill="url(#sg37)"/>
<rect x="341.2" y="1012.7" width="6.6" height="169.5" fill="url(#sg38)"/>
<rect x="347.2" y="1012.7" width="6.6" height="169.5" fill="url(#sg39)"/>
<rect x="353.2" y="1012.7" width="6.6" height="169.5" fill="url(#sg40)"/>
<rect x="359.2" y="1012.7" width="6.6" height="169.5" fill="url(#sg41)"/>
<rect x="365.2" y="1012.7" width="6.6" height="169.5" fill="url(#sg42)"/>
<rect x="371.2" y="1012.7" width="6.6" height="169.5" fill="url(#sg43)"/>
<rect x="377.2" y="1012.7" width="6.6" height="169.5" fill="url(#sg44)"/>
<rect x="383.2" y="1012.7" width="6.6" height="169.5" fill="url(#sg45)"/>
<rect x="389.2" y="1012.7" width="6.6" height="169.5" fill="url(#sg46)"/>
<rect x="395.2" y="1012.7" width="6.6" height="169.5" fill="url(#sg47)"/>
<rect x="401.2" y="1012.7" width="6.6" height="169.5" fill="url(#sg48)"/>
<rect x="407.2" y="1012.7" width="6.6" height="169.5" fill="url(#sg49)"/>
<rect x="413.2" y="1012.7" width="6.6" height="169.5" fill="url(#sg50)"/>
<rect x="419.2" y="1012.7" width="6.6" height="169.5" fill="url(#sg51)"/>
<rect x="425.2" y="1012.7" width="6.6" height="169.5" fill="url(#sg52)"/>
<rect x="431.2" y="1012.7" width="6.6" height="169.5" fill="url(#sg53)"/>
<rect x="437.2" y="1012.7" width="6.6" height="169.5" fill="url(#sg54)"/>
<rect x="443.2" y="1012.7" width="6.6" height="169.5" fill="url(#sg55)"/>
<rect x="449.2" y="1012.7" width="6.6" height="169.5" fill="url(#sg56)"/>
<rect x="455.2" y="1012.7" width="6.6" height="169.5" fill="url(#sg57)"/>
<rect x="461.2" y="1012.7" width="6.6" height="169.5" fill="url(#sg58)"/>
<rect x="467.2" y="1012.7" width="6.6" height="169.5" fill="url(#sg59)"/>
<rect x="473.2" y="1012.7" width="6.6" height="169.5" fill="url(#sg60)"/>
<rect x="479.2" y="1012.7" width="6.6" height="169.5" fill="url(#sg61)"/>
<rect x="485.2" y="1012.7" width="6.6" height="169.5" fill="url(#sg62)"/>
<rect x="491.2" y="1012.7" width="6.6" height="169.5" fill="url(#sg63)"/>
<rect x="497.2" y="1012.7" width="6.6" height="169.5" fill="url(#sg64)"/>
<rect x="503.2" y="1012.7" width="6.6" height="169.5" fill="url(#sg65)"/>
<rect x="509.2" y="1012.7" width="6.6" height="169.5" fill="url(#sg66)"/>
<rect x="515.2" y="1012.7" width="6.6" height="169.5" fill="url(#sg67)"/>
<rect x="521.2" y="1012.7" width="6.6" height="169.5" fill="url(#sg68)"/>
<rect x="527.2" y="1012.7" width="6.6" height="169.5" fill="url(#sg69)"/>
<rect x="533.2" y="1012.7" width="6.6" height="169.5" fill="url(#sg70)"/>
<rect x="539.2" y="1012.7" width="6.6" height="169.5" fill="url(#sg71)"/>
<rect x="545.2" y="1012.7" width="6.6" height="169.5" fill="url(#sg72)"/>
<rect x="551.2" y="1012.7" width="6.6" height="169.5" fill="url(#sg73)"/>
<rect x="557.2" y="1012.7" width="6.6" height="169.5" fill="url(#sg74)"/>
<rect x="563.2" y="1012.7" width="6.6" height="169.5" fill="url(#sg75)"/>
<rect x="569.2" y="1012.7" width="6.6" height="169.5" fill="url(#sg76)"/>
<rect x="575.2" y="1012.7" width="6.6" height="169.5" fill="url(#sg77)"/>
<rect x="581.2" y="1012.7" width="6.6" height="169.5" fill="url(#sg78)"/>
<rect x="587.2" y="1012.7" width="6.6" height="169.5" fill="url(#sg79)"/>
<rect x="593.2" y="1012.7" width="6.6" height="169.5" fill="url(#sg80)"/>
<rect x="599.2" y="1012.7" width="6.6" height="169.5" fill="url(#sg81)"/>
<rect x="605.2" y="1012.7" width="6.6" height="169.5" fill="url(#sg82)"/>
<rect x="611.2" y="1012.7" width="6.6" height="169.5" fill="url(#sg83)"/>
<rect x="617.2" y="1012.7" width="6.6" height="169.5" fill="url(#sg84)"/>
<rect x="623.2" y="1012.7" width="6.6" height="169.5" fill="url(#sg85)"/>
<rect x="629.2" y="1012.7" width="6.6" height="169.5" fill="url(#sg86)"/>
<rect x="635.2" y="1012.7" width="6.6" height="169.5" fill="url(#sg87)"/>
<rect x="641.2" y="1012.7" width="6.6" height="169.5" fill="url(#sg88)"/>
<rect x="647.2" y="1012.7" width="6.6" height="169.5" fill="url(#sg89)"/>
<rect x="653.2" y="1012.7" width="6.6" height="169.5" fill="url(#sg90)"/>
<rect x="659.2" y="1012.7" width="6.6" height="169.5" fill="url(#sg91)"/>
<rect x="665.2" y="1012.7" width="6.6" height="169.5" fill="url(#sg92)"/>
<rect x="671.2" y="1012.7" width="6.6" height="169.5" fill="url(#sg93)"/>
<rect x="677.2" y="1012.7" width="6.6" height="169.5" fill="url(#sg94)"/>
<rect x="683.2" y="1012.7" width="6.6" height="169.5" fill="url(#sg95)"/>
<rect x="689.2" y="1012.7" width="6.6" height="169.5" fill="url(#sg96)"/>
<rect x="695.2" y="1012.7" width="6.6" height="169.5" fill="url(#sg97)"/>
<rect x="701.2" y="1012.7" width="6.6" height="169.5" fill="url(#sg98)"/>
<rect x="707.2" y="1012.7" width="6.6" height="169.5" fill="url(#sg99)"/>
<rect x="713.2" y="1012.7" width="6.6" height="169.5" fill="url(#sg100)"/>
<rect x="719.2" y="1012.7" width="6.6" height="169.5" fill="url(#sg101)"/>
<rect x="725.2" y="1012.7" width="6.6" height="169.5" fill="url(#sg102)"/>
<rect x="731.2" y="1012.7" width="6.6" height="169.5" fill="url(#sg103)"/>
<rect x="737.2" y="1012.7" width="6.6" height="169.5" fill="url(#sg104)"/>
<rect x="743.2" y="1012.7" width="6.6" height="169.5" fill="url(#sg105)"/>
<rect x="749.2" y="1012.7" width="6.6" height="169.5" fill="url(#sg106)"/>
<rect x="755.2" y="1012.7" width="6.6" height="169.5" fill="url(#sg107)"/>
<rect x="761.2" y="1012.7" width="6.6" height="169.5" fill="url(#sg108)"/>
<rect x="767.2" y="1012.7" width="6.6" height="169.5" fill="url(#sg109)"/>
<rect x="773.2" y="1012.7" width="6.6" height="169.5" fill="url(#sg110)"/>
<rect x="779.2" y="1012.7" width="6.6" height="169.5" fill="url(#sg111)"/>
<rect x="785.2" y="1012.7" width="6.6" height="169.5" fill="url(#sg112)"/>
<rect x="791.2" y="1012.7" width="6.6" height="169.5" fill="url(#sg113)"/>
<rect x="797.2" y="1012.7" width="6.6" height="169.5" fill="url(#sg114)"/>
<rect x="803.2" y="1012.7" width="6.6" height="169.5" fill="url(#sg115)"/>
<rect x="809.2" y="1012.7" width="6.6" height="169.5" fill="url(#sg116)"/>
<rect x="815.2" y="1012.7" width="6.6" height="169.5" fill="url(#sg117)"/>
<rect x="821.2" y="1012.7" width="6.6" height="169.5" fill="url(#sg118)"/>
<rect x="827.2" y="1012.7" width="6.6" height="169.5" fill="url(#sg119)"/>
<rect x="833.2" y="1012.7" width="6.6" height="169.5" fill="url(#sg120)"/>
<rect x="839.2" y="1012.7" width="6.6" height="169.5" fill="url(#sg121)"/>
<rect x="845.2" y="1012.7" width="6.6" height="169.5" fill="url(#sg122)"/>
<rect x="851.2" y="1012.7" width="6.6" height="169.5" fill="url(#sg123)"/>
<rect x="857.2" y="1012.7" width="6.6" height="169.5" fill="url(#sg124)"/>
<rect x="863.2" y="1012.7" width="6.6" height="169.5" fill="url(#sg125)"/>
<rect x="869.2" y="1012.7" width="6.6" height="169.5" fill="url(#sg126)"/>
<rect x="875.2" y="1012.7" width="6.6" height="169.5" fill="url(#sg127)"/>
<rect x="881.2" y="1012.7" width="6.6" height="169.5" fill="url(#sg128)"/>
<rect x="887.2" y="1012.7" width="6.6" height="169.5" fill="url(#sg129)"/>
<rect x="893.2" y="1012.7" width="6.6" height="169.5" fill="url(#sg130)"/>
<rect x="899.2" y="1012.7" width="6.6" height="169.5" fill="url(#sg131)"/>
<rect x="905.2" y="1012.7" width="6.6" height="169.5" fill="url(#sg132)"/>
<rect x="911.2" y="1012.7" width="6.6" height="169.5" fill="url(#sg133)"/>
<rect x="917.2" y="1012.7" width="6.6" height="169.5" fill="url(#sg134)"/>
<rect x="923.2" y="1012.7" width="6.6" height="169.5" fill="url(#sg135)"/>
<rect x="929.2" y="1012.7" width="6.6" height="169.5" fill="url(#sg136)"/>
<rect x="935.2" y="1012.7" width="6.6" height="169.5" fill="url(#sg137)"/>
<rect x="941.2" y="1012.7" width="6.6" height="169.5" fill="url(#sg138)"/>
<rect x="947.2" y="1012.7" width="6.6" height="169.5" fill="url(#sg139)"/>
<rect x="953.2" y="1012.7" width="6.6" height="169.5" fill="url(#sg140)"/>
<rect x="959.2" y="1012.7" width="6.6" height="169.5" fill="url(#sg141)"/>
<rect x="965.2" y="1012.7" width="6.6" height="169.5" fill="url(#sg142)"/>
<rect x="971.2" y="1012.7" width="6.6" height="169.5" fill="url(#sg143)"/>
<rect x="977.2" y="1012.7" width="6.6" height="169.5" fill="url(#sg144)"/>
<rect x="983.2" y="1012.7" width="6.6" height="169.5" fill="url(#sg145)"/>
<rect x="989.2" y="1012.7" width="6.6" height="169.5" fill="url(#sg146)"/>
<rect x="995.2" y="1012.7" width="6.6" height="169.5" fill="url(#sg147)"/>
<rect x="1001.2" y="1012.7" width="6.6" height="169.5" fill="url(#sg148)"/>
<rect x="1007.2" y="1012.7" width="6.6" height="169.5" fill="url(#sg149)"/>
<line x1="540.9" y1="1066.3" x2="649.1" y2="1066.3" stroke="#b2b2b2" stroke-width="1.2" opacity="0.6"/>
<line x1="410.6" y1="1097.5" x2="589.5" y2="1097.5" stroke="#b2b2b2" stroke-width="1.2" opacity="0.6"/>
</g></g>
<rect x="119.2" y="40.8" width="883.1" height="153.6" fill="none" stroke="#000" stroke-width="2.8"/>
<path d="M119.2 40.8v11M119.2 194.4v-11M141.3 40.8v5.6M141.3 194.4v-5.6M163.4 40.8v5.6M163.4 194.4v-5.6M185.4 40.8v5.6M185.4 194.4v-5.6M207.5 40.8v5.6M207.5 194.4v-5.6M229.6 40.8v11M229.6 194.4v-11M251.7 40.8v5.6M251.7 194.4v-5.6M273.7 40.8v5.6M273.7 194.4v-5.6M295.8 40.8v5.6M295.8 194.4v-5.6M317.9 40.8v5.6M317.9 194.4v-5.6M340 40.8v11M340 194.4v-11M362.1 40.8v5.6M362.1 194.4v-5.6M384.1 40.8v5.6M384.1 194.4v-5.6M406.2 40.8v5.6M406.2 194.4v-5.6M428.3 40.8v5.6M428.3 194.4v-5.6M450.4 40.8v11M450.4 194.4v-11M472.4 40.8v5.6M472.4 194.4v-5.6M494.5 40.8v5.6M494.5 194.4v-5.6M516.6 40.8v5.6M516.6 194.4v-5.6M538.7 40.8v5.6M538.7 194.4v-5.6M560.8 40.8v11M560.8 194.4v-11M582.8 40.8v5.6M582.8 194.4v-5.6M604.9 40.8v5.6M604.9 194.4v-5.6M627 40.8v5.6M627 194.4v-5.6M649.1 40.8v5.6M649.1 194.4v-5.6M671.1 40.8v11M671.1 194.4v-11M693.2 40.8v5.6M693.2 194.4v-5.6M715.3 40.8v5.6M715.3 194.4v-5.6M737.4 40.8v5.6M737.4 194.4v-5.6M759.4 40.8v5.6M759.4 194.4v-5.6M781.5 40.8v11M781.5 194.4v-11M803.6 40.8v5.6M803.6 194.4v-5.6M825.7 40.8v5.6M825.7 194.4v-5.6M847.8 40.8v5.6M847.8 194.4v-5.6M869.8 40.8v5.6M869.8 194.4v-5.6M891.9 40.8v11M891.9 194.4v-11M914 40.8v5.6M914 194.4v-5.6M936.1 40.8v5.6M936.1 194.4v-5.6M958.1 40.8v5.6M958.1 194.4v-5.6M980.2 40.8v5.6M980.2 194.4v-5.6M1002.3 40.8v11M1002.3 194.4v-11M119.2 194.4h11M1002.3 194.4h-11M119.2 179h5.6M1002.3 179h-5.6M119.2 163.7h5.6M1002.3 163.7h-5.6M119.2 148.3h5.6M1002.3 148.3h-5.6M119.2 133h5.6M1002.3 133h-5.6M119.2 117.6h11M1002.3 117.6h-11M119.2 102.2h5.6M1002.3 102.2h-5.6M119.2 86.9h5.6M1002.3 86.9h-5.6M119.2 71.5h5.6M1002.3 71.5h-5.6M119.2 56.2h5.6M1002.3 56.2h-5.6M119.2 40.8h11M1002.3 40.8h-11" stroke="#000" stroke-width="2.3" fill="none"/>
<rect x="119.2" y="204.2" width="883.1" height="154" fill="none" stroke="#000" stroke-width="2.8"/>
<path d="M119.2 204.2v11M119.2 358.2v-11M141.3 204.2v5.6M141.3 358.2v-5.6M163.4 204.2v5.6M163.4 358.2v-5.6M185.4 204.2v5.6M185.4 358.2v-5.6M207.5 204.2v5.6M207.5 358.2v-5.6M229.6 204.2v11M229.6 358.2v-11M251.7 204.2v5.6M251.7 358.2v-5.6M273.7 204.2v5.6M273.7 358.2v-5.6M295.8 204.2v5.6M295.8 358.2v-5.6M317.9 204.2v5.6M317.9 358.2v-5.6M340 204.2v11M340 358.2v-11M362.1 204.2v5.6M362.1 358.2v-5.6M384.1 204.2v5.6M384.1 358.2v-5.6M406.2 204.2v5.6M406.2 358.2v-5.6M428.3 204.2v5.6M428.3 358.2v-5.6M450.4 204.2v11M450.4 358.2v-11M472.4 204.2v5.6M472.4 358.2v-5.6M494.5 204.2v5.6M494.5 358.2v-5.6M516.6 204.2v5.6M516.6 358.2v-5.6M538.7 204.2v5.6M538.7 358.2v-5.6M560.8 204.2v11M560.8 358.2v-11M582.8 204.2v5.6M582.8 358.2v-5.6M604.9 204.2v5.6M604.9 358.2v-5.6M627 204.2v5.6M627 358.2v-5.6M649.1 204.2v5.6M649.1 358.2v-5.6M671.1 204.2v11M671.1 358.2v-11M693.2 204.2v5.6M693.2 358.2v-5.6M715.3 204.2v5.6M715.3 358.2v-5.6M737.4 204.2v5.6M737.4 358.2v-5.6M759.4 204.2v5.6M759.4 358.2v-5.6M781.5 204.2v11M781.5 358.2v-11M803.6 204.2v5.6M803.6 358.2v-5.6M825.7 204.2v5.6M825.7 358.2v-5.6M847.8 204.2v5.6M847.8 358.2v-5.6M869.8 204.2v5.6M869.8 358.2v-5.6M891.9 204.2v11M891.9 358.2v-11M914 204.2v5.6M914 358.2v-5.6M936.1 204.2v5.6M936.1 358.2v-5.6M958.1 204.2v5.6M958.1 358.2v-5.6M980.2 204.2v5.6M980.2 358.2v-5.6M1002.3 204.2v11M1002.3 358.2v-11M119.2 358.2h11M1002.3 358.2h-11M119.2 338.9h5.6M1002.3 338.9h-5.6M119.2 319.7h5.6M1002.3 319.7h-5.6M119.2 300.4h5.6M1002.3 300.4h-5.6M119.2 281.2h11M1002.3 281.2h-11M119.2 261.9h5.6M1002.3 261.9h-5.6M119.2 242.7h5.6M1002.3 242.7h-5.6M119.2 223.4h5.6M1002.3 223.4h-5.6M119.2 204.2h11M1002.3 204.2h-11" stroke="#000" stroke-width="2.3" fill="none"/>
<rect x="119.2" y="368" width="883.1" height="154" fill="none" stroke="#000" stroke-width="2.8"/>
<path d="M119.2 368v11M119.2 522v-11M141.3 368v5.6M141.3 522v-5.6M163.4 368v5.6M163.4 522v-5.6M185.4 368v5.6M185.4 522v-5.6M207.5 368v5.6M207.5 522v-5.6M229.6 368v11M229.6 522v-11M251.7 368v5.6M251.7 522v-5.6M273.7 368v5.6M273.7 522v-5.6M295.8 368v5.6M295.8 522v-5.6M317.9 368v5.6M317.9 522v-5.6M340 368v11M340 522v-11M362.1 368v5.6M362.1 522v-5.6M384.1 368v5.6M384.1 522v-5.6M406.2 368v5.6M406.2 522v-5.6M428.3 368v5.6M428.3 522v-5.6M450.4 368v11M450.4 522v-11M472.4 368v5.6M472.4 522v-5.6M494.5 368v5.6M494.5 522v-5.6M516.6 368v5.6M516.6 522v-5.6M538.7 368v5.6M538.7 522v-5.6M560.8 368v11M560.8 522v-11M582.8 368v5.6M582.8 522v-5.6M604.9 368v5.6M604.9 522v-5.6M627 368v5.6M627 522v-5.6M649.1 368v5.6M649.1 522v-5.6M671.1 368v11M671.1 522v-11M693.2 368v5.6M693.2 522v-5.6M715.3 368v5.6M715.3 522v-5.6M737.4 368v5.6M737.4 522v-5.6M759.4 368v5.6M759.4 522v-5.6M781.5 368v11M781.5 522v-11M803.6 368v5.6M803.6 522v-5.6M825.7 368v5.6M825.7 522v-5.6M847.8 368v5.6M847.8 522v-5.6M869.8 368v5.6M869.8 522v-5.6M891.9 368v11M891.9 522v-11M914 368v5.6M914 522v-5.6M936.1 368v5.6M936.1 522v-5.6M958.1 368v5.6M958.1 522v-5.6M980.2 368v5.6M980.2 522v-5.6M1002.3 368v11M1002.3 522v-11M119.2 522h11M1002.3 522h-11M119.2 502.8h5.6M1002.3 502.8h-5.6M119.2 483.5h5.6M1002.3 483.5h-5.6M119.2 464.2h5.6M1002.3 464.2h-5.6M119.2 445h11M1002.3 445h-11M119.2 425.8h5.6M1002.3 425.8h-5.6M119.2 406.5h5.6M1002.3 406.5h-5.6M119.2 387.2h5.6M1002.3 387.2h-5.6M119.2 368h11M1002.3 368h-11" stroke="#000" stroke-width="2.3" fill="none"/>
<rect x="119.2" y="531" width="883.1" height="154.5" fill="none" stroke="#000" stroke-width="2.8"/>
<path d="M119.2 531v11M119.2 685.5v-11M141.3 531v5.6M141.3 685.5v-5.6M163.4 531v5.6M163.4 685.5v-5.6M185.4 531v5.6M185.4 685.5v-5.6M207.5 531v5.6M207.5 685.5v-5.6M229.6 531v11M229.6 685.5v-11M251.7 531v5.6M251.7 685.5v-5.6M273.7 531v5.6M273.7 685.5v-5.6M295.8 531v5.6M295.8 685.5v-5.6M317.9 531v5.6M317.9 685.5v-5.6M340 531v11M340 685.5v-11M362.1 531v5.6M362.1 685.5v-5.6M384.1 531v5.6M384.1 685.5v-5.6M406.2 531v5.6M406.2 685.5v-5.6M428.3 531v5.6M428.3 685.5v-5.6M450.4 531v11M450.4 685.5v-11M472.4 531v5.6M472.4 685.5v-5.6M494.5 531v5.6M494.5 685.5v-5.6M516.6 531v5.6M516.6 685.5v-5.6M538.7 531v5.6M538.7 685.5v-5.6M560.8 531v11M560.8 685.5v-11M582.8 531v5.6M582.8 685.5v-5.6M604.9 531v5.6M604.9 685.5v-5.6M627 531v5.6M627 685.5v-5.6M649.1 531v5.6M649.1 685.5v-5.6M671.1 531v11M671.1 685.5v-11M693.2 531v5.6M693.2 685.5v-5.6M715.3 531v5.6M715.3 685.5v-5.6M737.4 531v5.6M737.4 685.5v-5.6M759.4 531v5.6M759.4 685.5v-5.6M781.5 531v11M781.5 685.5v-11M803.6 531v5.6M803.6 685.5v-5.6M825.7 531v5.6M825.7 685.5v-5.6M847.8 531v5.6M847.8 685.5v-5.6M869.8 531v5.6M869.8 685.5v-5.6M891.9 531v11M891.9 685.5v-11M914 531v5.6M914 685.5v-5.6M936.1 531v5.6M936.1 685.5v-5.6M958.1 531v5.6M958.1 685.5v-5.6M980.2 531v5.6M980.2 685.5v-5.6M1002.3 531v11M1002.3 685.5v-11M119.2 685.5h11M1002.3 685.5h-11M119.2 670h5.6M1002.3 670h-5.6M119.2 654.6h5.6M1002.3 654.6h-5.6M119.2 639.1h5.6M1002.3 639.1h-5.6M119.2 623.7h5.6M1002.3 623.7h-5.6M119.2 608.2h11M1002.3 608.2h-11M119.2 592.8h5.6M1002.3 592.8h-5.6M119.2 577.4h5.6M1002.3 577.4h-5.6M119.2 561.9h5.6M1002.3 561.9h-5.6M119.2 546.5h5.6M1002.3 546.5h-5.6M119.2 531h11M1002.3 531h-11" stroke="#000" stroke-width="2.3" fill="none"/>
<rect x="119.2" y="695" width="883.1" height="154.2" fill="none" stroke="#000" stroke-width="2.8"/>
<path d="M119.2 695v11M119.2 849.2v-11M141.3 695v5.6M141.3 849.2v-5.6M163.4 695v5.6M163.4 849.2v-5.6M185.4 695v5.6M185.4 849.2v-5.6M207.5 695v5.6M207.5 849.2v-5.6M229.6 695v11M229.6 849.2v-11M251.7 695v5.6M251.7 849.2v-5.6M273.7 695v5.6M273.7 849.2v-5.6M295.8 695v5.6M295.8 849.2v-5.6M317.9 695v5.6M317.9 849.2v-5.6M340 695v11M340 849.2v-11M362.1 695v5.6M362.1 849.2v-5.6M384.1 695v5.6M384.1 849.2v-5.6M406.2 695v5.6M406.2 849.2v-5.6M428.3 695v5.6M428.3 849.2v-5.6M450.4 695v11M450.4 849.2v-11M472.4 695v5.6M472.4 849.2v-5.6M494.5 695v5.6M494.5 849.2v-5.6M516.6 695v5.6M516.6 849.2v-5.6M538.7 695v5.6M538.7 849.2v-5.6M560.8 695v11M560.8 849.2v-11M582.8 695v5.6M582.8 849.2v-5.6M604.9 695v5.6M604.9 849.2v-5.6M627 695v5.6M627 849.2v-5.6M649.1 695v5.6M649.1 849.2v-5.6M671.1 695v11M671.1 849.2v-11M693.2 695v5.6M693.2 849.2v-5.6M715.3 695v5.6M715.3 849.2v-5.6M737.4 695v5.6M737.4 849.2v-5.6M759.4 695v5.6M759.4 849.2v-5.6M781.5 695v11M781.5 849.2v-11M803.6 695v5.6M803.6 849.2v-5.6M825.7 695v5.6M825.7 849.2v-5.6M847.8 695v5.6M847.8 849.2v-5.6M869.8 695v5.6M869.8 849.2v-5.6M891.9 695v11M891.9 849.2v-11M914 695v5.6M914 849.2v-5.6M936.1 695v5.6M936.1 849.2v-5.6M958.1 695v5.6M958.1 849.2v-5.6M980.2 695v5.6M980.2 849.2v-5.6M1002.3 695v11M1002.3 849.2v-11M119.2 849.2h11M1002.3 849.2h-11M119.2 833.8h5.6M1002.3 833.8h-5.6M119.2 818.4h5.6M1002.3 818.4h-5.6M119.2 802.9h5.6M1002.3 802.9h-5.6M119.2 787.5h5.6M1002.3 787.5h-5.6M119.2 772.1h11M1002.3 772.1h-11M119.2 756.7h5.6M1002.3 756.7h-5.6M119.2 741.3h5.6M1002.3 741.3h-5.6M119.2 725.8h5.6M1002.3 725.8h-5.6M119.2 710.4h5.6M1002.3 710.4h-5.6M119.2 695h11M1002.3 695h-11" stroke="#000" stroke-width="2.3" fill="none"/>
<rect x="119.2" y="857.5" width="883.1" height="153.5" fill="none" stroke="#000" stroke-width="2.8"/>
<path d="M119.2 857.5v11M119.2 1011v-11M141.3 857.5v5.6M141.3 1011v-5.6M163.4 857.5v5.6M163.4 1011v-5.6M185.4 857.5v5.6M185.4 1011v-5.6M207.5 857.5v5.6M207.5 1011v-5.6M229.6 857.5v11M229.6 1011v-11M251.7 857.5v5.6M251.7 1011v-5.6M273.7 857.5v5.6M273.7 1011v-5.6M295.8 857.5v5.6M295.8 1011v-5.6M317.9 857.5v5.6M317.9 1011v-5.6M340 857.5v11M340 1011v-11M362.1 857.5v5.6M362.1 1011v-5.6M384.1 857.5v5.6M384.1 1011v-5.6M406.2 857.5v5.6M406.2 1011v-5.6M428.3 857.5v5.6M428.3 1011v-5.6M450.4 857.5v11M450.4 1011v-11M472.4 857.5v5.6M472.4 1011v-5.6M494.5 857.5v5.6M494.5 1011v-5.6M516.6 857.5v5.6M516.6 1011v-5.6M538.7 857.5v5.6M538.7 1011v-5.6M560.8 857.5v11M560.8 1011v-11M582.8 857.5v5.6M582.8 1011v-5.6M604.9 857.5v5.6M604.9 1011v-5.6M627 857.5v5.6M627 1011v-5.6M649.1 857.5v5.6M649.1 1011v-5.6M671.1 857.5v11M671.1 1011v-11M693.2 857.5v5.6M693.2 1011v-5.6M715.3 857.5v5.6M715.3 1011v-5.6M737.4 857.5v5.6M737.4 1011v-5.6M759.4 857.5v5.6M759.4 1011v-5.6M781.5 857.5v11M781.5 1011v-11M803.6 857.5v5.6M803.6 1011v-5.6M825.7 857.5v5.6M825.7 1011v-5.6M847.8 857.5v5.6M847.8 1011v-5.6M869.8 857.5v5.6M869.8 1011v-5.6M891.9 857.5v11M891.9 1011v-11M914 857.5v5.6M914 1011v-5.6M936.1 857.5v5.6M936.1 1011v-5.6M958.1 857.5v5.6M958.1 1011v-5.6M980.2 857.5v5.6M980.2 1011v-5.6M1002.3 857.5v11M1002.3 1011v-11M119.2 1011h11M1002.3 1011h-11M119.2 995.6h5.6M1002.3 995.6h-5.6M119.2 980.3h5.6M1002.3 980.3h-5.6M119.2 965h5.6M1002.3 965h-5.6M119.2 949.6h5.6M1002.3 949.6h-5.6M119.2 934.2h11M1002.3 934.2h-11M119.2 918.9h5.6M1002.3 918.9h-5.6M119.2 903.5h5.6M1002.3 903.5h-5.6M119.2 888.2h5.6M1002.3 888.2h-5.6M119.2 872.9h5.6M1002.3 872.9h-5.6M119.2 857.5h11M1002.3 857.5h-11" stroke="#000" stroke-width="2.3" fill="none"/>
<rect x="119.2" y="1020.7" width="883.1" height="153.5" fill="none" stroke="#000" stroke-width="2.8"/>
<path d="M119.2 1020.7v11M119.2 1174.2v-11M141.3 1020.7v5.6M141.3 1174.2v-5.6M163.4 1020.7v5.6M163.4 1174.2v-5.6M185.4 1020.7v5.6M185.4 1174.2v-5.6M207.5 1020.7v5.6M207.5 1174.2v-5.6M229.6 1020.7v11M229.6 1174.2v-11M251.7 1020.7v5.6M251.7 1174.2v-5.6M273.7 1020.7v5.6M273.7 1174.2v-5.6M295.8 1020.7v5.6M295.8 1174.2v-5.6M317.9 1020.7v5.6M317.9 1174.2v-5.6M340 1020.7v11M340 1174.2v-11M362.1 1020.7v5.6M362.1 1174.2v-5.6M384.1 1020.7v5.6M384.1 1174.2v-5.6M406.2 1020.7v5.6M406.2 1174.2v-5.6M428.3 1020.7v5.6M428.3 1174.2v-5.6M450.4 1020.7v11M450.4 1174.2v-11M472.4 1020.7v5.6M472.4 1174.2v-5.6M494.5 1020.7v5.6M494.5 1174.2v-5.6M516.6 1020.7v5.6M516.6 1174.2v-5.6M538.7 1020.7v5.6M538.7 1174.2v-5.6M560.8 1020.7v11M560.8 1174.2v-11M582.8 1020.7v5.6M582.8 1174.2v-5.6M604.9 1020.7v5.6M604.9 1174.2v-5.6M627 1020.7v5.6M627 1174.2v-5.6M649.1 1020.7v5.6M649.1 1174.2v-5.6M671.1 1020.7v11M671.1 1174.2v-11M693.2 1020.7v5.6M693.2 1174.2v-5.6M715.3 1020.7v5.6M715.3 1174.2v-5.6M737.4 1020.7v5.6M737.4 1174.2v-5.6M759.4 1020.7v5.6M759.4 1174.2v-5.6M781.5 1020.7v11M781.5 1174.2v-11M803.6 1020.7v5.6M803.6 1174.2v-5.6M825.7 1020.7v5.6M825.7 1174.2v-5.6M847.8 1020.7v5.6M847.8 1174.2v-5.6M869.8 1020.7v5.6M869.8 1174.2v-5.6M891.9 1020.7v11M891.9 1174.2v-11M914 1020.7v5.6M914 1174.2v-5.6M936.1 1020.7v5.6M936.1 1174.2v-5.6M958.1 1020.7v5.6M958.1 1174.2v-5.6M980.2 1020.7v5.6M980.2 1174.2v-5.6M1002.3 1020.7v11M1002.3 1174.2v-11M119.2 1174.2h11M1002.3 1174.2h-11M119.2 1158.9h5.6M1002.3 1158.9h-5.6M119.2 1143.5h5.6M1002.3 1143.5h-5.6M119.2 1128.2h5.6M1002.3 1128.2h-5.6M119.2 1112.8h5.6M1002.3 1112.8h-5.6M119.2 1097.5h11M1002.3 1097.5h-11M119.2 1082.1h5.6M1002.3 1082.1h-5.6M119.2 1066.8h5.6M1002.3 1066.8h-5.6M119.2 1051.4h5.6M1002.3 1051.4h-5.6M119.2 1036h5.6M1002.3 1036h-5.6M119.2 1020.7h11M1002.3 1020.7h-11" stroke="#000" stroke-width="2.3" fill="none"/>
<polyline points="119.2,117.4 120.7,117.5 122.2,117.3 123.7,118 125.2,117.4 126.7,118 128.2,117.9 129.7,117.6 131.2,118.2 132.7,117.7 134.2,118.3 135.7,117.9 137.2,117.1 138.7,116.7 140.2,116.3 141.7,114.6 143.2,114.2 144.7,114.7 146.2,115 147.7,114.6 149.2,114.4 150.7,115.1 152.2,113.9 153.7,114.9 155.2,114.2 156.7,114.1 158.2,114 159.7,114.2 161.2,114.9 162.7,114.1 164.2,114.6 165.7,114.6 167.2,114.3 168.7,114.5 170.2,113.9 171.7,113.9 173.2,114.1 174.7,114.7 176.2,114.4 177.7,114.2 179.2,114.5 180.7,114.4 182.2,114.2 183.7,114.8 185.2,114.7 186.7,114.1 188.2,114.5 189.7,114.5 191.2,114.9 192.7,114.7 194.2,114.2 195.7,115 197.2,114 198.7,114.3 200.2,114.7 201.7,114 203.2,114.4 204.7,113.9 206.2,114.6 207.7,114.7 209.2,114.5 210.7,114.8 212.2,114.2 213.7,114.6 215.2,114.5 216.7,114.5 218.2,114.3 219.7,114.8 221.2,114.9 222.7,114.3 224.2,114.6 225.7,113.8 227.2,114.6 228.7,114.5 230.2,115 231.7,114.8 233.2,114.1 234.7,114.2 236.2,114.6 237.7,113.8 239.2,114.3 240.7,114 242.2,113.9 243.7,113.8 245.2,114.7 246.7,113.9 248.2,114 249.7,114.2 251.2,114.8 252.7,113.8 254.2,114.3 255.7,114.4 257.2,114.8 258.7,114.7 260.2,114.8 261.7,114.1 263.2,114.2 264.7,114.1 266.2,114.8 267.7,114.9 269.2,113.9 270.7,113.9 272.2,114 273.7,114 275.2,114.3 276.7,114.4 278.2,114 279.7,113.7 281.2,114.2 282.7,114.1 284.2,114.4 285.7,114.8 287.2,114.5 288.7,114.3 290.2,114.4 291.7,114.5 293.2,113.7 294.7,114.7 296.2,114.6 297.7,114.7 299.2,114.6 300.7,114.1 302.2,114.1 303.7,113.8 305.2,114.4 306.7,113.7 308.2,113.7 309.7,113.9 311.2,113.8 312.7,114.1 314.2,113.7 315.7,113.6 317.2,113.8 318.7,113.8 320.2,114.1 321.7,113.7 323.2,114.7 324.7,114.4 326.2,113.8 327.7,113.9 329.2,114 330.7,114.1 332.2,113.8 333.7,114.6 335.2,114.8 336.7,114.2 338.2,114.2 339.7,113.7 341.2,113.7 342.7,114 344.2,113.9 345.7,114.6 347.2,113.8 348.7,113.6 350.2,114.7 351.7,114.2 353.2,113.8 354.7,114.2 356.2,113.6 357.7,114.2 359.2,114.7 360.7,114.6 362.2,114.4 363.7,113.9 365.2,114 366.7,113.8 368.2,114.5 369.7,114.2 371.2,114.5 372.7,113.9 374.2,113.8 375.7,114.5 377.2,114.7 378.7,114.6 380.2,114.5 381.7,114.5 383.2,114.4 384.7,113.8 386.2,114.2 387.7,114 389.2,113.6 390.7,113.6 392.2,113.9 393.7,113.8 395.2,114.3 396.7,114.7 398.2,114.1 399.7,114.6 401.2,114.7 402.7,114.7 404.2,113.9 405.7,113.8 407.2,113.8 408.7,113.7 410.2,113.7 411.7,114.2 413.2,114.6 414.7,114.5 416.2,114.1 417.7,114.3 419.2,114.4 420.7,113.6 422.2,114.3 423.7,114.6 425.2,114.4 426.7,114.4 428.2,114 429.7,113.7 431.2,114.4 432.7,113.9 434.2,114.4 435.7,114.6 437.2,113.9 438.7,113.9 440.2,114.6 441.7,114.3 443.2,113.6 444.7,113.6 446.2,113.6 447.7,114.5 449.2,114.4 450.7,113.6 452.2,114.4 453.7,114.6 455.2,114.2 456.7,113.8 458.2,114.1 459.7,113.6 461.2,113.4 462.7,114.6 464.2,114.2 465.7,114 467.2,114.5 468.7,113.9 470.2,114.5 471.7,114.4 473.2,113.7 474.7,113.7 476.2,113.7 477.7,113.7 479.2,114.1 480.7,113.7 482.2,113.9 483.7,113.5 485.2,114.5 486.7,113.8 488.2,113.9 489.7,114.1 491.2,114.5 492.7,113.9 494.2,114.5 495.7,114 497.2,114 498.7,114 500.2,113.4 501.7,113.9 503.2,113.6 504.7,113.4 506.2,114.3 507.7,113.6 509.2,113.9 510.7,114.2 512.2,114 513.7,113.7 515.2,114 516.7,114 518.2,114.3 519.7,113.5 521.2,114 522.7,113.6 524.2,113.7 525.7,114.2 527.2,113.9 528.7,114 530.2,114.2 531.7,114.4 533.2,113.8 534.7,114 536.2,113.9 537.7,113.9 539.2,114.1 540.7,113.8 542.2,113.9 543.7,113.9 545.2,114.4 546.7,114.1 548.2,114.3 549.7,114.4 551.2,113.6 552.7,114 554.2,114.4 555.7,114.3 557.2,113.4 558.7,113.4 560.2,113.8 561.7,113.4 563.2,113.6 564.7,113.3 566.2,114.1 567.7,114.2 569.2,114.3 570.7,113.4 572.2,114.1 573.7,114 575.2,113.4 576.7,114.3 578.2,114.4 579.7,113.5 581.2,114.4 582.7,113.7 584.2,113.8 585.7,114.4 587.2,114.2 588.7,113.4 590.2,113.7 591.7,113.8 593.2,113.6 594.7,113.5 596.2,113.6 597.7,114.1 599.2,113.2 600.7,113.9 602.2,113.7 603.7,113.2 605.2,113.6 606.7,113.9 608.2,113.8 609.7,113.3 611.2,114.4 612.7,114.1 614.2,114.4 615.7,113.3 617.2,113.5 618.7,113.2 620.2,114.1 621.7,113.5 623.2,113.3 624.7,113.7 626.2,114.3 627.7,114.1 629.2,113.5 630.7,113.3 632.2,114.3 633.7,113.8 635.2,114 636.7,113.3 638.2,113.2 639.7,114 641.2,113.7 642.7,113.2 644.2,114.3 645.7,113.9 647.2,114.1 648.7,113.2 650.2,114.2 651.7,113.2 653.2,114.2 654.7,113.7 656.2,113.5 657.7,113.8 659.2,114.2 660.7,113.4 662.2,113.3 663.7,113.7 665.2,113.4 666.7,113.2 668.2,113.3 669.7,113.2 671.2,113.3 672.7,113.5 674.2,113.5 675.7,114 677.2,113.4 678.7,113.7 680.2,113.3 681.7,113.5 683.2,113.1 684.7,113.4 686.2,113.1 687.7,114 689.2,113.7 690.7,113.3 692.2,113.6 693.7,114.2 695.2,113.2 696.7,114 698.2,113.6 699.7,113.7 701.2,114.1 702.7,113.5 704.2,113.7 705.7,113.9 707.2,114.2 708.7,113.5 710.2,114 711.7,113.9 713.2,113.8 714.7,113.5 716.2,113.4 717.7,113.1 719.2,113.2 720.7,113.1 722.2,113.9 723.7,113.3 725.2,113.2 726.7,113.1 728.2,114 729.7,114.1 731.2,113.8 732.7,113.3 734.2,113.3 735.7,113.4 737.2,113.6 738.7,113.2 740.2,113.5 741.7,113.3 743.2,114.1 744.7,114.2 746.2,113.6 747.7,113.3 749.2,114.1 750.7,113.4 752.2,113.4 753.7,113 755.2,113.4 756.7,113.5 758.2,113.6 759.7,113.2 761.2,113.6 762.7,113 764.2,113.3 765.7,113.1 767.2,113.4 768.7,113 770.2,113 771.7,113.3 773.2,113.2 774.7,113.6 776.2,113.6 777.7,113.8 779.2,113.7 780.7,113.8 782.2,114 783.7,113.4 785.2,113.3 786.7,114.1 788.2,113.1 789.7,113.8 791.2,113.7 792.7,113 794.2,113.9 795.7,114 797.2,113.7 798.7,113.8 800.2,113.9 801.7,113.1 803.2,113.5 804.7,113.5 806.2,113.9 807.7,113.9 809.2,113.9 810.7,113.6 812.2,114 813.7,113.7 815.2,113.7 816.7,113.2 818.2,112.9 819.7,113 821.2,113.3 822.7,113 824.2,113.9 825.7,113.5 827.2,113.6 828.7,113.6 830.2,113.7 831.7,113.4 833.2,112.9 834.7,113.8 836.2,113.7 837.7,113.5 839.2,113.5 840.7,113.6 842.2,112.9 843.7,113.7 845.2,113.1 846.7,112.9 848.2,113.2 849.7,113.7 851.2,113.1 852.7,113.7 854.2,114 855.7,113.4 857.2,113.3 858.7,113.4 860.2,113.6 861.7,113.7 863.2,113.6 864.7,113.6 866.2,112.9 867.7,113 869.2,113.1 870.7,113.7 872.2,113.2 873.7,113.5 875.2,112.8 876.7,112.9 878.2,113.1 879.7,113.6 881.2,113.6 882.7,113.6 884.2,113.1 885.7,113.4 887.2,113.3 888.7,113.3 890.2,112.9 891.7,113.8 893.2,113 894.7,113.9 896.2,113.9 897.7,112.8 899.2,113.3 900.7,113.7 902.2,113.9 903.7,113.3 905.2,113.1 906.7,113 908.2,113.9 909.7,113 911.2,113.4 912.7,112.9 914.2,113.4 915.7,113.9 917.2,112.9 918.7,113.7 920.2,113.3 921.7,113.8 923.2,113.6 924.7,113 926.2,113.8 927.7,113.3 929.2,112.7 930.7,112.7 932.2,113.3 933.7,113.2 935.2,113.1 936.7,112.9 938.2,113.1 939.7,113.1 941.2,113.7 942.7,112.7 944.2,113.6 945.7,113.7 947.2,112.8 948.7,113.8 950.2,113.5 951.7,113.8 953.2,113 954.7,113.1 956.2,113.1 957.7,113.9 959.2,113.4 960.7,113.1 962.2,113.2 963.7,113 965.2,112.7 966.7,112.8 968.2,113.7 969.7,113 971.2,113.8 972.7,112.9 974.2,113 975.7,113.3 977.2,112.9 978.7,113.1 980.2,113.8 981.7,113.7 983.2,113.6 984.7,113.4 986.2,113.7 987.7,113.8 989.2,113.3 990.7,113.5 992.2,112.7 993.7,113.5 995.2,113.2 996.7,113.5 998.2,113.4 999.7,112.9 1001.2,112.7 1002.3,113.7" fill="none" stroke="#0000ff" stroke-width="2.3"/>
<polyline points="119.2,157.4 121.2,157.8 123.2,157.6 125.2,157.6 127.2,158 129.2,158.3 131.2,157.6 133.2,158 135.2,157.6 137.2,157.9 139.2,157.7 141.2,157.5 143.2,157.5 145.2,157.5 147.2,158.2 149.2,157.8 151.2,157.5 153.2,158.2 155.2,158.3 157.2,157.7 159.2,157.4 161.2,157.5 163.2,157.4 165.2,157.6 167.2,157.4 169.2,157.5 171.2,157.6 173.2,157.9 175.2,158.2 177.2,158 179.2,157.7 181.2,157.7 183.2,157.8 185.2,157.7 187.2,157.6 189.2,157.4 191.2,157.6 193.2,158.3 195.2,157.4 197.2,157.8 199.2,157.9 201.2,158.2 203.2,157.5 205.2,157.6 207.2,157.5 209.2,157.7 211.2,157.7 213.2,158.3 215.2,158.1 217.2,158.2 219.2,157.3 221.2,157.3 223.2,158 225.2,158.2 227.2,157.8 229.2,157.9 231.2,157.3 233.2,157.7 235.2,158.2 237.2,158.1 239.2,158.2 241.2,158.3 243.2,157.5 245.2,157.4 247.2,157.5 249.2,157.8 251.2,158 253.2,158.2 255.2,158 257.2,157.9 259.2,158.1 261.2,157.8 263.2,157.9 265.2,157.3 267.2,158.1 269.2,157.5 271.2,158.2 273.2,157.9 275.2,157.6 277.2,157.4 279.2,157.6 281.2,157.9 283.2,158 285.2,157.4 287.2,157.4 289.2,157.8 291.2,157.9 293.2,157.7 295.2,157.5 297.2,157.9 299.2,157.3 301.2,157.6 303.2,157.8 305.2,158.3 307.2,157.9 309.2,158.2 311.2,157.8 313.2,157.5 315.2,157.5 317.2,158.3 319.2,158 321.2,157.6 323.2,157.3 325.2,157.8 327.2,158 329.2,157.7 331.2,157.6 333.2,158 335.2,158.2 337.2,157.5 339.2,157.3 341.2,157.6 343.2,157.7 345.2,158 347.2,157.5 349.2,158.1 351.2,158 353.2,157.8 355.2,157.5 357.2,158.3 359.2,157.6 361.2,158.1 363.2,157.5 365.2,157.5 367.2,158.1 369.2,157.6 371.2,158.3 373.2,157.8 375.2,157.5 377.2,157.5 379.2,157.7 381.2,158 383.2,158.2 385.2,157.4 387.2,157.7 389.2,157.5 391.2,158.3 393.2,157.4 395.2,157.4 397.2,157.4 399.2,157.7 401.2,158.2 403.2,158.2 405.2,158 407.2,158.3 409.2,158.2 411.2,157.6 413.2,157.5 415.2,158.2 417.2,158 419.2,157.3 421.2,158 423.2,157.7 425.2,157.7 427.2,157.6 429.2,157.5 431.2,157.3 433.2,157.6 435.2,157.7 437.2,158.3 439.2,157.4 441.2,158.3 443.2,157.5 445.2,157.7 447.2,158.1 449.2,158.1 451.2,157.7 453.2,157.3 455.2,157.8 457.2,157.7 459.2,158.2 461.2,157.5 463.2,157.7 465.2,158.2 467.2,157.3 469.2,157.7 471.2,158.1 473.2,158.1 475.2,157.3 477.2,157.3 479.2,157.4 481.2,158.2 483.2,157.6 485.2,158 487.2,158.2 489.2,157.6 491.2,157.6 493.2,158.3 495.2,157.9 497.2,157.6 499.2,158 501.2,157.6 503.2,157.6 505.2,157.3 507.2,158.1 509.2,158.2 511.2,157.9 513.2,158.2 515.2,157.3 517.2,157.5 519.2,157.8 521.2,158.3 523.2,158.3 525.2,157.7 527.2,157.6 529.2,157.7 531.2,157.8 533.2,158.2 535.2,157.5 537.2,158.1 539.2,158 541.2,158.1 543.2,158.1 545.2,157.9 547.2,157.6 549.2,157.6 551.2,157.7 553.2,158.1 555.2,157.4 557.2,157.5 559.2,158.1 561.2,157.5 563.2,157.4 565.2,157.3 567.2,157.9 569.2,157.6 571.2,158.3 573.2,158.2 575.2,158.3 577.2,157.6 579.2,157.4 581.2,157.4 583.2,157.8 585.2,158 587.2,157.7 589.2,157.5 591.2,157.7 593.2,157.9 595.2,158 597.2,158 599.2,158.1 601.2,158 603.2,157.4 605.2,158.1 607.2,157.6 609.2,157.9 611.2,157.7 613.2,158 615.2,157.5 617.2,157.5 619.2,157.5 621.2,157.5 623.2,158.2 625.2,157.9 627.2,157.6 629.2,157.7 631.2,158.3 633.2,157.8 635.2,157.5 637.2,158.1 639.2,158 641.2,158.3 643.2,157.4 645.2,157.8 647.2,158.1 649.2,158.1 651.2,158.2 653.2,157.3 655.2,157.6 657.2,157.4 659.2,157.5 661.2,158.3 663.2,157.9 665.2,158.2 667.2,157.7 669.2,158.2 671.2,157.7 673.2,157.6 675.2,158.1 677.2,158.2 679.2,157.4 681.2,157.9 683.2,157.9 685.2,157.5 687.2,157.7 689.2,157.4 691.2,157.5 693.2,157.6 695.2,157.9 697.2,158 699.2,157.5 701.2,157.3 703.2,157.6 705.2,158 707.2,157.5 709.2,157.6 711.2,157.5 713.2,158.1 715.2,157.8 717.2,157.4 719.2,157.4 721.2,157.7 723.2,157.9 725.2,157.9 727.2,157.4 729.2,157.5 731.2,158 733.2,157.7 735.2,157.6 737.2,157.6 739.2,158.3 741.2,157.6 743.2,157.9 745.2,157.7 747.2,157.7 749.2,158.2 751.2,158.3 753.2,157.7 755.2,157.5 757.2,158 759.2,157.5 761.2,157.3 763.2,158.2 765.2,157.7 767.2,158.1 769.2,157.7 771.2,158.2 773.2,157.8 775.2,157.5 777.2,157.3 779.2,157.9 781.2,157.9 783.2,158.2 785.2,157.4 787.2,157.9 789.2,157.7 791.2,157.8 793.2,157.4 795.2,157.6 797.2,157.8 799.2,158.2 801.2,157.4 803.2,157.8 805.2,158.1 807.2,158.3 809.2,157.5 811.2,157.4 813.2,158.2 815.2,158.3 817.2,157.8 819.2,157.4 821.2,158.2 823.2,157.7 825.2,158.2 827.2,157.9 829.2,158.1 831.2,157.5 833.2,158.1 835.2,157.5 837.2,157.7 839.2,158.1 841.2,158.1 843.2,157.5 845.2,157.5 847.2,157.7 849.2,157.8 851.2,157.7 853.2,157.4 855.2,157.5 857.2,158 859.2,158.2 861.2,157.3 863.2,157.9 865.2,158.1 867.2,157.3 869.2,158.1 871.2,157.4 873.2,157.9 875.2,157.9 877.2,157.9 879.2,157.6 881.2,157.7 883.2,157.9 885.2,157.7 887.2,158 889.2,157.7 891.2,157.7 893.2,157.3 895.2,157.9 897.2,157.8 899.2,157.5 901.2,158.1 903.2,158.1 905.2,157.8 907.2,157.5 909.2,157.8 911.2,157.4 913.2,157.4 915.2,157.7 917.2,157.4 918.7,157.8 919.2,193.3 1002.3,193.3" fill="none" stroke="#ff0000" stroke-width="2.6"/>
<polyline points="119.2,358.2 224.1,358.2 229.4,298.8 231.4,298.4 233.4,297.7 235.4,297.3 237.4,297.7 239.4,297.1 241.4,296.7 243.4,296.1 245.4,295.8 247.4,295.6 249.4,295.4 251.4,294.6 253.4,294.3 255.4,293.9 257.4,294.3 259.4,293.8 261.4,292.9 263.4,292.5 265.4,292.3 267.4,292.5 269.4,291.5 271.4,291.1 273.4,290.9 275.4,290.6 277.4,290.5 279.4,289.8 281.4,288.9 283.4,289.1 285.4,289.1 287.4,288.2 289.4,287.8 291.4,287.3 293.4,287.7 295.4,286.9 297.4,286.3 299.4,286 301.4,285.7 303.4,285.6 305.4,285.1 307.4,284.3 309.4,283.9 311.4,284.1 313.4,283.7 315.4,283.4 317.4,282.6 319.4,282.7 321.4,282.3 323.4,282.1 325.4,281 327.4,280.8 329.4,280.9 331.4,281.2 333.4,280.4 335.4,278.9 337.4,278.7 339.4,279.6 341.4,279.2 343.4,278.4 345.4,277 347.4,276.9 349.4,277.9 351.4,277.4 353.4,276.5 355.4,275.2 357.4,275.2 359.4,276.1 361.4,275.6 363.4,274.1 365.4,273.4 367.4,273.4 369.4,274.4 371.4,273.7 373.4,272.4 375.4,271.8 377.4,272 379.4,272.6 381.4,271.8 383.4,270.2 385.4,269.5 387.4,270.2 389.4,270.8 391.4,269.8 393.4,268.4 395.4,268.3 397.4,268.6 399.4,268.8 401.4,267.8 403.4,266.2 405.4,266.3 407.4,267.2 409.4,266.8 411.4,265.4 413.4,264.5 415.4,265.2 417.4,265.7 419.4,264.6 421.4,263.4 423.4,263.1 425.4,263.7 427.4,264 429.4,262.3 431.4,261.2 433.4,261.6 435.4,262.5 437.4,261.8 439.4,260.2 441.4,259.7 443.4,260.4 445.4,260.3 447.4,259.3 449.4,258.1 451.4,258.4 453.4,259.2 455.4,258.4 457.4,257.2 459.4,256.5 461.4,257 463.4,257.6 465.4,256 467.4,254.9 469.4,254.8 471.4,255.5 473.4,255.3 475.4,254.3 477.4,252.8 479.4,253.4 481.4,254.2 483.4,253.3 485.4,251.9 487.4,251.3 489.4,251.7 491.4,252.3 493.4,251.7 495.4,250 497.4,249.4 499.4,250 501.4,250.3 503.4,249.9 505.4,248.4 507.4,247.8 509.4,248.1 511.4,248.9 513.4,247.9 515.4,246.3 517.4,246.1 519.4,246.6 521.4,246.8 523.4,245.6 525.4,244.3 527.4,244.1 529.4,244.9 531.4,245.2 533.4,243.9 535.4,242.8 537.4,242.8 539.4,243.3 541.4,243.1 543.4,241.6 545.4,240.9 547.4,241.2 549.4,241.7 551.4,241.1 553.4,239.8 555.4,239 557.4,240 559.4,239.8 561.4,238.6 563.4,237.4 565.4,237.8 567.4,238.7 569.4,238.1 571.4,236.3 573.4,236 575.4,236.4 577.4,236.6 579.4,235.8 581.4,234.3 583.4,234.5 585.4,235.2 587.4,235 589.4,233.2 591.4,232.7 593.4,233.2 595.4,233.7 597.4,232.5 599.4,231.2 601.4,231 603.4,231.6 605.4,231.5 607.4,230.3 609.4,229 611.4,229.7 613.4,230 615.4,229.3 617.4,227.9 619.4,227.7 621.4,228 623.4,228.3 625.4,227.3 627.4,225.9 629.4,225.9 631.4,226.5 633.4,226.7 635.4,225.6 637.4,224 639.4,224.1 641.4,224.7 643.4,225 645.4,223.7 647.4,222.5 649.4,222.1 651.4,223.2 653.4,223.2 655.4,221.9 657.4,220.3 659.4,220.5 661.4,221.1 663.4,220.8 665.4,219.9 667.4,218.8 669,218.9 669,219.3 781.1,219.3 787,358.2 1002.3,358.2" fill="none" stroke="#0000ff" stroke-width="3" stroke-linejoin="round"/>
<path d="M228.8 499.7C231.4 499.8 233.2 501.6 237.6 500.2C242 498.8 239.9 495.6 243.4 495C246.9 494.4 245.8 497.9 249.3 498.3C252.8 498.7 251.3 496.1 255.1 496.3C258.9 496.5 257.6 495.1 262 498.9C266.4 502.7 265.4 507.4 269.8 509C274.2 510.5 273.1 505.4 276.6 504.1C280.1 502.8 278.9 506.1 281.5 504.7C284.1 503.3 282.8 499.9 285.4 499.3C288 498.7 286.4 503.2 290.2 502.8C294 502.4 293.9 498.4 298 497.9C302.1 497.4 300.4 501.4 303.9 501.2C307.4 501 306.6 499.3 309.8 497.3C313 495.3 312 493.8 314.6 494.4C317.2 495 316.2 498.9 318.5 499.3C320.8 499.7 318.6 494.3 322.4 495.8C326.2 497.5 326.5 503.8 331.2 505.1C335.9 506.4 334.5 500.2 338 500.2C341.5 500.2 338.5 503.5 342.9 505.1C347.3 506.7 348 504.9 352.7 505.5C357.4 506.1 355.3 504 358.5 507.1C361.7 510.4 360.5 516.1 363.4 516.4C366.3 516.7 365.1 509.7 368.3 508C371.5 506.5 370 512.1 374.1 510.6C378.2 507.9 378.5 499.4 382 498.9C385.5 498.4 383 508.4 385.9 509C388.8 509.6 388.5 500.6 391.7 500.8C394.9 501 394 509.6 396.6 509.6C399.2 509.6 396.7 503.6 400.5 500.8C404.3 498.7 404.4 499.5 409.3 500.2C414.2 500.9 413.1 501.5 416.7 503.2C420.3 504.9 418.2 507.4 421.2 505.9C424.2 504.3 423.8 497 426.8 498C429.8 499 428.3 509.1 431.3 509.3C434.3 509.5 433.9 500.1 436.9 498.7C439.9 497.3 438 504.8 441.4 504.8C444.8 504.8 444.1 499.7 448.1 498.7C452.2 497.7 451.9 499.9 454.9 501.4C457.9 502.9 455.5 504.9 458.2 503.7C460.9 502.5 460.8 496.7 463.8 497.4C466.8 498.1 465.6 505 468.3 505.9C471 506.8 470.1 500 472.8 500.3C475.5 500.6 473.9 505.6 477.3 507C480.7 508.4 479.3 505.1 484 504.8C488.7 504.5 487.9 506.4 493 505.9C498.1 505.4 497.2 501.8 500.9 503.2C504.6 504.6 501.7 509.6 505.4 510.4C509.1 511.2 509.5 507.1 513.2 505.9C516.9 504.7 514.7 507 517.7 506.3C520.7 505.6 520.6 502.5 523.3 503.7C526 504.9 524.3 508.1 526.7 510.4C529.1 512.7 527.5 511.6 531.2 511.5C534.9 511.4 534.6 512.9 539 509.9C543.4 506.9 542 499.9 545.7 501.4C549.4 502.9 547.6 510.5 551.3 514.9C555 517.5 554.7 517.5 558.1 516C561.5 513.2 559.9 506.2 562.6 505.5C565.3 504.8 563.7 513 567.1 513.8C570.5 514.6 569.8 508.1 573.8 508.1C577.8 508.1 576.5 511.1 580.5 513.8C584.5 516.5 583.8 516.8 587.2 517.1C590.6 517.4 589 513.9 591.7 514.9C594.4 515.9 592.8 519.5 596.2 520.5C599.6 521.5 599.6 518.2 603 518.2C606.4 518.2 604 520.7 607.4 520.5C610.8 520.3 610.5 517.4 614.2 517.6C617.9 517.8 616.6 521.5 619.8 521.2C623 520.9 622.2 519.6 624.9 516.6C627.6 513.6 625.6 514.3 628.8 511.1C632 507.9 632.7 509.2 635.6 505.9C638.5 502.6 636.7 505.3 638.5 500C640.3 494.7 639.7 494.2 641.5 488.3C643.3 482.4 642.7 483.4 644.4 480.5C646.1 477.6 645 482 647.3 478.5C649.6 474.1 649.9 473.2 652.2 465.9C654.5 458.6 653.4 462 655.1 454.1C656.8 446.2 656.2 444.4 658 439.5C659.8 436.1 659.2 437.9 661 437.6C662.8 437.3 662.2 439.1 663.9 438.5C665.6 437.9 665 438.5 666.8 435.6C668.6 432.7 667.7 432.3 669.8 428.8C671.9 425.3 671.4 427.1 673.7 423.9C676 420.7 675.9 418.9 677.6 418C679.3 417.1 678.1 418.1 679.5 421C680.9 423.9 680.6 426.1 682.4 427.8C684.2 429.3 683.6 428.5 685.4 426.8C687.2 425.1 686 422.9 688.3 422C690.6 421.1 690.3 421.6 693.2 423.9C696.1 426.2 695.1 430 698 429.8C700.9 429.6 700 424.8 702.9 423.3C705.8 421.8 704.9 424.3 707.8 424.9C710.7 425.5 710.4 424.4 712.7 425.3C715 426.2 713.6 429.3 715.6 427.8C717.6 425.6 717.5 420.3 719.5 418C721.5 416.5 720.6 418.1 722.4 420C724.2 421.9 723.3 424.8 725.4 424.5C727.5 424.2 727.3 420.9 729.3 419C731.3 417.1 730.5 416.8 732.2 418C733.9 419.2 733.1 422.6 735.1 422.9C737.1 423.2 736.7 421.5 739 419C741.3 416.5 740.6 415 742.9 414.7C745.2 414.4 744.5 418.8 746.8 418C749.1 417.2 748.4 414.2 750.7 412.2C753 410.2 752.3 411.5 754.6 411.2C756.9 410.9 756.2 410.9 758.5 411.2C760.8 411.5 760.1 411.5 762.4 412.2C764.7 412.9 764 415.1 766.3 413.6C768.6 411.8 767.3 406.3 770.2 406.3C773.1 406.3 773.5 413.6 776.1 413.6C778.7 413.6 777 410.1 779 406.3C781 402.6 780.8 401.7 782.9 401.1C785 400.5 784.4 399.6 785.9 404.4C787.4 423.2 786.6 443.7 787.8 463.9C789 473.2 788.6 463.8 789.8 471.7C791 479.6 789.7 486.7 791.7 490.2C793.7 491.7 794 484.4 796.6 483.4C799.2 482.4 798.2 487.5 800.5 486.9C802.8 486.3 803.2 483.1 804.4 481.5" fill="none" stroke="#0000ff" stroke-width="3" stroke-linejoin="round"/>
<polyline points="119.5,609.9 119.8,603.5 120.2,612.1 120.5,610.7 120.8,606.8 121.1,607.7 121.4,606.7 121.8,604.2 122.1,600.9 122.4,615 122.7,605.8 123,607.2 123.4,602.6 123.7,605.4 124,606.7 124.3,611.1 124.6,607.7 125,606.7 125.3,605.9 125.6,602.3 125.9,612 126.2,607.3 126.6,611.6 126.9,601.6 127.2,613.9 127.5,606.7 127.8,607.5 128.2,608.5 128.5,615.5 128.8,606.3 129.1,607.5 129.4,607.1 129.8,607.7 130.1,609.2 130.4,611.5 130.7,609.4 131,609.3 131.4,609.6 131.7,612.6 132,607.5 132.3,605.3 132.6,611.4 133,607.9 133.3,614.4 133.6,609.7 133.9,615.8 134.2,608.8 134.6,603.3 134.9,608.8 135.2,612.2 135.5,617.2 135.8,607.1 136.2,610.7 136.5,611.8 136.8,609.2 137.1,612.4 137.4,608.5 137.8,618.3 138.1,605 138.4,609.5 138.7,606.8 139,607.3 139.4,605.4 139.7,611 140,609.8 140.3,614.2 140.6,606.9 141,602.7 141.3,606 141.6,609.5 141.9,603.5 142.2,611.3 142.6,608.4 142.9,611.8 143.2,604.1 143.5,610.8 143.8,604.9 144.2,603.3 144.5,608.9 144.8,607.8 145.1,609.4 145.4,600.8 145.8,604.1 146.1,605.8 146.4,603.7 146.7,602.8 147,609.7 147.4,606.8 147.7,607.6 148,605.8 148.3,609.9 148.6,619.4 149,603.9 149.3,603.8 149.6,606.2 149.9,610.5 150.2,614.3 150.6,607 150.9,608.4 151.2,606.8 151.5,604 151.8,603.2 152.2,604.2 152.5,601.9 152.8,612.9 153.1,607.2 153.4,601.7 153.8,608.5 154.1,603.8 154.4,600.4 154.7,609.5 155,601.9 155.4,605.9 155.7,611 156,609.1 156.3,606.5 156.6,611.3 157,609.8 157.3,604.7 157.6,607.2 157.9,608.1 158.2,609.1 158.6,602.2 158.9,604.9 159.2,608.5 159.5,605.8 159.8,604.2 160.2,604.9 160.5,611.5 160.8,605.8 161.1,606 161.4,608.4 161.8,607.6 162.1,607 162.4,610.2 162.7,605.2 163,612.8 163.4,605.8 163.7,604.3 164,605.6 164.3,607.5 164.6,605.2 165,601.9 165.3,615.6 165.6,599.4 165.9,612.7 166.2,604.6 166.6,616.2 166.9,609.9 167.2,608.8 167.5,605.9 167.8,615 168.2,603.9 168.5,608.6 168.8,605.9 169.1,611.6 169.4,611.3 169.8,606.8 170.1,602.8 170.4,609.5 170.7,608.5 171,612.4 171.4,606.1 171.7,605.7 172,613.2 172.3,607.4 172.6,612.3 173,610.2 173.3,607 173.6,605.3 173.9,606.8 174.2,607.1 174.6,609.3 174.9,608.2 175.2,610.4 175.5,608.8 175.8,611.4 176.2,603.3 176.5,612.8 176.8,605.1 177.1,609.2 177.4,613.5 177.8,605.4 178.1,604.2 178.4,611.8 178.7,610.5 179,617.8 179.4,608.3 179.7,609 180,608.3 180.3,613.1 180.6,611.7 181,609.4 181.3,609.9 181.6,611.1 181.9,607.7 182.2,608.8 182.6,613.6 182.9,612.1 183.2,607.7 183.5,612.5 183.8,613.4 184.2,604 184.5,608.8 184.8,609.5 185.1,608.8 185.4,606.7 185.8,604.1 186.1,601.6 186.4,603.3 186.7,604.8 187,615 187.4,612.2 187.7,614.8 188,610.8 188.3,612.7 188.6,605.1 189,608.3 189.3,606.6 189.6,611.9 189.9,602 190.2,599.8 190.6,606.1 190.9,610.6 191.2,605.5 191.5,603.2 191.8,607.3 192.2,607.5 192.5,602.2 192.8,604.3 193.1,610.5 193.4,602.4 193.8,606.7 194.1,614.1 194.4,610.5 194.7,606.4 195,608.7 195.4,606.1 195.7,608.8 196,613 196.3,609.3 196.6,611.2 197,607.5 197.3,609.4 197.6,609.6 197.9,613.6 198.2,605.7 198.6,609.1 198.9,610.4 199.2,611.8 199.5,606.8 199.8,608.7 200.2,617.1 200.5,613.3 200.8,606.3 201.1,606 201.4,601.8 201.8,613.6 202.1,606.3 202.4,608.5 202.7,610 203,611.7 203.4,608.8 203.7,608.9 204,600 204.3,609.7 204.6,602.7 205,611.6 205.3,606.7 205.6,607.4 205.9,608.9 206.2,613.2 206.6,607.2 206.9,605.8 207.2,615.5 207.5,606.1 207.8,608.1 208.2,611.1 208.5,608.4 208.8,606.9 209.1,601.8 209.4,600.6 209.8,607.7 210.1,600.4 210.4,602.7 210.7,604.3 211,607.2 211.4,609 211.7,607.5 212,598.8 212.3,610.9 212.6,612.7 213,603.8 213.3,611.6 213.6,600.5 213.9,606.5 214.2,609.8 214.6,604.9 214.9,608.6 215.2,609.7 215.5,612.8 215.8,614.2 216.2,610.5 216.5,611.4 216.8,611.3 217.1,612.9 217.4,616.6 217.8,615.8 218.1,608.8 218.4,608.1 218.7,610 219,612.4 219.4,617.2 219.7,610.2 220,611.2 220.3,609.6 220.6,610.9 221,610.2 221.3,610.3 221.6,610.3 221.9,611.4 222.2,613.2 222.6,608.2 222.9,608.9 223.2,609 223.5,607.3 223.8,606.3 224.2,606.7 224.5,605 224.8,605.5 225.1,609 225.4,609.7 225.8,608.2 226.1,607.1 226.4,611.7 226.7,615.5 227,606.6 227.4,605.6 227.7,612.6 228,608.7 228.3,602.7 228.6,613.4 229,605.8 229.3,609.3 229.6,608.5 229.9,600.8 230.2,606.9 230.6,608.9 230.9,613.3 231.2,608.4 231.5,611.4 231.8,610 232.2,601.5 232.5,604.9 232.8,605.4 233.1,605.2 233.4,607.2 233.8,609.4 234.1,604 234.4,609.4 234.7,613.5 235,613.4 235.4,609.5 235.7,613.8 236,609.7 236.3,609 236.6,605.6 237,606.9 237.3,612.5 237.6,610.7 237.9,608.4 238.2,603.6 238.6,608.5 238.9,613 239.2,613.1 239.5,614.1 239.8,609.9 240.2,609.8 240.5,609.3 240.8,612.2 241.1,607.4 241.4,611.9 241.8,617.3 242.1,613 242.4,613.3 242.7,606.8 243,606.1 243.4,605.9 243.7,610.5 244,610.5 244.3,612.4 244.6,612 245,616.9 245.3,608 245.6,603.4 245.9,605.6 246.2,615.2 246.6,604.7 246.9,609 247.2,604 247.5,608.5 247.8,607.1 248.2,604.5 248.5,614.2 248.8,609.3 249.1,608.2 249.4,601.8 249.8,606.3 250.1,612.9 250.4,615.5 250.7,607.7 251,615.1 251.4,612.5 251.7,608.8 252,606 252.3,604.8 252.6,608.4 253,604 253.3,611.1 253.6,606.5 253.9,609.2 254.2,612.1 254.6,613.1 254.9,611.3 255.2,607.1 255.5,612.2 255.8,606.2 256.2,608.3 256.5,609.9 256.8,609.7 257.1,609 257.4,605.2 257.8,610.4 258.1,603.3 258.4,604.9 258.7,610.5 259,612.8 259.4,607.5 259.7,606 260,611.2 260.3,605.6 260.6,609 261,611.7 261.3,606.4 261.6,614.2 261.9,617.6 262.2,600.3 262.6,607.5 262.9,611.4 263.2,607.4 263.5,605 263.8,609.4 264.2,612.2 264.5,605.9 264.8,605.2 265.1,609.9 265.4,613.8 265.8,601.8 266.1,600.6 266.4,600.7 266.7,608.5 267,605.9 267.4,609.6 267.7,604.3 268,605.6 268.3,602.2 268.6,606.3 269,608.9 269.3,605.9 269.6,608.1 269.9,605.7 270.2,606.4 270.6,611.5 270.9,609.2 271.2,608.3 271.5,608.2 271.8,604.3 272.2,606 272.5,606.2 272.8,607.8 273.1,613 273.4,608.7 273.8,611.9 274.1,613.5 274.4,610.9 274.7,612.5 275,615.5 275.4,608 275.7,609.1 276,610.1 276.3,610.4 276.6,609 277,611.7 277.3,609.8 277.6,610.6 277.9,609.9 278.2,612 278.6,616.3 278.9,603.1 279.2,604.8 279.5,610 279.8,613.2 280.2,607.5 280.5,616.3 280.8,610.1 281.1,612.1 281.4,612.8 281.8,609.7 282.1,607 282.4,609.5 282.7,614.6 283,614.6 283.4,611.2 283.7,601.1 284,613.2 284.3,614.6 284.6,611.2 285,608.8 285.3,610.9 285.6,608.4 285.9,604.3 286.2,616 286.6,607.8 286.9,610.1 287.2,609.4 287.5,607.6 287.8,608.4 288.2,611.8 288.5,611.1 288.8,608.7 289.1,609.1 289.4,615.3 289.8,607.1 290.1,608.4 290.4,612.3 290.7,615.2 291,612.6 291.4,611.9 291.7,608.7 292,610.2 292.3,612.6 292.6,612.5 293,613.5 293.3,605.5 293.6,619.3 293.9,616 294.2,610 294.6,605.6 294.9,613.5 295.2,612.8 295.5,608.8 295.8,608 296.2,606.6 296.5,610.7 296.8,606.2 297.1,605.9 297.4,606.9 297.8,604.9 298.1,607.3 298.4,607.4 298.7,607.1 299,608.3 299.4,609.7 299.7,608 300,609.2 300.3,614.4 300.6,606.3 301,604.4 301.3,607.3 301.6,609.1 301.9,612.3 302.2,605.7 302.6,605.5 302.9,605.5 303.2,604.7 303.5,610.1 303.8,608.6 304.2,607.6 304.5,608.5 304.8,613.1 305.1,606.7 305.4,608.5 305.8,607.5 306.1,610.6 306.4,608.3 306.7,605 307,606.3 307.4,609.6 307.7,607.9 308,616.7 308.3,607.1 308.6,615.5 309,612.7 309.3,614.6 309.6,610.9 309.9,604.1 310.2,608.8 310.6,611.9 310.9,611.8 311.2,614.9 311.5,608.3 311.8,613.2 312.2,610.2 312.5,609.9 312.8,614 313.1,612 313.4,612.2 313.8,611.5 314.1,608.5 314.4,608.6 314.7,603.2 315,602.8 315.4,622.4 315.7,609.9 316,609.8 316.3,612.1 316.6,610.5 317,612.6 317.3,606.5 317.6,609.3 317.9,604.5 318.2,610.4 318.6,607.4 318.9,608.3 319.2,609.5 319.5,602.7 319.8,603.5 320.2,607.6 320.5,606.4 320.8,607 321.1,600.8 321.4,611 321.8,606.1 322.1,616.1 322.4,609.4 322.7,609 323,609.1 323.4,609 323.7,619.9 324,606 324.3,605.5 324.6,608.4 325,608.3 325.3,608.4 325.6,615.1 325.9,612.9 326.2,607.8 326.6,606.6 326.9,609.2 327.2,608.8 327.5,606 327.8,605.5 328.2,609.6 328.5,608.5 328.8,613.1 329.1,609.1 329.4,609.9 329.8,612.4 330.1,609.9 330.4,607.4 330.7,611.5 331,614 331.4,605.4 331.7,610.3 332,612.7 332.3,606.6 332.6,609.3 333,606.9 333.3,612.7 333.6,601.5 333.9,604.5 334.2,607.7 334.6,610 334.9,607.4 335.2,604.5 335.5,610.9 335.8,612.5 336.2,608.8 336.5,608.7 336.8,608.6 337.1,609.5 337.4,607.1 337.8,605.4 338.1,609.8 338.4,607.3 338.7,606.9 339,603.4 339.4,607.2 339.7,608.8 340,604.8 340.3,607 340.6,607.3 341,615.8 341.3,602.1 341.6,608.1 341.9,610.2 342.2,605.4 342.6,603 342.9,614.3 343.2,608.7 343.5,615.9 343.8,610.7 344.2,615.3 344.5,610.5 344.8,606.6 345.1,606 345.4,608.3 345.8,606.3 346.1,606.7 346.4,609.5 346.7,613.1 347,613.4 347.4,609.7 347.7,607.2 348,609 348.3,613 348.6,610.3 349,617 349.3,610 349.6,608.5 349.9,613.4 350.2,610.1 350.6,613.6 350.9,614.2 351.2,612.1 351.5,611.4 351.8,614.9 352.2,613.5 352.5,610.6 352.8,608.3 353.1,608.3 353.4,612.5 353.8,613.5 354.1,606 354.4,606.5 354.7,603.6 355,614.3 355.4,605.8 355.7,611.3 356,616 356.3,604.7 356.6,612.6 357,612.3 357.3,613.1 357.6,604.3 357.9,601.8 358.2,612.7 358.6,606.7 358.9,601.6 359.2,610.3 359.5,614 359.8,605.4 360.2,611.6 360.5,605.8 360.8,608.2 361.1,608.8 361.4,610.2 361.8,606.3 362.1,608 362.4,609 362.7,613.3 363,610.5 363.4,610.4 363.7,623.1 364,608.3 364.3,610.5 364.6,603.4 365,610.3 365.3,606.6 365.6,608 365.9,603 366.2,607.6 366.6,614.4 366.9,608 367.2,611.6 367.5,608.9 367.8,608.9 368.2,608.4 368.5,612.4 368.8,610.5 369.1,603.7 369.4,605.1 369.8,604.7 370.1,612 370.4,607.8 370.7,601.6 371,610.9 371.4,606.8 371.7,615.7 372,606.7 372.3,609.2 372.6,607.1 373,614.4 373.3,606.4 373.6,605.3 373.9,606.9 374.2,603.3 374.6,604.2 374.9,611.1 375.2,603.1 375.5,606.8 375.8,604.2 376.2,613.8 376.5,604.1 376.8,608 377.1,620.9 377.4,606.5 377.8,609.9 378.1,604.6 378.4,600.4 378.7,605.9 379,609.1 379.4,606.5 379.7,606.1 380,606.6 380.3,607.5 380.6,607.8 381,613.9 381.3,606.7 381.6,611.9 381.9,606.8 382.2,604.6 382.6,610.4 382.9,607.3 383.2,610.1 383.5,602.5 383.8,601.4 384.2,609 384.5,611 384.8,611.3 385.1,609.3 385.4,605.7 385.8,606.3 386.1,605.7 386.4,613 386.7,606.9 387,611.4 387.4,609.9 387.7,608.1 388,604.8 388.3,611.3 388.6,610.5 389,609.7 389.3,610 389.6,607.3 389.9,607 390.2,614.6 390.6,603.2 390.9,615.5 391.2,603.2 391.5,610.1 391.8,609.7 392.2,610.6 392.5,611.3 392.8,610 393.1,613.2 393.4,609.7 393.8,613.2 394.1,610.2 394.4,607.6 394.7,608.8 395,611.5 395.4,612.5 395.7,603.5 396,603.1 396.3,609.9 396.6,616.1 397,609.5 397.3,609.2 397.6,609.1 397.9,605 398.2,607.8 398.6,605.3 398.9,610.6 399.2,606.3 399.5,609.7 399.8,611.7 400.2,603.8 400.5,615.9 400.8,612.3 401.1,609.2 401.4,607.4 401.8,613.4 402.1,605.7 402.4,610.1 402.7,605.7 403,609.2 403.4,607.9 403.7,608.4 404,609.6 404.3,610.4 404.6,611.5 405,610.5 405.3,603.7 405.6,603.1 405.9,612.4 406.2,606.4 406.6,604.2 406.9,604.5 407.2,606.9 407.5,606.4 407.8,610.8 408.2,607.1 408.5,599.5 408.8,605.1 409.1,607.3 409.4,607.2 409.8,608.2 410.1,609.8 410.4,608.7 410.7,607 411,610.4 411.4,604.1 411.7,603.6 412,609.9 412.3,604.4 412.6,606 413,610.2 413.3,605.2 413.6,612 413.9,606.3 414.2,612.5 414.6,614.9 414.9,608.9 415.2,609.4 415.5,611.2 415.8,606.3 416.2,609.6 416.5,614.6 416.8,611 417.1,612.1 417.4,607.4 417.8,606.7 418.1,611.7 418.4,607.6 418.7,605.4 419,608.3 419.4,606.2 419.7,611.6 420,611.3 420.3,610.7 420.6,610.3 421,614 421.3,610.8 421.6,613.7 421.9,610.5 422.2,614.7 422.6,608.4 422.9,619.5 423.2,611.6 423.5,604.4 423.8,611.1 424.2,611.5 424.5,604.4 424.8,605 425.1,609.9 425.4,608.9 425.8,609 426.1,604.4 426.4,603 426.7,605.3 427,610.4 427.4,607.3 427.7,607 428,607.9 428.3,606.8 428.6,608.4 429,610 429.3,603.6 429.6,611.1 429.9,611.1 430.2,614.4 430.6,613 430.9,598.3 431.2,606.7 431.5,604.7 431.8,610.2 432.2,607.9 432.5,610.8 432.8,610.6 433.1,605.7 433.4,612.4 433.8,609.3 434.1,608.4 434.4,616.3 434.7,611.9 435,607.8 435.4,608.9 435.7,612.8 436,608.7 436.3,613.1 436.6,616.2 437,608.9 437.3,614.7 437.6,611.2 437.9,611.5 438.2,612.7 438.6,610.3 438.9,607.2 439.2,606 439.5,614.9 439.8,609.6 440.2,609.7 440.5,611.2 440.8,608.6 441.1,606.2 441.4,608.9 441.8,601.1 442.1,594.3 442.4,607.1 442.7,610.6 443,608.6 443.4,607.5 443.7,605.4 444,611.3 444.3,609.2 444.6,608.4 445,599.1 445.3,606.2 445.6,604.1 445.9,606.6 446.2,602 446.6,607.7 446.9,607.6 447.2,606.6 447.5,610 447.8,609.1 448.2,609.9 448.5,607.9 448.8,612.2 449.1,610.6 449.4,607.3 449.8,612.7 450.1,605.5 450.4,609.8 450.7,609.5 451,608.1 451.4,606.7 451.7,612 452,614.7 452.3,608.1 452.6,608.2 453,608.3 453.3,607.6 453.6,603.6 453.9,609.2 454.2,609 454.6,611.2 454.9,611.3 455.2,612.5 455.5,608.3 455.8,609 456.2,610.4 456.5,609.4 456.8,608.3 457.1,610.1 457.4,612.4 457.8,617.3 458.1,610.5 458.4,610.4 458.7,607.4 459,609.8 459.4,616.4 459.7,612.8 460,606.1 460.3,612.7 460.6,611.4 461,606.4 461.3,609.7 461.6,615 461.9,604.2 462.2,611 462.6,606.2 462.9,612.8 463.2,609.6 463.5,605.1 463.8,614.7 464.2,611.8 464.5,610.7 464.8,607.3 465.1,612.3 465.4,606.1 465.8,613.7 466.1,610.5 466.4,609.3 466.7,605.8 467,609.4 467.4,613.5 467.7,611.5 468,606.5 468.3,602 468.6,603.5 469,606 469.3,609.7 469.6,611 469.9,615.6 470.2,607.4 470.6,613.1 470.9,608.5 471.2,606.3 471.5,608.8 471.8,605.9 472.2,606.2 472.5,609.5 472.8,610.3 473.1,605.6 473.4,600.6 473.8,607.1 474.1,601.9 474.4,610.9 474.7,603 475,605.5 475.4,612.8 475.7,606.9 476,611 476.3,611.5 476.6,604.4 477,607.1 477.3,605.6 477.6,612.2 477.9,607.7 478.2,606.2 478.6,607.1 478.9,606.7 479.2,609.7 479.5,609.5 479.8,609.9 480.2,611 480.5,606.9 480.8,607.4 481.1,610.2 481.4,614.2 481.8,609.4 482.1,611.3 482.4,620.6 482.7,613.1 483,606 483.4,604.6 483.7,606.6 484,605.1 484.3,610.3 484.6,602.4 485,600.9 485.3,607 485.6,609.1 485.9,610.3 486.2,601.4 486.6,613.7 486.9,605 487.2,615 487.5,606.6 487.8,608.7 488.2,601.7 488.5,613.8 488.8,611.3 489.1,606.3 489.4,608.9 489.8,605.6 490.1,604.3 490.4,609.3 490.7,608.1 491,611.8 491.4,607.6 491.7,613.3 492,614.8 492.3,610.5 492.6,611.4 493,608.1 493.3,603.9 493.6,607.5 493.9,609.8 494.2,607.8 494.6,614 494.9,608.5 495.2,603.4 495.5,614.4 495.8,605 496.2,613.4 496.5,612.6 496.8,606.9 497.1,611.3 497.4,608.9 497.8,606.7 498.1,612.1 498.4,607.1 498.7,608.5 499,613.4 499.4,605.4 499.7,607.6 500,605.4 500.3,614.6 500.6,607.1 501,611.6 501.3,609.1 501.6,608.3 501.9,608.6 502.2,611.5 502.6,607.9 502.9,614.4 503.2,613 503.5,606.9 503.8,614.1 504.2,610 504.5,610.3 504.8,609.8 505.1,611 505.4,610.2 505.8,608.9 506.1,610.4 506.4,614.2 506.7,607.4 507,608.4 507.4,612.5 507.7,602.5 508,605.6 508.3,608.8 508.6,608.1 509,604.4 509.3,606.6 509.6,607.2 509.9,611.2 510.2,601.3 510.6,611.5 510.9,609.7 511.2,605.8 511.5,603.1 511.8,609 512.2,610.8 512.5,607.2 512.8,603.6 513.1,606.8 513.4,605.3 513.8,604.7 514.1,600.3 514.4,611.9 514.7,604.8 515,607.5 515.4,607.8 515.7,605.6 516,605.5 516.3,600.6 516.6,600.5 517,609 517.3,610.4 517.6,606.3 517.9,608.3 518.2,608.6 518.6,604.5 518.9,609.3 519.2,604.8 519.5,611.8 519.8,611.4 520.2,608.8 520.5,609.7 520.8,616.1 521.1,606.2 521.4,604.9 521.8,613.6 522.1,612 522.4,610 522.7,616.1 523,610.4 523.4,616.8 523.7,612 524,608.2 524.3,614.4 524.6,608.9 525,608.6 525.3,609.1 525.6,611.3 525.9,611.3 526.2,613.6 526.6,609.1 526.9,606.6 527.2,613.4 527.5,611 527.8,609.1 528.2,607.1 528.5,607.6 528.8,609.5 529.1,611.3 529.4,609.8 529.8,604.2 530.1,612.2 530.4,608.3 530.7,607.3 531,608.4 531.4,607.1 531.7,609.9 532,606.7 532.3,602.8 532.6,601.8 533,612.9 533.3,608 533.6,606.8 533.9,605.2 534.2,605.7 534.6,607.2 534.9,607.6 535.2,607.3 535.5,609.2 535.8,604.1 536.2,608.1 536.5,606.5 536.8,602.6 537.1,611.3 537.4,609.6 537.8,605 538.1,609.5 538.4,612.1 538.7,605.9 539,608.2 539.4,613 539.7,604.2 540,607.7 540.3,614.9 540.6,602.4 541,609.1 541.3,610.3 541.6,607.8 541.9,614 542.2,608.2 542.6,596.3 542.9,595.2 543.2,604.2 543.5,613.1 543.8,605.4 544.2,612.1 544.5,608.5 544.8,612.5 545.1,614.8 545.4,609.3 545.8,615.3 546.1,602.7 546.4,597.9 546.7,612.8 547,609.3 547.4,608.9 547.7,608.2 548,609.9 548.3,610.7 548.6,605.7 549,611 549.3,610.8 549.6,606.8 549.9,605.8 550.2,602.2 550.6,607.1 550.9,608.7 551.2,613 551.5,606 551.8,608.1 552.2,605.9 552.5,606 552.8,605 553.1,609.2 553.4,610.5 553.8,603.8 554.1,607.2 554.4,605.6 554.7,606.4 555,608.3 555.4,608.7 555.7,608.2 556,605.4 556.3,604.6 556.6,601.2 557,610.2 557.3,607.5 557.6,606.3 557.9,610.7 558.2,605.7 558.6,604.2 558.9,612.4 559.2,607.1 559.5,611.3 559.8,610.3 560.2,609.8 560.5,608.3 560.8,611.8 561.1,610.1 561.4,608.6 561.8,608.6 562.1,609.2 562.4,616.8 562.7,606.6 563,611.4 563.4,612.9 563.7,612.5 564,614.4 564.3,613 564.6,594.8 565,610.8 565.3,603.8 565.6,610.3 565.9,610.7 566.2,608.5 566.6,612.3 566.9,613.5 567.2,612.9 567.5,603.3 567.8,610.9 568.2,612.2 568.5,611 568.8,610.3 569.1,613.1 569.4,607.7 569.8,610.2 570.1,612.8 570.4,608.5 570.7,613.6 571,611.1 571.4,612.7 571.7,611.9 572,610 572.3,607.8 572.6,611.6 573,610.9 573.3,608.2 573.6,605.6 573.9,605 574.2,604.7 574.6,608.7 574.9,608.2 575.2,607.9 575.5,607.2 575.8,610.9 576.2,606.8 576.5,605.9 576.8,622.9 577.1,610.5 577.4,609.5 577.8,609.7 578.1,609.9 578.4,611.3 578.7,616.9 579,604.2 579.4,608.6 579.7,612.6 580,607.7 580.3,611.8 580.6,614.8 581,610.6 581.3,607.1 581.6,607.4 581.9,607.1 582.2,607.7 582.6,607.6 582.9,603.5 583.2,608.7 583.5,607.6 583.8,609.1 584.2,610.1 584.5,610.5 584.8,609.7 585.1,608.2 585.4,604.1 585.8,608.4 586.1,612.6 586.4,601 586.7,606.4 587,607.9 587.4,610 587.7,607.6 588,609.7 588.3,604.8 588.6,609 589,602.8 589.3,607.5 589.6,612.2 589.9,614.1 590.2,602.3 590.6,610.8 590.9,604.8 591.2,607.3 591.5,609.8 591.8,606.9 592.2,606.3 592.5,602.6 592.8,617.9 593.1,608.1 593.4,600.6 593.8,603.7 594.1,614.7 594.4,611.8 594.7,607 595,607.7 595.4,604.6 595.7,604.7 596,608 596.3,609.1 596.6,606.9 597,604.5 597.3,605 597.6,606.2 597.9,611.8 598.2,605.9 598.6,613.9 598.9,609.1 599.2,605.3 599.5,607.5 599.8,612.7 600.2,604 600.5,605.7 600.8,607.7 601.1,607.3 601.4,606.2 601.8,604.2 602.1,606.3 602.4,595.3 602.7,611.4 603,610.6 603.4,614.1 603.7,594.4 604,611.4 604.3,609.3 604.6,608.2 605,612.9 605.3,611.1 605.6,610.3 605.9,606.3 606.2,606.4 606.6,609.6 606.9,607.1 607.2,613.9 607.5,608.3 607.8,609.1 608.2,607.2 608.5,612 608.8,604.6 609.1,612.2 609.4,615.1 609.8,610.5 610.1,611.7 610.4,611.7 610.7,611.9 611,608.6 611.4,608.4 611.7,600.8 612,609 612.3,606.9 612.6,606.1 613,610.8 613.3,612.6 613.6,611.1 613.9,611.7 614.2,607.9 614.6,602.6 614.9,607.3 615.2,614.2 615.5,610.1 615.8,609.7 616.2,615.2 616.5,606.1 616.8,611.6 617.1,611.3 617.4,607.7 617.8,604.5 618.1,611.3 618.4,609.6 618.7,606.9 619,605.9 619.4,606.5 619.7,602.3 620,614.6 620.3,604.2 620.6,603 621,608.7 621.3,614.4 621.6,606.5 621.9,605.3 622.2,605.4 622.6,607.8 622.9,603.8 623.2,614.3 623.5,612.1 623.8,607.6 624.2,605.7 624.5,609.6 624.8,611.1 625.1,610.3 625.4,612.8 625.8,609.7 626.1,609.7 626.4,607.8 626.7,613.7 627,601.4 627.4,610 627.7,603.6 628,610 628.3,611.9 628.6,616.2 629,608 629.3,611.6 629.6,611.5 629.9,609.6 630.2,612.4 630.6,614.8 630.9,604.7 631.2,613.1 631.5,615.8 631.8,610.6 632.2,613.1 632.5,609.4 632.8,610 633.1,613.4 633.4,609.1 633.8,611.3 634.1,606.2 634.4,612.5 634.7,610.2 635,616.8 635.4,608.9 635.7,604.1 636,607.6 636.3,606.6 636.6,606.2 637,608.2 637.3,612.3 637.6,603.3 637.9,613.5 638.2,606.2 638.6,614.5 638.9,610 639.2,604.8 639.5,612.6 639.8,608.3 640.2,610.5 640.5,607.1 640.8,608 641.1,608.4 641.4,607.8 641.8,604 642.1,608.1 642.4,605.6 642.7,611.7 643,611.8 643.4,604.4 643.7,606.2 644,607.1 644.3,604.1 644.6,607.6 645,607 645.3,606.4 645.6,613.4 645.9,607.3 646.2,613.1 646.6,609.9 646.9,607.8 647.2,609.9 647.5,610.2 647.8,606.6 648.2,610.5 648.5,607.6 648.8,607 649.1,611.4 649.4,611 649.8,612.9 650.1,611.9 650.4,614.1 650.7,615.4 651,616.8 651.4,610.9 651.7,608.2 652,610.6 652.3,603.5 652.6,610.2 653,610.7 653.3,616.5 653.6,604.9 653.9,607.9 654.2,608.8 654.6,605.4 654.9,611.3 655.2,605.6 655.5,610.8 655.8,611.8 656.2,608.7 656.5,608.7 656.8,610.9 657.1,602.5 657.4,603.8 657.8,606.9 658.1,602.4 658.4,606.8 658.7,613.9 659,610.9 659.4,606.3 659.7,608.9 660,602.6 660.3,600.3 660.6,600.3 661,607.4 661.3,609.5 661.6,605.2 661.9,605.4 662.2,609.2 662.6,608.5 662.9,609 663.2,611 663.5,600.6 663.8,608.4 664.2,606.2 664.5,606.9 664.8,605.4 665.1,601.1 665.4,605.4 665.8,609.7 666.1,612.2 666.4,618 666.7,603.6 667,603.3 667.4,607.6 667.7,613 668,610.8 668.3,608.6 668.6,610.4 669,605.1 669.3,613.4 669.6,608.2 669.9,615 670.2,622.1 670.6,607.4 670.9,620.6 671.2,607 671.5,610.5 671.8,610.7 672.2,607.6 672.5,605.4 672.8,615.7 673.1,607.2 673.4,615.6 673.8,612.4 674.1,610.6 674.4,611.7 674.7,612.2 675,609.7 675.4,605 675.7,603.3 676,607.9 676.3,608.2 676.6,611.1 677,609.1 677.3,611.1 677.6,603.1 677.9,604.9 678.2,610.5 678.6,610.4 678.9,611.4 679.2,611.1 679.5,605.7 679.8,602.7 680.2,606.7 680.5,610.9 680.8,616.5 681.1,607.8 681.4,610.2 681.8,611.1 682.1,613.1 682.4,619.7 682.7,609.6 683,620.7 683.4,607.2 683.7,608.8 684,605 684.3,608.4 684.6,606.4 685,605.6 685.3,614.5 685.6,606.2 685.9,609.7 686.2,611.4 686.6,604.1 686.9,608.9 687.2,610 687.5,606.9 687.8,617.7 688.2,604.2 688.5,607.7 688.8,612.5 689.1,605.3 689.4,608.1 689.8,612.9 690.1,605.5 690.4,601.3 690.7,604.5 691,609 691.4,607.1 691.7,607.4 692,609.2 692.3,607.2 692.6,605 693,610.6 693.3,609.7 693.6,605.9 693.9,605.2 694.2,614.4 694.6,603.3 694.9,609.4 695.2,602.2 695.5,600.8 695.8,612 696.2,607.3 696.5,605.5 696.8,611.4 697.1,607 697.4,605.2 697.8,604.9 698.1,611 698.4,608.1 698.7,608 699,606.8 699.4,606.3 699.7,602.1 700,608.1 700.3,609 700.6,608.9 701,611 701.3,610.8 701.6,605.9 701.9,609.5 702.2,606.3 702.6,613.2 702.9,606.6 703.2,609.8 703.5,604.9 703.8,609.4 704.2,603.1 704.5,601.9 704.8,609.3 705.1,610.6 705.4,612.2 705.8,608.9 706.1,609.7 706.4,607.8 706.7,611.4 707,606.6 707.4,607.3 707.7,615.4 708,606.2 708.3,611.8 708.6,608 709,610.9 709.3,609.2 709.6,605.9 709.9,605.9 710.2,603.8 710.6,615.2 710.9,612.4 711.2,605.5 711.5,606.6 711.8,616.4 712.2,609.9 712.5,609.7 712.8,608 713.1,609.6 713.4,606.7 713.8,602.9 714.1,609.8 714.4,609.8 714.7,612.8 715,618 715.4,609.1 715.7,606.2 716,617.2 716.3,609.7 716.6,613.4 717,613.3 717.3,608.8 717.6,615.8 717.9,610.2 718.2,607.7 718.6,606 718.9,603.3 719.2,606.8 719.5,606.9 719.8,607.2 720.2,609.1 720.5,611.3 720.8,611.5 721.1,610.6 721.4,608 721.8,606.6 722.1,600.7 722.4,617 722.7,615.3 723,606.2 723.4,609.8 723.7,610 724,613.9 724.3,602 724.6,608.7 725,609.9 725.3,609.2 725.6,606.4 725.9,605.6 726.2,610.5 726.6,607.1 726.9,604.7 727.2,614.4 727.5,608.3 727.8,608.6 728.2,606.5 728.5,606 728.8,604.5 729.1,607.3 729.4,606.5 729.8,603.5 730.1,602.9 730.4,609.3 730.7,609.6 731,607.4 731.4,611.6 731.7,610 732,607 732.3,612.4 732.6,606.3 733,604.5 733.3,600.8 733.6,605.2 733.9,604.2 734.2,608.1 734.6,602.3 734.9,608.6 735.2,610.1 735.5,605.3 735.8,612.4 736.2,612.7 736.5,610.2 736.8,609.2 737.1,611.7 737.4,611.6 737.8,609.3 738.1,606.9 738.4,609.4 738.7,607.5 739,611.6 739.4,610.3 739.7,609 740,608.8 740.3,612.7 740.6,594.9 741,612.7 741.3,611.6 741.6,610.1 741.9,605.9 742.2,615.5 742.6,608.2 742.9,608.9 743.2,611.7 743.5,606.9 743.8,612.7 744.2,620.8 744.5,607.6 744.8,606.2 745.1,608.2 745.4,609.3 745.8,604.4 746.1,605 746.4,607.8 746.7,606.3 747,601.9 747.4,608.5 747.7,611.1 748,604 748.3,611.7 748.6,607.9 749,613.1 749.3,604 749.6,603.5 749.9,606.8 750.2,608 750.6,603.3 750.9,600.5 751.2,606.8 751.5,609.1 751.8,604.7 752.2,608.2 752.5,606.4 752.8,601.4 753.1,605.2 753.4,609.8 753.8,609.5 754.1,610.7 754.4,610.8 754.7,606.8 755,607.4 755.4,610.5 755.7,614.9 756,614.6 756.3,616.5 756.6,608.6 757,609.9 757.3,608.5 757.6,615.3 757.9,611.4 758.2,608.1 758.6,609.2 758.9,611.7 759.2,608.3 759.5,611.5 759.8,609 760.2,610.9 760.5,608.9 760.8,602.9 761.1,601.8 761.4,612.1 761.8,609.4 762.1,606.7 762.4,607.6 762.7,610.1 763,606.6 763.4,610 763.7,608.6 764,604.5 764.3,604.4 764.6,603.8 765,612 765.3,608.1 765.6,604.4 765.9,594.7 766.2,608.3 766.6,611 766.9,607.6 767.2,605.7 767.5,610 767.8,605.8 768.2,607.1 768.5,607.9 768.8,610.5 769.1,604.8 769.4,606.4 769.8,606 770.1,601.2" fill="none" stroke="#0000ff" stroke-width="1.6"/>
<polyline points="770.1,601.2 770.4,605.7 770.7,611.8 771,606.2 771.3,609.4 771.6,601.5 771.9,613.9 772.2,605 772.5,614.8 772.8,601.7 773.1,609 773.4,601.7 773.7,613.5 774,603.3 774.3,610.5 774.6,605.1 774.9,615.8 775.2,602.3 775.5,615.1 775.8,607.9 776.1,615.5 776.4,605.3 776.7,613.4 777,600.5 777.3,617 777.6,606.5 777.9,613.6 778.2,600.9 778.5,615 778.8,605.4 779.1,609.1 779.4,602.2 779.7,615 780,600.9 780.3,617.4 780.6,608.7 780.9,613.4 781.2,600.5 781.5,613.5 781.8,603.6 782.1,615.9 782.4,603.1 782.7,608.9 783,605.1 783.3,616.5 783.6,600.7 783.9,613.6 784.2,606.4 784.5,611 784.8,604.8 785.1,614.5 785.4,606.1 785.7,616.6 786,607.2 786.3,615.2 786.6,605.2 786.9,609.8 787.2,598.1 787.5,613.7 787.8,604.5 788.1,616 788.4,601.3 788.7,616.5 789,598.9 789.3,618.4 789.6,603.4 789.9,620.1 790.2,608 790.5,616.5 790.8,596.7 791.1,620.8 791.4,602.4 791.7,620.7 792,601.4 792.3,615.7 792.6,597.1 792.9,620.3 793.2,607.2 793.5,614.7 793.8,599.2 794.1,612.6 794.4,598 794.7,622.3 795,599.7 795.3,612.8 795.6,595.5 795.9,615.7 796.2,606.7 796.5,618.8 796.8,601.3 797.1,623.7 797.4,594.4 797.7,622.3 798,599.9 798.3,615.2 798.6,587.4 798.9,616.9 799.2,586.5 799.5,613.9 799.8,584.5 800.1,620.5 800.4,586.4 800.7,610.1 801,595.5 801.3,615.5 801.6,589.9 801.9,610.5 802.2,595.1 802.5,611 802.8,599.4 803.1,610.7 803.4,583.8 803.7,627.2 804,607.5 804.3,623 804.6,598.6 804.9,621.7 805.2,591.8 805.5,624.6 805.8,591.1 806.1,628.8 806.4,586 806.7,624.9 807,593.4 807.3,617.3 807.6,606.3 807.9,620.4 808.2,598 808.5,613.7 808.8,584.9 809.1,613 809.4,593 809.7,619.8 810,581.7 810.3,613.1 810.6,579.1 810.9,623.9 811.2,591.8 811.5,629.4 811.8,592.9 812.1,618.5 812.4,596.7 812.7,631 813,594.1 813.3,628.7 813.6,604.9 813.9,633.5 814.2,584 814.5,630.8 814.8,607.2 815.1,626.6 815.4,594.7 815.7,612.9 816,586.3 816.3,625 816.6,584.4 816.9,615.2 817.2,590.8 817.5,610.5 817.8,582.7 818.1,629.5 818.4,593 818.7,634 819,596 819.3,630.1 819.6,577.8 819.9,613.9 820.2,593.7 820.5,613.5 820.8,576.6 821.1,613.1 821.4,593.8 821.7,628.8 822,576.1 822.3,630.9 822.6,588.6 822.9,614.1 823.2,587.9 823.5,615.6 823.8,600.5 824.1,625.5 824.4,592.5 824.7,631 825,574.1 825.3,617.2 825.6,580.5 825.9,628.8 826.2,581 826.5,629.9 826.8,581.7 827.1,627.1 827.4,573.4 827.7,625.9 828,571.1 828.3,631.6 828.6,588.5 828.9,629 829.2,595 829.5,610.5 829.8,591.3 830.1,609 830.4,575.9 830.7,633.6 831,602.3 831.3,632.8 831.6,573 831.9,632.6 832.2,583.1 832.5,620.7 832.8,575.8 833.1,633.1 833.4,567.8 833.7,632.9 834,583.4 834.3,622.5 834.6,584.8 834.9,620.4 835.2,575.2 835.5,630.9 835.8,584 836.1,637.6 836.4,584.6 836.7,639.5 837,605.6 837.3,623.2 837.6,568.9 837.9,629.3 838.2,599.8 838.5,630.8 838.8,595 839.1,612.4 839.4,588.3 839.7,620.6 840,581.2 840.3,632.4 840.6,591.5 840.9,613.8 841.2,578 841.5,628.1 841.8,591.8 842.1,623.9 842.4,578.8 842.7,636.6 843,578.5 843.3,631.5 843.6,600.8 843.9,627.7 844.2,601.2 844.5,622.9 844.8,568.5 845.1,633 845.4,583.2 845.7,625.5 846,593.4 846.3,629.9 846.6,588.1 846.9,638.7 847.2,587.7 847.5,630.2 847.8,582.8 848.1,638.2 848.4,590.4 848.7,634.6 849,576.9 849.3,623.9 849.6,590.3 849.9,634.3 850.2,593.9 850.5,618.9 850.8,583.9 851.1,620.3 851.4,597.3 851.7,621.4 852,591.9 852.3,627.9 852.6,579.7 852.9,620.8 853.2,608.7 853.5,635.5 853.8,590 854.1,609.1 854.4,595.9 854.7,614.9 855,586.5 855.3,627.3 855.6,572.4 855.9,627.9 856.2,601.4 856.5,621.7 856.8,580 857.1,628.4 857.4,595.3 857.7,629.1 858,575.7 858.3,631.9 858.6,581.9 858.9,619.7 859.2,574.9 859.5,629.1 859.8,581.4 860.1,620.7 860.4,590.7 860.7,613.8 861,597.3 861.3,628.3 861.6,599.7 861.9,622.6 862.2,589.2 862.5,609.4 862.8,580.9 863.1,634 863.4,578.7 863.7,638 864,590.3 864.3,636.5 864.6,579.9 864.9,618.3 865.2,593.2 865.5,619 865.8,586.4 866.1,620.6 866.4,586.3 866.7,620.7 867,588.1 867.3,635.7 867.6,593.8 867.9,608.8 868.2,599.3 868.5,626.2 868.8,588.1 869.1,615.5 869.4,576.9 869.7,614.5 870,585.8 870.3,610.3 870.6,606.7 870.9,637.8 871.2,576.4 871.5,637.8 871.8,587 872.1,635.9 872.4,595.4 872.7,623.4 873,588.2 873.3,633.3 873.6,579.1 873.9,623.3 874.2,588.7 874.5,633.6 874.8,577.8 875.1,625.8 875.4,589.9 875.7,638.2 876,579.4 876.3,628.6 876.6,588.3 876.9,623.8 877.2,608.7 877.5,613.8 877.8,587.3 878.1,638.7 878.4,594.6 878.7,623.7 879,587.8 879.3,628.8 879.6,578.9 879.9,609.6 880.2,591 880.5,628.4 880.8,593.2 881.1,618.6 881.4,583.8 881.7,621.9 882,587.6 882.3,629.3 882.6,592.1 882.9,632.2 883.2,593 883.5,636.8 883.8,595.9 884.1,632 884.4,581.3 884.7,627 885,588.1 885.3,625.6 885.6,604.9 885.9,618.1 886.2,583.6 886.5,622.6 886.8,586 887.1,632.8 887.4,590.9 887.7,628.7 888,596.9 888.3,619.5 888.6,598.9 888.9,632 889.2,582.8 889.5,612.4 889.8,588.6 890.1,631.9 890.4,587.2 890.7,623.2 891,594.2 891.3,633.1 891.6,599.7 891.9,630.6 892.2,582.7 892.5,637.2 892.8,588.1 893.1,617.1 893.4,585.5 893.7,630.9 894,608 894.3,620.1 894.6,585.4 894.9,635.1 895.2,594.9 895.5,621.7 895.8,594.5 896.1,628.1 896.4,588.4 896.7,624.4 897,593.7 897.3,624.3 897.6,603.1 897.9,625.1 898.2,605 898.5,621.2 898.8,574.8 899.1,617.1 899.4,580.1 899.7,617.1 900,589.4 900.3,623.1 900.6,577.8 900.9,624.9 901.2,589 901.5,630.2 901.8,581.7 902.1,626.8 902.4,591.2 902.7,629 903,585.2 903.3,630 903.6,607.6 903.9,614.8 904.2,582.5 904.5,628.7 904.8,584.6 905.1,628.9 905.4,591.3 905.7,613.7 906,604.1 906.3,629.8 906.6,580.3 906.9,630.9 907.2,599.9 907.5,611.8 907.8,592.1 908.1,619.2 908.4,595.9 908.7,633.8 909,593.1 909.3,623 909.6,583 909.9,612 910.2,587.1 910.5,626 910.8,598.1 911.1,634.2 911.4,581.7 911.7,616.6 912,591.5 912.3,632.2 912.6,589 912.9,629.6 913.2,585.3 913.5,610.3 913.8,582.6 914.1,627.3 914.4,594.9 914.7,614.2 915,585.4 915.3,609.3 915.6,583.2 915.9,621.6 916.2,576.9 916.5,623 916.8,591.8 917.1,622.9 917.4,585.6 917.7,630.7 918,578.4 918.3,619.5 918.6,592.1 918.9,627.1 919.2,589.8 919.5,624.9 919.8,586.2 920.1,619.5 920.4,586.2 920.7,625.4 921,585 921.3,619.9 921.6,581 921.9,632.1 922.2,587.3 922.5,621.8 922.8,577.6 923.1,626.3 923.4,606 923.7,624 924,594 924.3,629.1 924.6,596.4 924.9,627.2 925.2,585.7 925.5,613.6 925.8,591.5 926.1,617.3 926.4,594.9 926.7,623.4 927,594.8 927.3,618.7 927.6,588.4 927.9,609.2 928.2,588.7 928.5,632.6 928.8,594 929.1,612.8 929.4,589.1 929.7,624.6 930,583.2 930.3,617.6 930.6,586.8 930.9,624.6 931.2,583.1 931.5,627.7 931.8,581.8 932.1,625.8 932.4,599.4 932.7,618.9 933,596.4 933.3,622.8 933.6,603.5 933.9,611.3 934.2,597.7 934.5,612.1 934.8,585.5 935.1,619.2 935.4,597.6 935.7,619.7 936,599.2 936.3,617.7 936.6,586 936.9,628.4 937.2,593.7 937.5,624.9 937.8,589.6 938.1,622.5 938.4,591.8 938.7,620.5 939,601.9 939.3,617.5 939.6,595.5 939.9,628.2 940.2,598.5 940.5,616.4 940.8,600.7 941.1,621.3 941.4,595.9 941.7,616.7 942,593.1 942.3,617.7 942.6,596.4 942.9,621.5 943.2,599.1 943.5,618 943.8,600.3 944.1,617.7 944.4,590.4 944.7,614.1 945,600.6 945.3,624.4 945.6,588.7 945.9,616 946.2,599.2 946.5,626.1 946.8,595.5 947.1,626.2 947.4,589.4 947.7,616.4 948,597.8 948.3,621.4 948.6,589.4 948.9,614.8 949.2,590.8 949.5,620.9 949.8,590.5 950.1,613.4 950.4,597.8 950.7,609.5 951,588.8 951.3,622.3 951.6,602.3 951.9,626.8 952.2,597.4 952.5,610.2 952.8,588.9 953.1,619.7 953.4,588.6 953.7,617.5 954,606.4 954.3,614.1 954.6,590.7 954.9,624.5 955.2,592.4 955.5,621.2 955.8,602.4 956.1,626 956.4,589 956.7,610 957,600.5 957.3,613.8 957.6,588.1 957.9,618.2 958.2,601.6 958.5,627.1 958.8,601.7 959.1,623.1 959.4,592.1 959.7,614.8 960,591.7 960.3,617.9 960.6,608 960.9,619.3 961.2,592.8 961.5,615.2 961.8,591.8 962.1,616.2 962.4,593.3 962.7,622.7 963,593.4 963.3,609.4 963.6,589.2 963.9,621.6 964.2,590.1 964.5,626.1 964.8,587.6 965.1,620.5 965.4,590.5 965.7,624.3 966,588.2 966.3,613.4 966.6,596.9 966.9,623.1 967.2,590.6 967.5,620.2 967.8,592.4 968.1,618.8 968.4,589.5 968.7,612.7 969,593.5 969.3,613 969.6,596.4 969.9,617.1 970.2,605.3 970.5,617.5 970.8,600.3 971.1,625.7 971.4,600.6 971.7,619.2 972,601.5 972.3,612.6 972.6,589.1 972.9,622 973.2,599 973.5,620.8 973.8,597.2 974.1,619.3 974.4,596.3 974.7,621.8 975,595 975.3,616.5 975.6,593.7 975.9,625.9 976.2,592.9 976.5,619.3 976.8,608.6 977.1,617.5 977.4,605.2 977.7,610.7 978,590.8 978.3,616.8 978.6,592.2 978.9,612.2 979.2,600.6 979.5,623.7 979.8,596.8 980.1,623.7 980.4,591.6 980.7,621.8 981,594.9 981.3,616 981.6,603.3 981.9,623 982.2,600.6 982.5,610.9 982.8,607.2 983.1,612.7 983.4,597.6 983.7,626.4 984,592.3 984.3,608.8 984.6,597.9 984.9,624 985.2,605.5 985.5,609.9 985.8,601.3 986.1,621.9 986.4,601.7 986.7,624.9 987,596.6 987.3,624.2 987.6,608.5 987.9,616.5 988.2,599.2 988.5,622.7 988.8,591.7 989.1,626.3 989.4,593.1 989.7,615.1 990,589.1 990.3,621.6 990.6,593.9 990.9,612.1 991.2,595.2 991.5,622.5 991.8,594.5 992.1,624.7 992.4,603.6 992.7,621.1 993,588.6 993.3,610.3 993.6,594.9 993.9,623.1 994.2,587.5 994.5,617.3 994.8,597.4 995.1,619.5 995.4,600.7 995.7,625.3 996,595.2 996.3,623.5 996.6,591.6 996.9,620 997.2,605.2 997.5,625.5 997.8,591.5 998.1,615.2 998.4,587.1 998.7,610.4 999,591.8 999.3,618.5 999.6,587.2 999.9,623.2 1000.2,600.7 1000.5,622.8 1000.8,607.5 1001.1,615 1001.4,600.9 1001.7,625.7 1002,597.5 1002.3,614.8 1002.6,594.6" fill="none" stroke="#0000ff" stroke-width="1.6"/>
<polygon points="119.2,752.8 119.9,753.8 120.6,754 121.3,751.7 122,751.4 122.7,754.1 123.4,754.4 124.1,753.9 124.8,752.5 125.5,752.8 126.2,753.4 126.9,754.3 127.6,752.8 128.3,752.2 129,752.5 129.7,753.5 130.4,753 131.1,754 131.8,755.4 132.5,754.6 133.2,755.9 133.9,756.4 134.6,757.5 135.3,758.5 136,757.8 136.7,759.1 137.4,758.6 138.1,757.4 138.8,757 139.5,755.6 140.2,755.5 140.9,753.7 141.6,754.2 142.3,753.9 143,752.7 143.7,751.5 144.4,751.2 145.1,751.7 145.8,750.4 146.5,745.3 147.2,746.2 147.9,746.3 148.6,748.3 149.3,746.8 150,746.1 150.7,745.9 151.4,744.3 152.1,742.7 152.8,740.1 153.5,743.4 154.2,742.4 154.9,741.6 155.6,740.7 156.3,739.7 157,741.2 157.7,741.5 158.4,741.8 159.1,740.8 159.8,740 160.5,741.3 161.2,739.3 161.9,740.4 162.6,738.7 163.3,736.7 164,740 164.7,740 165.4,738.8 166.1,738.9 166.8,740.5 167.5,740.6 168.2,740.8 168.9,740.6 169.6,737.7 170.3,737.5 171,741.1 171.7,740.6 172.4,740.3 173.1,740 173.8,740.5 174.5,740.9 175.2,741.2 175.9,741.5 176.6,740.5 177.3,741.6 178,742.1 178.7,740.5 179.4,741.8 180.1,742 180.8,742.2 181.5,741.5 182.2,739.9 182.9,741.1 183.6,740.7 184.3,740.7 185,741.8 185.7,737 186.4,741.2 187.1,739.7 187.8,739.4 188.5,738.7 189.2,739.1 189.9,736.2 190.6,736.9 191.3,738.1 192,737.5 192.7,737.5 193.4,735.9 194.1,737.1 194.8,735.5 195.5,735.1 196.2,734.3 196.9,734.8 197.6,735.4 198.3,732.9 199,731.7 199.7,734 200.4,733.8 201.1,732.6 201.8,733.1 202.5,732.5 203.2,733.2 203.9,731.6 204.6,731.4 205.3,732.8 206,733.2 206.7,731.7 207.4,733 208.1,731.1 208.8,733.2 209.5,733.3 210.2,731.5 210.9,732.3 211.6,731.9 212.3,732.1 213,732.8 213.7,733.1 214.4,732.2 215.1,729.7 215.8,730.2 216.5,731.4 217.2,732.7 217.9,730.8 218.6,731.6 219.3,732.9 220,731.9 220.7,730.9 221.4,730.7 222.1,732.1 222.8,730.1 223.5,731.8 224.2,730.2 224.9,731 225.6,730.8 226.3,730.6 227,729.6 227.7,730 228.4,727.9 229.1,727 229.8,728.5 230.5,728.1 231.2,728.7 231.9,728.2 232.6,727.6 233.3,727.7 234,728.6 234.7,727.8 235.4,727.3 236.1,726.9 236.8,727.1 237.5,727 238.2,726.7 238.9,725.1 239.6,725 240.3,726.5 241,722.8 241.7,725.9 242.4,726.5 243.1,726.5 243.8,727.1 244.5,727.1 245.2,727 245.9,726.6 246.6,725.3 247.3,727.3 248,727.2 248.7,726.2 249.4,726.9 250.1,726.5 250.8,726.2 251.5,724.9 252.2,725.2 252.9,726.9 253.6,726.7 254.3,726.6 255,727.3 255.7,727.2 256.4,726.9 257.1,727 257.8,726.7 258.5,727.4 259.2,727.2 259.9,727.2 260.6,727.3 261.3,727 262,725.5 262.7,727.4 263.4,727.1 264.1,728 264.8,728.2 265.5,728.4 266.2,728.3 266.9,727.8 267.6,729 268.3,728.5 269,729 269.7,729.3 270.4,728.7 271.1,728.5 271.8,730.4 272.5,730.9 273.2,730 273.9,730.4 274.6,730.1 275.3,729.4 276,728.9 276.7,727.6 277.4,725.9 278.1,728.1 278.8,728.4 279.5,727.7 280.2,727 280.9,728.2 281.6,725.4 282.3,727.6 283,726.5 283.7,727.7 284.4,726.7 285.1,727.3 285.8,726.1 286.5,725.4 287.2,726.4 287.9,724.8 288.6,725.8 289.3,724.3 290,724.8 290.7,724.8 291.4,723.8 292.1,724.2 292.8,723.8 293.5,722.8 294.2,724 294.9,721.6 295.6,720.8 296.3,724.2 297,722.6 297.7,723.7 298.4,723.9 299.1,721.7 299.8,724 300.5,722.2 301.2,722.8 301.9,721.1 302.6,722.9 303.3,723 304,723 304.7,722.9 305.4,722.2 306.1,721.8 306.8,721 307.5,722 308.2,722.1 308.9,723.3 309.6,723.2 310.3,722.4 311,722.8 311.7,723.4 312.4,722 313.1,723.4 313.8,722.4 314.5,723.4 315.2,720.9 315.9,721.5 316.6,722.5 317.3,723.8 318,723.6 318.7,721.7 319.4,723.5 320.1,722.2 320.8,722.3 321.5,720.7 322.2,722 322.9,722.7 323.6,721.6 324.3,722 325,722.6 325.7,721.1 326.4,722.8 327.1,722.4 327.8,722.8 328.5,721.8 329.2,720.8 329.9,722.3 330.6,721.8 331.3,723.2 332,723.1 332.7,721.9 333.4,722.5 334.1,723.5 334.8,721.8 335.5,721.8 336.2,722.1 336.9,721.3 337.6,720 338.3,720.6 339,718.6 339.7,720 340.4,720.4 341.1,720.4 341.8,719.8 342.5,719.4 343.2,720.3 343.9,721.2 344.6,720 345.3,721.2 346,722.2 346.7,718.3 347.4,721.9 348.1,723.8 348.8,722.8 349.5,722.9 350.2,723 350.9,724.9 351.6,725.6 352.3,723.4 353,725.5 353.7,725.5 354.4,723.3 355.1,725 355.8,724.8 356.5,722.5 357.2,723.5 357.9,722.2 358.6,721.3 359.3,718.8 360,717.6 360.7,715.3 361.4,714 362.1,713 362.8,712.7 363.5,709.8 364.2,710.6 364.9,709.7 365.6,710 366.3,709.2 367,709.6 367.7,709.2 368.4,708.7 369.1,710 369.8,710.5 370.5,710.8 371.2,711.3 371.9,709.2 372.6,712.3 373.3,710.6 374,711.1 374.7,712.9 375.4,712.4 376.1,710.8 376.8,713 377.5,713 378.2,712.4 378.9,715.2 379.6,714.1 380.3,714.9 381,715.2 381.7,716.2 382.4,715.1 383.1,715.5 383.8,715.5 384.5,717.6 385.2,718.7 385.9,718.9 386.6,718.1 387.3,720.2 388,722.4 388.7,722.6 389.4,722.3 390.1,720.8 390.8,723.1 391.5,721.8 392.2,724.4 392.9,725.1 393.6,725.4 394.3,724 395,725.1 395.7,725.9 396.4,724 397.1,725.3 397.8,725.8 398.5,726 399.2,726.4 399.9,724.7 400.6,726.7 401.3,725.6 402,726.9 402.7,727 403.4,723.1 404.1,726 404.8,726.2 405.5,725.4 406.2,725.5 406.9,726.4 407.6,727 408.3,724.4 409,727.5 409.7,727.5 410.4,725.8 411.1,727.2 411.8,725.3 412.5,726.8 413.2,727.8 413.9,727.7 414.6,727.1 415.3,728 416,728.1 416.7,728.1 417.4,728.9 418.1,728.1 418.8,729.1 419.5,729.5 420.2,730.3 420.9,730.7 421.6,730.9 422.3,731.2 423,730.6 423.7,731.6 424.4,732.1 425.1,732 425.8,732.3 426.5,730.6 427.2,729.7 427.9,732.5 428.6,732 429.3,732.5 430,733.2 430.7,732.4 431.4,731.1 432.1,731.7 432.8,732.5 433.5,732.4 434.2,730.6 434.9,730.6 435.6,731 436.3,730.4 437,728.7 437.7,728.9 438.4,728.7 439.1,727.5 439.8,729.2 440.5,728.8 441.2,729.4 441.9,728.5 442.6,726.3 443.3,729.3 444,728.8 444.7,728.4 445.4,729.1 446.1,727.8 446.8,731 447.5,731.1 448.2,731.5 448.9,730.3 449.6,731.1 450.3,732.3 451,732.1 451.7,733 452.4,734.3 453.1,733.5 453.8,735.7 454.5,736.5 455.2,735 455.9,736 456.6,737.5 457.3,738.3 458,738 458.7,738.1 459.4,737.4 460.1,735 460.8,734.2 461.5,735.4 462.2,734.7 462.9,737.1 463.6,736.9 464.3,734.8 465,735.3 465.7,737.3 466.4,735.9 467.1,737.3 467.8,735.4 468.5,737 469.2,738.2 469.9,738.6 470.6,738.6 471.3,739.3 472,740.2 472.7,739.5 473.4,740.6 474.1,741.7 474.8,742.5 475.5,742.9 476.2,743.2 476.9,741.8 477.6,743.5 478.3,744.4 479,741.6 479.7,743.5 480.4,744.5 481.1,745.5 481.8,745.8 482.5,745.9 483.2,746.3 483.9,744.5 484.6,745.7 485.3,744.5 486,745.7 486.7,745.4 487.4,744.4 488.1,742.3 488.8,746.2 489.5,744.5 490.2,746.2 490.9,746.3 491.6,748.4 492.3,747.4 493,748.2 493.7,748.2 494.4,747.7 495.1,746 495.8,748.4 496.5,747.2 497.2,745 497.9,744.4 498.6,747.2 499.3,743.7 500,746.2 500.7,743.9 501.4,746.5 502.1,746.7 502.8,745.4 503.5,746.4 504.2,746.2 504.9,746.2 505.6,746.5 506.3,746.9 507,747.3 507.7,747.4 508.4,746.7 509.1,746.2 509.8,747.2 510.5,748 511.2,748.5 511.9,746.4 512.6,746.9 513.3,748.3 514,748.3 514.7,747.1 515.4,748.6 516.1,749.2 516.8,749.1 517.5,749.1 518.2,749.5 518.9,749.3 519.6,749.3 520.3,749.4 521,750 521.7,749.9 522.4,750 523.1,748.3 523.8,748 524.5,748.5 525.2,748.3 525.9,746.7 526.6,749.6 527.3,748.2 528,746.1 528.7,748.4 529.4,747.4 530.1,747.2 530.8,746.3 531.5,745.2 532.2,748 532.9,747.5 533.6,747.1 534.3,746.5 535,747.8 535.7,748.1 536.4,745.3 537.1,747 537.8,747.9 538.5,747.5 539.2,745.8 539.9,746.8 540.6,747.7 541.3,744.6 542,746.7 542.7,746.3 543.4,747.2 544.1,748.2 544.8,749.2 545.5,748.8 546.2,749.6 546.9,749.1 547.6,750.8 548.3,749.4 549,751.8 549.7,750 550.4,749.8 551.1,748.8 551.8,750.3 552.5,749.3 553.2,749.1 553.9,748.2 554.6,749.2 555.3,749.5 556,748.9 556.7,749.1 557.4,749.1 558.1,750.6 558.8,749.3 559.5,751.8 560.2,754.2 560.9,753.9 561.6,756.2 562.3,755.8 563,754.2 563.7,755.6 564.4,753.7 565.1,754.2 565.8,754.4 566.5,754.3 567.2,753.5 567.9,752.6 568.6,753.2 569.3,754.2 570,752.8 570.7,752 571.4,753.5 572.1,752.3 572.8,752.7 573.5,753 574.2,753.4 574.9,752.4 575.6,753 576.3,753.1 577,752.9 577.7,754.3 578.4,754.6 579.1,755.3 579.8,754.5 580.5,756.2 581.2,755.2 581.9,756.6 582.6,756.2 583.3,757.2 584,755.8 584.7,756.5 585.4,752.7 586.1,756.6 586.8,755.6 587.5,756.2 588.2,757.4 588.9,757.5 589.6,757.2 590.3,757.6 591,758.1 591.7,758.6 592.4,759.2 593.1,760.2 593.8,758.6 594.5,758.5 595.2,759.5 595.9,760.2 596.6,760.6 597.3,759.6 598,759.5 598.7,758.4 599.4,760.5 600.1,759.5 600.8,757.8 601.5,761.8 602.2,762.1 602.9,763.3 603.6,761.9 604.3,763.4 605,763.8 605.7,763.4 606.4,761.9 607.1,761.6 607.8,764.4 608.5,762.6 609.2,764.1 609.9,764.3 610.6,763.8 611.3,763 612,764.3 612.7,763.8 613.4,763.3 614.1,764 614.8,761.7 615.5,763.5 616.2,761.9 616.9,765.2 617.6,764.4 618.3,765 619,766.1 619.7,765 620.4,763.7 621.1,764.8 621.8,764.8 622.5,766.2 623.2,766.1 623.9,764.3 624.6,766.3 625.3,766.8 626,766.7 626.7,764.7 627.4,765.7 628.1,766.5 628.8,767.7 629.5,767.6 630.2,766.2 630.9,767.7 631.6,767.8 632.3,766.7 633,768.3 633.7,767.8 634.4,765.3 635.1,768.9 635.8,766.7 636.5,768.8 637.2,768.4 637.9,769.9 638.6,768.6 639.3,770.2 640,771.6 640.7,770 641.4,772.7 642.1,769.7 642.8,772.4 643.5,771.9 644.2,774.1 644.9,773.1 645.6,775.3 646.3,774.1 647,775.9 647.7,776.8 648.4,778.3 649.1,777.8 649.8,778.6 650.5,779.6 651.2,781.6 651.9,781.4 652.6,780.6 653.3,782.4 654,785.1 654.7,785.5 655.4,785.2 656.1,785.7 656.8,786.8 657.5,787.6 658.2,785.8 658.9,788.4 659.6,786.3 660.3,789.2 661,787.5 661.7,787.7 662.4,788.5 663.1,788.7 663.8,787.1 664.5,788.8 665.2,789.5 665.9,790.3 666.6,790.1 667.3,789.8 668,791.2 668.7,793 669.4,793.7 670.1,793.4 670.8,793.3 671.5,792 672.2,792.6 672.9,793.6 673.6,793.4 674.3,793.8 675,794.7 675.7,794.9 676.4,792.2 677.1,793.4 677.8,793.4 678.5,792.6 679.2,792 679.9,793.4 680.6,793.7 681.3,792.9 682,793.6 682.7,795.5 683.4,795.2 684.1,796.7 684.8,796.4 685.5,797.2 686.2,797.3 686.9,797.1 687.6,797.5 688.3,796.6 689,796.4 689.7,795.6 690.4,795.8 691.1,796.3 691.8,796.3 692.5,797 693.2,796.3 693.9,796 694.6,797 695.3,794.9 696,797.6 696.7,794.5 697.4,794.8 698.1,796.4 698.8,797.9 699.5,797.1 700.2,797.1 700.9,792.9 701.6,797.3 702.3,798.5 703,796.4 703.7,796.5 704.4,797.5 705.1,797.2 705.8,797.3 706.5,798 707.2,797.7 707.9,797.2 708.6,797.3 709.3,799 710,799.3 710.7,799.5 711.4,798.7 712.1,800.1 712.8,800.3 713.5,800.6 714.2,800.2 714.9,800.2 715.6,800.1 716.3,800 717,798.6 717.7,800.1 718.4,799.7 719.1,800.2 719.8,799.7 720.5,799.1 721.2,798.1 721.9,800.5 722.6,798.6 723.3,798.8 724,798.5 724.7,800 725.4,799 726.1,799.8 726.8,799.7 727.5,799.4 728.2,799.2 728.9,799.3 729.6,797 730.3,799.1 731,798.7 731.7,797.9 732.4,795.9 733.1,796.5 733.8,798 734.5,798.3 735.2,797.1 735.9,796.4 736.6,798.2 737.3,796.8 738,797.4 738.7,797.2 739.4,796.7 740.1,796.1 740.8,797.7 741.5,797.2 742.2,796.2 742.9,797.5 743.6,798.3 744.3,797.3 745,798.2 745.7,798.3 746.4,796.8 747.1,797.8 747.8,797.8 748.5,798.1 749.2,798.9 749.9,799.6 750.6,800.2 751.3,800 752,801.1 752.7,801.1 753.4,800.4 754.1,801.3 754.8,801 755.5,800.7 756.2,800.7 756.9,801 757.6,797.4 758.3,802.2 759,800.8 759.7,801.6 760.4,799.9 761.1,801.8 761.8,800.9 762.5,801.1 763.2,800.7 763.9,801.1 764.6,801.3 765.3,800 766,801.2 766.7,800.1 767.4,800.7 768.1,799.2 768.8,800.7 769.5,800.9 770.2,799.6 770.9,801.2 771.6,800.8 772.3,802.2 773,802.1 773.7,801.8 774.4,802.2 775.1,801.9 775.8,802.4 776.5,800.4 777.2,801.9 777.9,802.1 778.6,802.3 779.3,800.4 780,800.9 780.7,800.8 781.4,799.8 782.1,799.2 782.8,796.7 783.5,798.2 784.2,796.5 784.9,794.8 785.6,794.3 786.3,793.4 787,791.8 787.7,789.3 788.4,790.3 789.1,786.2 789.8,786.2 790.5,786.4 791.2,781.9 791.9,783.5 792.6,781.2 793.3,779.1 794,778.3 794.7,776.6 795.4,774.3 796.1,770 796.8,771.6 797.5,768.9 798.2,768.5 798.9,766.2 799.6,763.2 800.3,763.2 801,761 801.7,759.5 802.4,757.8 803.1,757.4 803.8,755.7 804.5,753.7 805.2,752.4 805.9,750.4 806.6,748.5 807.3,747.3 808,746.5 808.7,744.8 809.4,743.6 810.1,742.6 810.8,741 811.5,736.7 812.2,737.5 812.9,736.6 813.6,738.3 814.3,736.3 815,737.4 815.7,734.8 816.4,736.6 817.1,736 817.8,735.6 818.5,731.8 819.2,733.8 819.9,733.1 820.6,730.9 821.3,729.9 822,730.6 822.7,729.1 823.4,728.8 824.1,729.4 824.8,727.7 825.5,725.8 826.2,727.2 826.9,726.4 827.6,726.6 828.3,726 829,724.5 829.7,724 830.4,720 831.1,715.3 831.8,711 832.5,706.5 833.2,702.7 833.9,704.1 834.6,704.3 835.3,702.9 836,703 836.7,701.3 837.4,699.7 838.1,701.2 838.8,701.8 839.5,698 840.2,699.4 840.9,699.9 841.6,699.8 842.3,699.2 843,699.8 843.7,697.9 844.4,699.2 845.1,698 845.8,699.8 846.5,699.6 847.2,698.9 847.9,699.5 848.6,698.6 849.3,700.5 850,702.3 850.7,702.8 851.4,702.2 852.1,703.3 852.8,703.6 853.5,702.1 854.2,703.5 854.9,701.1 855.6,701.5 856.3,703.6 857,704.6 857.7,703.9 858.4,702.7 859.1,702 859.8,703 860.5,701.1 861.2,704.7 861.9,704.2 862.6,704.2 863.3,704.6 864,702.7 864.7,703.4 865.4,704.8 866.1,703.9 866.8,705.3 867.5,705.3 868.2,704.3 868.9,705.3 869.6,706 870.3,703.8 871,706.5 871.7,707.4 872.4,705.5 873.1,708 873.8,703.9 874.5,705 875.2,703.2 875.9,699.3 876.6,696.8 877.3,696.4 878,694.4 878.7,693.4 879.4,694.9 880.1,695 880.8,694.6 881.5,696.3 882.2,695.5 882.9,695.6 883.6,697.3 884.3,697 885,694.9 885.7,698.5 886.4,699.1 887.1,698.7 887.8,700.8 888.5,701.3 889.2,700.2 889.9,700.2 890.6,701.2 891.3,701.3 892,699.7 892.7,700.2 893.4,700.9 894.1,699.1 894.8,699.8 895.5,698.7 896.2,700.6 896.9,701.2 897.6,701 898.3,701.7 899,701.9 899.7,702.5 900.4,699.9 901.1,701.6 901.8,702.4 902.5,701.4 903.2,700.4 903.9,701.5 904.6,701.1 905.3,699.8 906,701.4 906.7,701.2 907.4,699.7 908.1,699.3 908.8,700.1 909.5,699.4 910.2,696.7 910.9,699.4 911.6,696.7 912.3,699.2 913,698.7 913.7,698.6 914.4,698 915.1,699.4 915.8,698.9 916.5,698.1 917.2,698.4 917.9,699.5 918.6,699.4 919.3,700.4 920,701.4 920.7,701.4 921.4,704.5 922.1,706.1 922.8,706.7 923.5,708.9 924.2,711.2 924.9,712 925.6,714.1 926.3,716.6 927,718.3 927.7,721.7 928.4,722.6 929.1,725.3 929.8,725.3 930.5,727.9 931.2,729.1 931.9,731.8 932.6,732.7 933.3,732.5 934,734.1 934.7,737.5 935.4,740.9 936.1,741.6 936.8,744 937.5,745.9 938.2,748.1 938.9,747.1 939.6,751.3 940.3,752.7 941,754.7 941.7,756.2 942.4,756.3 943.1,757.8 943.8,761.2 944.5,761.8 945.2,764.2 945.9,765.4 946.6,768.2 947.3,768 948,772.2 948.7,769.5 949.4,773 950.1,773.2 950.8,770.5 951.5,773.7 952.2,773.6 952.9,772.9 953.6,776 954.3,776.4 955,776.9 955.7,777.6 956.4,776.1 957.1,777.7 957.8,777.7 958.5,777.9 959.2,777.6 959.9,777.8 960.6,778 961.3,778.5 962,776.3 962.7,779.5 963.4,778.9 964.1,777.9 964.8,779.1 965.5,779.2 966.2,778 966.9,779.2 967.6,779.8 968.3,779.3 969,779.7 969.7,779.1 970.4,778.8 971.1,778 971.8,778.1 972.5,779.7 973.2,779.9 973.9,778.7 974.6,778.6 975.3,781.4 976,781.5 976.7,781.5 977.4,782.6 978.1,782.4 978.8,782.5 979.5,782.1 980.2,781.9 980.9,782.3 981.6,782.9 982.3,782.3 983,782.5 983.7,781.4 984.4,783.8 985.1,783.9 985.8,783 986.5,781.9 987.2,784.6 987.9,783.5 988.6,784.7 989.3,785.1 990,784.5 990.7,785 991.4,785.3 992.1,785.1 992.8,783.2 993.5,784.5 994.2,783.4 994.9,785.7 995.6,784.1 996.3,785.8 997,784.6 997.7,785.3 998.4,786.1 999.1,785.2 999.8,785.4 1000.5,785.5 1001.2,786.6 1001.9,786.3 1001.9,800.7 1001.2,800 1000.5,799 999.8,799 999.1,798.7 998.4,798.5 997.7,800.4 997,798.2 996.3,800.1 995.6,799.1 994.9,798.8 994.2,798.4 993.5,798.6 992.8,797.2 992.1,797.7 991.4,799.8 990.7,798.1 990,797.5 989.3,799.9 988.6,798.1 987.9,798.5 987.2,796.8 986.5,797.3 985.8,799.2 985.1,796.8 984.4,796.8 983.7,796.2 983,797.1 982.3,796.7 981.6,796.5 980.9,797.9 980.2,796.3 979.5,798.9 978.8,795.6 978.1,794.8 977.4,795.2 976.7,794.6 976,795.6 975.3,793.6 974.6,795.4 973.9,792.5 973.2,792.3 972.5,792.7 971.8,791.8 971.1,793.2 970.4,792.9 969.7,792.1 969,792.3 968.3,793.5 967.6,792.8 966.9,792.8 966.2,793.3 965.5,793.6 964.8,794.2 964.1,792.3 963.4,794.6 962.7,792 962,795.5 961.3,793 960.6,791.9 959.9,792.6 959.2,792.8 958.5,794.3 957.8,793 957.1,794.9 956.4,794.2 955.7,793.1 955,792.2 954.3,792.2 953.6,794.2 952.9,791.1 952.2,790.8 951.5,790.5 950.8,790.9 950.1,788.8 949.4,789.3 948.7,788 948,787.6 947.3,787.4 946.6,786.1 945.9,785.5 945.2,784.3 944.5,783.8 943.8,783.8 943.1,782.8 942.4,781.2 941.7,779.7 941,778.4 940.3,777 939.6,773.4 938.9,776.6 938.2,770.7 937.5,770.3 936.8,767 936.1,764.2 935.4,763.6 934.7,762 934,758.6 933.3,757.1 932.6,756.4 931.9,754.6 931.2,753.2 930.5,750.9 929.8,749.8 929.1,748.3 928.4,745 927.7,743.9 927,741.7 926.3,739.8 925.6,737.9 924.9,736.1 924.2,733.3 923.5,732.1 922.8,728.8 922.1,728.5 921.4,727 920.7,722.7 920,720.6 919.3,719.8 918.6,718.7 917.9,719 917.2,716.9 916.5,718.6 915.8,713.9 915.1,713.7 914.4,713.2 913.7,713.2 913,713.4 912.3,713.1 911.6,713.8 910.9,714 910.2,713.7 909.5,716.4 908.8,714 908.1,715.3 907.4,715.7 906.7,715.2 906,716.2 905.3,715.5 904.6,715.7 903.9,715.5 903.2,715.9 902.5,715.5 901.8,715.5 901.1,715.8 900.4,717.1 899.7,715.5 899,717.7 898.3,716.2 897.6,717.2 896.9,715.5 896.2,714.3 895.5,715 894.8,714.3 894.1,713.6 893.4,713.8 892.7,714.1 892,715.3 891.3,713.9 890.6,715.9 889.9,714.9 889.2,714.5 888.5,714.2 887.8,714.2 887.1,713.5 886.4,713 885.7,712.5 885,711.4 884.3,711.4 883.6,710.8 882.9,710.6 882.2,712.6 881.5,710 880.8,710.8 880.1,715.4 879.4,715.5 878.7,716.4 878,716.1 877.3,718.7 876.6,719.1 875.9,722.8 875.2,720.3 874.5,721.3 873.8,720.3 873.1,721.8 872.4,723.4 871.7,720.8 871,720.8 870.3,720.2 869.6,719.9 868.9,717.8 868.2,717.9 867.5,716.5 866.8,716.8 866.1,718.3 865.4,715.8 864.7,716.9 864,718 863.3,715.9 862.6,716 861.9,715.3 861.2,716.8 860.5,716 859.8,716.1 859.1,716.2 858.4,717.8 857.7,715.8 857,719.4 856.3,715.4 855.6,715.3 854.9,717.6 854.2,717 853.5,715.1 852.8,716.9 852.1,716.2 851.4,715.4 850.7,716.4 850,717.2 849.3,716.3 848.6,714.4 847.9,712.4 847.2,713.7 846.5,711.9 845.8,712.7 845.1,711.7 844.4,711.2 843.7,711.6 843,711.2 842.3,714.1 841.6,712.5 840.9,714.1 840.2,714.5 839.5,715.5 838.8,715.6 838.1,714.6 837.4,715.4 836.7,718.8 836,724.1 835.3,725.8 834.6,729.9 833.9,734.5 833.2,737.1 832.5,736.7 831.8,736.8 831.1,739.5 830.4,737.9 829.7,739.7 829,741.5 828.3,740.6 827.6,740.6 826.9,740.6 826.2,744 825.5,746.1 824.8,745.3 824.1,745.1 823.4,745 822.7,745.5 822,747.6 821.3,748.6 820.6,749.4 819.9,751.4 819.2,752.6 818.5,751.9 817.8,754.5 817.1,753.4 816.4,755.2 815.7,755 815,758.1 814.3,757.5 813.6,759.2 812.9,761.3 812.2,763.2 811.5,763.9 810.8,765.8 810.1,766 809.4,768.9 808.7,768.5 808,770.6 807.3,771.3 806.6,773.4 805.9,775.3 805.2,777.9 804.5,777 803.8,779.9 803.1,781.1 802.4,783.8 801.7,786.6 801,787.4 800.3,789.4 799.6,789.5 798.9,791.4 798.2,794.6 797.5,794.7 796.8,798.2 796.1,798.2 795.4,800.4 794.7,800.3 794,801.9 793.3,802.8 792.6,804.6 791.9,805.5 791.2,806.1 790.5,808.1 789.8,809.4 789.1,810.3 788.4,811.2 787.7,811.3 787,814.5 786.3,813.2 785.6,814.5 784.9,815.1 784.2,815.5 783.5,816.6 782.8,817.5 782.1,818.3 781.4,819.1 780.7,818.2 780,820.4 779.3,818.6 778.6,819.1 777.9,819.3 777.2,818.4 776.5,818.7 775.8,818.9 775.1,819.3 774.4,820.9 773.7,818.8 773,819 772.3,818.7 771.6,818.5 770.9,819.5 770.2,818.6 769.5,819.4 768.8,818.5 768.1,817.8 767.4,817.7 766.7,820.5 766,817.4 765.3,818.8 764.6,817 763.9,817.6 763.2,817.4 762.5,817.4 761.8,820.6 761.1,817.9 760.4,818 759.7,818.5 759,818.4 758.3,818.1 757.6,818.8 756.9,819.6 756.2,819.2 755.5,818.9 754.8,818.4 754.1,818 753.4,818.8 752.7,818.9 752,818.6 751.3,818.1 750.6,821.3 749.9,817.9 749.2,816.9 748.5,815.5 747.8,816.2 747.1,814.7 746.4,815.2 745.7,816 745,814.4 744.3,814.1 743.6,814.1 742.9,813.5 742.2,814 741.5,813.7 740.8,813.6 740.1,814.5 739.4,812.7 738.7,812.6 738,812.9 737.3,813 736.6,813.2 735.9,813.4 735.2,813.6 734.5,812.1 733.8,813.1 733.1,813.1 732.4,812.8 731.7,814.5 731,814.5 730.3,813 729.6,812.8 728.9,814.2 728.2,813.4 727.5,814.4 726.8,813.8 726.1,815.8 725.4,813.7 724.7,814.8 724,813.6 723.3,813.7 722.6,816.8 721.9,814.5 721.2,815.9 720.5,814.1 719.8,813.3 719.1,814.9 718.4,813 717.7,813.7 717,813.4 716.3,813.3 715.6,817.1 714.9,815.6 714.2,813.7 713.5,814.5 712.8,814.5 712.1,815.6 711.4,813.8 710.7,814.3 710,815.1 709.3,814.4 708.6,814 707.9,812.6 707.2,812.2 706.5,813.8 705.8,813.9 705.1,813 704.4,812.8 703.7,813.7 703,813.5 702.3,814.3 701.6,813.6 700.9,813.1 700.2,816.1 699.5,813.1 698.8,812.9 698.1,813.8 697.4,812.5 696.7,813.7 696,812.7 695.3,813.1 694.6,813.6 693.9,815.8 693.2,813.1 692.5,811.9 691.8,815.1 691.1,811.9 690.4,813.1 689.7,812.1 689,812.2 688.3,814.3 687.6,813.2 686.9,814.1 686.2,813.5 685.5,812.3 684.8,812.8 684.1,812.9 683.4,813.5 682.7,812 682,810.7 681.3,810.9 680.6,810.5 679.9,809.2 679.2,810.4 678.5,810.4 677.8,811.3 677.1,810.4 676.4,812.7 675.7,811 675,810.6 674.3,812.4 673.6,810.3 672.9,811.2 672.2,810.6 671.5,809.7 670.8,811.2 670.1,809.2 669.4,809.5 668.7,809.3 668,808.8 667.3,809.1 666.6,807.8 665.9,806.3 665.2,806.1 664.5,807 663.8,805.2 663.1,805.4 662.4,804.2 661.7,804.3 661,806.5 660.3,806.5 659.6,806.2 658.9,806.8 658.2,803.9 657.5,804.8 656.8,806.1 656.1,803.1 655.4,802.8 654.7,805.6 654,803.8 653.3,802.2 652.6,803.4 651.9,802.9 651.2,800.7 650.5,799 649.8,798.2 649.1,797.1 648.4,796.2 647.7,796.2 647,794.3 646.3,794.9 645.6,792.1 644.9,793.9 644.2,789.9 643.5,790.8 642.8,791.2 642.1,789.2 641.4,788.3 640.7,787.7 640,786.6 639.3,786.6 638.6,787.3 637.9,785.9 637.2,785.3 636.5,786.2 635.8,784.5 635.1,784.1 634.4,783.8 633.7,783.9 633,783 632.3,783.6 631.6,784.5 630.9,785.1 630.2,783 629.5,783.3 628.8,784.2 628.1,783 627.4,786.6 626.7,784.6 626,782.5 625.3,784.8 624.6,783.5 623.9,785.5 623.2,782.8 622.5,783.1 621.8,782.7 621.1,784.1 620.4,784 619.7,785.1 619,782.7 618.3,782.6 617.6,782 616.9,781.9 616.2,783.4 615.5,780.9 614.8,782.8 614.1,783.2 613.4,781.2 612.7,781.2 612,781.8 611.3,782.2 610.6,782.9 609.9,782.6 609.2,781.9 608.5,783.3 607.8,783.3 607.1,782.5 606.4,783.3 605.7,781.9 605,783.1 604.3,783.4 603.6,783.2 602.9,781.4 602.2,780.8 601.5,780.5 600.8,781.1 600.1,779.7 599.4,780.1 598.7,779.8 598,780.5 597.3,779.2 596.6,779.5 595.9,777.8 595.2,779.2 594.5,778.9 593.8,779.3 593.1,778.1 592.4,779.7 591.7,777.2 591,778.4 590.3,776.8 589.6,777.7 588.9,775.8 588.2,778.2 587.5,776.3 586.8,775.8 586.1,775.1 585.4,775.6 584.7,777.3 584,776.4 583.3,775 582.6,774.4 581.9,776.8 581.2,776 580.5,775.7 579.8,774.7 579.1,773.3 578.4,772.3 577.7,771.6 577,771.7 576.3,773.1 575.6,771.2 574.9,770 574.2,770.9 573.5,771.8 572.8,771.3 572.1,773 571.4,770.5 570.7,772.8 570,771.6 569.3,772.2 568.6,771.3 567.9,771.3 567.2,773 566.5,771.3 565.8,774.1 565.1,773.9 564.4,772.1 563.7,773.2 563,772.5 562.3,773.3 561.6,773.8 560.9,772.8 560.2,772.4 559.5,772.8 558.8,773.6 558.1,774.7 557.4,773.6 556.7,774.2 556,771.8 555.3,773.7 554.6,771.1 553.9,771.8 553.2,770.3 552.5,771.7 551.8,770.6 551.1,769.6 550.4,769.6 549.7,769.2 549,770.1 548.3,769.8 547.6,770.4 546.9,770.2 546.2,768.9 545.5,768.5 544.8,767.7 544.1,766.9 543.4,767.6 542.7,768.5 542,767.7 541.3,766 540.6,768.6 539.9,767.4 539.2,765.9 538.5,766.5 537.8,767.2 537.1,765.6 536.4,765.3 535.7,767 535,764.7 534.3,765.9 533.6,765 532.9,766.6 532.2,765.2 531.5,766.2 530.8,766.5 530.1,766.6 529.4,766.4 528.7,765.7 528,766.8 527.3,768 526.6,765.6 525.9,765.5 525.2,767.4 524.5,770.4 523.8,765.1 523.1,765.6 522.4,767 521.7,768 521,766.4 520.3,766.1 519.6,765.3 518.9,765.3 518.2,765.5 517.5,766.4 516.8,767.7 516.1,767.6 515.4,764.8 514.7,766 514,767.5 513.3,767.2 512.6,765.5 511.9,766 511.2,766.2 510.5,764.7 509.8,764.7 509.1,764.9 508.4,764.5 507.7,764.7 507,766 506.3,764.2 505.6,764.3 504.9,764.2 504.2,764.2 503.5,765.2 502.8,764.5 502.1,764.5 501.4,763.5 500.7,764.3 500,764.7 499.3,764 498.6,764 497.9,765 497.2,765.3 496.5,763.3 495.8,763.5 495.1,763.5 494.4,764.1 493.7,763.9 493,764.4 492.3,763 491.6,763.6 490.9,761.5 490.2,762.3 489.5,760 488.8,761.3 488.1,758.5 487.4,759.9 486.7,759.5 486,759.8 485.3,761 484.6,763.2 483.9,758.6 483.2,758.5 482.5,759.4 481.8,758.8 481.1,760.5 480.4,757.7 479.7,757.8 479,757 478.3,757.7 477.6,757.1 476.9,758.3 476.2,755.6 475.5,756.6 474.8,755.9 474.1,755.7 473.4,755.3 472.7,755.4 472,756.1 471.3,754.2 470.6,753.6 469.9,754.5 469.2,755.2 468.5,753 467.8,753.4 467.1,752.8 466.4,752.7 465.7,753.4 465,751 464.3,751.3 463.6,751.8 462.9,751.6 462.2,752.1 461.5,751.3 460.8,751.4 460.1,751.7 459.4,751.7 458.7,752.8 458,752.3 457.3,753.9 456.6,752.9 455.9,753.1 455.2,754 454.5,752.7 453.8,752.7 453.1,751.6 452.4,751.9 451.7,751.3 451,751.9 450.3,750 449.6,750 448.9,751.8 448.2,749.5 447.5,749.1 446.8,749.8 446.1,747.1 445.4,747.2 444.7,745.8 444,746.9 443.3,746.7 442.6,747.6 441.9,745 441.2,745.4 440.5,746.2 439.8,747.2 439.1,746.1 438.4,747.5 437.7,747.3 437,747.4 436.3,749.6 435.6,748.4 434.9,749 434.2,750.3 433.5,749.2 432.8,752.6 432.1,750.3 431.4,750 430.7,749.6 430,751.3 429.3,753.3 428.6,750.9 427.9,750.6 427.2,750.8 426.5,749.2 425.8,749.1 425.1,749.7 424.4,749.2 423.7,749.6 423,749.3 422.3,749.7 421.6,750.1 420.9,749.9 420.2,749.9 419.5,748.9 418.8,748.9 418.1,749.4 417.4,747.4 416.7,747 416,749.7 415.3,748.1 414.6,747.3 413.9,746.8 413.2,747.6 412.5,746.7 411.8,750.2 411.1,746.8 410.4,747.2 409.7,749.9 409,748.7 408.3,747.5 407.6,749.5 406.9,746.9 406.2,746.8 405.5,746.4 404.8,746 404.1,746 403.4,745.7 402.7,746 402,745.5 401.3,746.1 400.6,746.7 399.9,747.2 399.2,744.6 398.5,744.7 397.8,744 397.1,745.6 396.4,744.9 395.7,745 395,743.4 394.3,744.2 393.6,743.6 392.9,743.6 392.2,743.4 391.5,742.7 390.8,741.2 390.1,743.3 389.4,740.9 388.7,740.2 388,739.6 387.3,743.6 386.6,740.1 385.9,739.1 385.2,738.3 384.5,739.1 383.8,737.9 383.1,738.4 382.4,736.7 381.7,736.1 381,737.6 380.3,736.4 379.6,737 378.9,735.5 378.2,735.9 377.5,733.4 376.8,733.2 376.1,734.7 375.4,732.1 374.7,731.8 374,730.4 373.3,732.1 372.6,731.4 371.9,730.4 371.2,729.3 370.5,728.9 369.8,727.4 369.1,729.4 368.4,727.9 367.7,730.4 367,729.4 366.3,729.9 365.6,731 364.9,730.7 364.2,733 363.5,733.8 362.8,733 362.1,733.7 361.4,733.9 360.7,736.3 360,736.8 359.3,737.1 358.6,737.1 357.9,737.6 357.2,738.7 356.5,739.6 355.8,739.7 355.1,741.6 354.4,740.6 353.7,741 353,742.4 352.3,743.3 351.6,741.7 350.9,741.1 350.2,742.7 349.5,742.2 348.8,740.1 348.1,740.8 347.4,739.2 346.7,738.6 346,740.4 345.3,738.5 344.6,738 343.9,739.2 343.2,737.4 342.5,737.2 341.8,734.6 341.1,734.7 340.4,735.9 339.7,735.7 339,736.3 338.3,738.1 337.6,736.1 336.9,737.4 336.2,736.9 335.5,738.6 334.8,739.1 334.1,738.1 333.4,740.5 332.7,739.2 332,738.7 331.3,738.4 330.6,738.9 329.9,738.6 329.2,739 328.5,738.3 327.8,739.2 327.1,740.9 326.4,739.1 325.7,741.6 325,738.2 324.3,737.7 323.6,738.2 322.9,739.2 322.2,738.6 321.5,738.1 320.8,737.7 320.1,740.4 319.4,738.8 318.7,738.7 318,738.7 317.3,739.4 316.6,738.8 315.9,743.4 315.2,742.4 314.5,738.5 313.8,739.5 313.1,738 312.4,739.6 311.7,739.1 311,737.8 310.3,738.1 309.6,739.1 308.9,738.2 308.2,738.3 307.5,739 306.8,738.5 306.1,737.3 305.4,738.3 304.7,739.4 304,738.1 303.3,738.5 302.6,740.9 301.9,739.6 301.2,740.3 300.5,739 299.8,740 299.1,739.6 298.4,739.1 297.7,740.4 297,739.8 296.3,742.5 295.6,739.8 294.9,739 294.2,741.8 293.5,740.5 292.8,741 292.1,739.3 291.4,740.4 290.7,739.5 290,739.7 289.3,740.3 288.6,740.6 287.9,740.5 287.2,740.6 286.5,744.3 285.8,741.8 285.1,741.8 284.4,742.1 283.7,743.5 283,742.2 282.3,744.2 281.6,742.5 280.9,742.9 280.2,743.1 279.5,743 278.8,743.7 278.1,744.5 277.4,743.4 276.7,744.3 276,744.5 275.3,746.2 274.6,745.1 273.9,745.7 273.2,745.9 272.5,745.2 271.8,745.3 271.1,747.3 270.4,745.2 269.7,745.6 269,744.8 268.3,746.4 267.6,745 266.9,746.3 266.2,746.5 265.5,745.2 264.8,745.3 264.1,745.1 263.4,746.2 262.7,747.6 262,746 261.3,746 260.6,745.7 259.9,747.3 259.2,746.9 258.5,750.6 257.8,747.2 257.1,749.7 256.4,748.3 255.7,746.5 255,748.5 254.3,746.1 253.6,747.9 252.9,747.1 252.2,748.4 251.5,746.7 250.8,745.9 250.1,744.8 249.4,746.6 248.7,745.4 248,745.2 247.3,745.2 246.6,745 245.9,745.7 245.2,747 244.5,744.2 243.8,747.6 243.1,745.4 242.4,743.8 241.7,744.9 241,745 240.3,742.4 239.6,743.7 238.9,745.2 238.2,742.8 237.5,743.3 236.8,742.9 236.1,742.6 235.4,743.3 234.7,745.6 234,743.5 233.3,742.9 232.6,743 231.9,745.9 231.2,743.8 230.5,742.5 229.8,742.7 229.1,744.7 228.4,743.7 227.7,744.9 227,745.8 226.3,743.8 225.6,746.3 224.9,745.9 224.2,743.8 223.5,745 222.8,744 222.1,745 221.4,746.2 220.7,746.9 220,745.4 219.3,745.1 218.6,745.6 217.9,745.8 217.2,745.8 216.5,744.9 215.8,745.5 215.1,746 214.4,747.2 213.7,746.8 213,746.9 212.3,746.5 211.6,746.2 210.9,746.1 210.2,745.4 209.5,746.3 208.8,747.8 208.1,747.2 207.4,745.7 206.7,746.5 206,746.6 205.3,746.7 204.6,749.4 203.9,748.2 203.2,748.1 202.5,748.9 201.8,747.7 201.1,747.7 200.4,749 199.7,747.5 199,749 198.3,749 197.6,749.4 196.9,750.3 196.2,748 195.5,748.6 194.8,750 194.1,750.6 193.4,748.6 192.7,749.6 192,749.9 191.3,749.1 190.6,749.5 189.9,751.2 189.2,750.6 188.5,750.7 187.8,754.3 187.1,754.7 186.4,753.1 185.7,754.7 185,755.1 184.3,753.8 183.6,754.4 182.9,754.9 182.2,754.9 181.5,756.3 180.8,755 180.1,755.3 179.4,757.3 178.7,755.6 178,756.3 177.3,755 176.6,754.6 175.9,756.5 175.2,754.8 174.5,754.5 173.8,754 173.1,754.6 172.4,754.3 171.7,754.1 171,754.7 170.3,755.3 169.6,755.2 168.9,753.8 168.2,753.9 167.5,754.4 166.8,755 166.1,753.4 165.4,754.4 164.7,752.8 164,752.5 163.3,753.6 162.6,755 161.9,753.8 161.2,752.8 160.5,752.9 159.8,753.8 159.1,752.6 158.4,753.4 157.7,754.2 157,757 156.3,755.5 155.6,758.3 154.9,758.7 154.2,758.8 153.5,761.1 152.8,762 152.1,761.5 151.4,763.8 150.7,764.6 150,765.4 149.3,767.7 148.6,766.6 147.9,766.8 147.2,768 146.5,768.9 145.8,769.1 145.1,769.9 144.4,770.1 143.7,770.6 143,770.1 142.3,770.7 141.6,771.4 140.9,772 140.2,772.6 139.5,773.6 138.8,773.6 138.1,773.4 137.4,774 136.7,775.1 136,777.4 135.3,773.9 134.6,773.8 133.9,773.6 133.2,772.3 132.5,770.4 131.8,770.5 131.1,768.8 130.4,769.5 129.7,768.7 129,766.8 128.3,766 127.6,766.5 126.9,767.1 126.2,765.6 125.5,765.9 124.8,767.7 124.1,766.7 123.4,766.6 122.7,767.7 122,766.6 121.3,767.1 120.6,766.7 119.9,766.2 119.2,766.2" fill="#0000ff"/>
<defs><path id="st" d="M0.00 -7.60 L2.17 -2.99 L7.23 -2.35 L3.52 1.14 L4.47 6.15 L0.00 3.70 L-4.47 6.15 L-3.52 1.14 L-7.23 -2.35 L-2.17 -2.99Z" fill="#0000ff"/></defs>
<g><use href="#st" x="134.1" y="857.6"/><use href="#st" x="136.3" y="878.4"/><use href="#st" x="138.3" y="896.7"/><use href="#st" x="140.5" y="910"/><use href="#st" x="142.6" y="916.4"/><use href="#st" x="144.7" y="922.1"/><use href="#st" x="146.8" y="926.2"/><use href="#st" x="148.9" y="928.9"/><use href="#st" x="151" y="927.3"/><use href="#st" x="153.1" y="931.3"/><use href="#st" x="155.2" y="933.6"/><use href="#st" x="157.3" y="939.6"/><use href="#st" x="159.4" y="942.3"/><use href="#st" x="161.5" y="943.9"/><use href="#st" x="163.6" y="947.2"/><use href="#st" x="165.7" y="948.2"/><use href="#st" x="167.8" y="951.4"/><use href="#st" x="169.9" y="952.9"/><use href="#st" x="172" y="953.4"/><use href="#st" x="174.1" y="956"/><use href="#st" x="176.2" y="958.2"/><use href="#st" x="178.3" y="963.8"/><use href="#st" x="180.4" y="964.6"/><use href="#st" x="182.5" y="968"/><use href="#st" x="184.6" y="971.6"/><use href="#st" x="186.7" y="973"/><use href="#st" x="188.8" y="972.2"/><use href="#st" x="190.9" y="972.7"/><use href="#st" x="193" y="971.4"/><use href="#st" x="195.1" y="967.2"/><use href="#st" x="197.2" y="968.5"/><use href="#st" x="199.3" y="970.5"/><use href="#st" x="201.4" y="966.4"/><use href="#st" x="203.5" y="966.2"/><use href="#st" x="205.6" y="969.1"/><use href="#st" x="207.7" y="969.6"/><use href="#st" x="209.8" y="967.2"/><use href="#st" x="211.9" y="966.3"/><use href="#st" x="214" y="966.4"/><use href="#st" x="216.1" y="969.6"/><use href="#st" x="218.2" y="968.6"/><use href="#st" x="220.3" y="966.8"/><use href="#st" x="222.4" y="968.2"/><use href="#st" x="224.5" y="969.9"/><use href="#st" x="226.6" y="965.2"/><use href="#st" x="228.7" y="963.4"/><use href="#st" x="230.8" y="960.7"/><use href="#st" x="232.9" y="958.2"/><use href="#st" x="235" y="956"/><use href="#st" x="237.1" y="956.7"/><use href="#st" x="239.2" y="957.1"/><use href="#st" x="241.3" y="954.8"/><use href="#st" x="243.4" y="958.3"/><use href="#st" x="245.5" y="955.8"/><use href="#st" x="247.6" y="958.5"/><use href="#st" x="249.7" y="954.7"/><use href="#st" x="251.8" y="955"/><use href="#st" x="253.9" y="952"/><use href="#st" x="256" y="949.2"/><use href="#st" x="258.1" y="948.8"/><use href="#st" x="260.2" y="948.6"/><use href="#st" x="262.3" y="946.3"/><use href="#st" x="264.4" y="947.4"/><use href="#st" x="266.5" y="948.1"/><use href="#st" x="268.6" y="951"/><use href="#st" x="270.7" y="953.3"/><use href="#st" x="272.8" y="952.8"/><use href="#st" x="274.9" y="952.9"/><use href="#st" x="277" y="955.5"/><use href="#st" x="279.1" y="956.5"/><use href="#st" x="281.2" y="956.4"/><use href="#st" x="283.3" y="955.1"/><use href="#st" x="285.4" y="953.9"/><use href="#st" x="287.5" y="951.9"/><use href="#st" x="289.6" y="950.9"/><use href="#st" x="291.7" y="952.2"/><use href="#st" x="293.8" y="950.2"/><use href="#st" x="295.9" y="948.5"/><use href="#st" x="298" y="946.6"/><use href="#st" x="300.1" y="947.2"/><use href="#st" x="302.2" y="946"/><use href="#st" x="304.3" y="945.2"/><use href="#st" x="306.4" y="947.9"/><use href="#st" x="308.5" y="945"/><use href="#st" x="310.6" y="944.6"/><use href="#st" x="312.7" y="944.9"/><use href="#st" x="314.8" y="943.4"/><use href="#st" x="316.9" y="942.9"/><use href="#st" x="319" y="944.8"/><use href="#st" x="321.1" y="944.5"/><use href="#st" x="323.2" y="941.6"/><use href="#st" x="325.3" y="942.8"/><use href="#st" x="327.4" y="941.6"/><use href="#st" x="329.5" y="943.2"/><use href="#st" x="331.6" y="941.5"/><use href="#st" x="333.7" y="943.4"/><use href="#st" x="335.8" y="946.4"/><use href="#st" x="337.9" y="944.4"/><use href="#st" x="340" y="948.5"/><use href="#st" x="342.1" y="945.4"/><use href="#st" x="344.2" y="946.6"/><use href="#st" x="346.3" y="945.3"/><use href="#st" x="348.4" y="946.9"/><use href="#st" x="350.5" y="946.8"/><use href="#st" x="352.6" y="944.6"/><use href="#st" x="354.7" y="941.6"/><use href="#st" x="356.8" y="940"/><use href="#st" x="358.9" y="939.9"/><use href="#st" x="361" y="941.1"/><use href="#st" x="363.1" y="942.9"/><use href="#st" x="365.2" y="942.6"/><use href="#st" x="367.3" y="941.9"/><use href="#st" x="369.4" y="943.8"/><use href="#st" x="371.5" y="944.4"/><use href="#st" x="373.6" y="940.8"/><use href="#st" x="375.7" y="940.1"/><use href="#st" x="377.8" y="937.4"/><use href="#st" x="379.9" y="938.5"/><use href="#st" x="382" y="939.5"/><use href="#st" x="384.1" y="939.9"/><use href="#st" x="386.2" y="942.5"/><use href="#st" x="388.3" y="946"/><use href="#st" x="390.4" y="946.7"/><use href="#st" x="392.5" y="946.3"/><use href="#st" x="394.6" y="943.8"/><use href="#st" x="396.7" y="945.4"/><use href="#st" x="398.8" y="943.5"/><use href="#st" x="400.9" y="941.5"/><use href="#st" x="403" y="941.8"/><use href="#st" x="405.1" y="941.5"/><use href="#st" x="407.2" y="943.2"/><use href="#st" x="409.3" y="941.3"/><use href="#st" x="411.4" y="944"/><use href="#st" x="413.5" y="945.8"/><use href="#st" x="415.6" y="943.2"/><use href="#st" x="417.7" y="941.8"/><use href="#st" x="419.8" y="941.4"/><use href="#st" x="421.9" y="942.5"/><use href="#st" x="424" y="940.2"/><use href="#st" x="426.1" y="937.7"/><use href="#st" x="428.2" y="936.6"/><use href="#st" x="430.3" y="940.8"/><use href="#st" x="432.4" y="941.9"/><use href="#st" x="434.5" y="941.9"/><use href="#st" x="436.6" y="946.6"/><use href="#st" x="438.7" y="946.1"/><use href="#st" x="440.8" y="943.8"/><use href="#st" x="442.9" y="945.2"/><use href="#st" x="445" y="943.8"/><use href="#st" x="447.1" y="940.1"/><use href="#st" x="449.2" y="940.8"/><use href="#st" x="451.3" y="943.3"/><use href="#st" x="453.4" y="942.7"/><use href="#st" x="455.5" y="942.3"/><use href="#st" x="457.6" y="943.4"/><use href="#st" x="459.7" y="944.6"/><use href="#st" x="461.8" y="946"/><use href="#st" x="463.9" y="946"/><use href="#st" x="466" y="943.3"/><use href="#st" x="468.1" y="942.7"/><use href="#st" x="470.2" y="937.3"/><use href="#st" x="472.3" y="937"/><use href="#st" x="474.4" y="933.2"/><use href="#st" x="476.5" y="934"/><use href="#st" x="478.6" y="935.4"/><use href="#st" x="480.7" y="936"/><use href="#st" x="482.8" y="938"/><use href="#st" x="484.9" y="936.9"/><use href="#st" x="487" y="939.2"/><use href="#st" x="489.1" y="938.7"/><use href="#st" x="491.2" y="938.7"/><use href="#st" x="493.3" y="942.8"/><use href="#st" x="495.4" y="941.2"/><use href="#st" x="497.5" y="945.3"/><use href="#st" x="499.6" y="942.9"/><use href="#st" x="501.7" y="945.1"/><use href="#st" x="503.8" y="947.7"/><use href="#st" x="505.9" y="948.4"/><use href="#st" x="508" y="945.3"/><use href="#st" x="510.1" y="945.3"/><use href="#st" x="512.2" y="946.8"/><use href="#st" x="514.3" y="945.1"/><use href="#st" x="516.4" y="942.6"/><use href="#st" x="518.5" y="939.8"/><use href="#st" x="520.6" y="939.4"/><use href="#st" x="522.7" y="941"/><use href="#st" x="524.8" y="944.6"/><use href="#st" x="526.9" y="945.5"/><use href="#st" x="529" y="943.7"/><use href="#st" x="531.1" y="944.7"/><use href="#st" x="533.2" y="948.5"/><use href="#st" x="535.3" y="947"/><use href="#st" x="537.4" y="944.3"/><use href="#st" x="539.5" y="944.6"/><use href="#st" x="541.6" y="941.3"/><use href="#st" x="543.7" y="940.4"/><use href="#st" x="545.8" y="941.4"/><use href="#st" x="547.9" y="938.7"/><use href="#st" x="550" y="936.5"/><use href="#st" x="552.1" y="935"/><use href="#st" x="554.2" y="937.7"/><use href="#st" x="556.3" y="939.1"/><use href="#st" x="558.4" y="940.7"/><use href="#st" x="560.5" y="938.9"/><use href="#st" x="562.6" y="939.4"/><use href="#st" x="564.7" y="938.8"/><use href="#st" x="566.8" y="940.8"/><use href="#st" x="568.9" y="938.6"/><use href="#st" x="571" y="939"/><use href="#st" x="573.1" y="939.6"/><use href="#st" x="575.2" y="937.9"/><use href="#st" x="577.3" y="939.2"/><use href="#st" x="579.4" y="942.1"/><use href="#st" x="581.5" y="943.1"/><use href="#st" x="583.6" y="941.3"/><use href="#st" x="585.7" y="943.7"/><use href="#st" x="587.8" y="944.3"/><use href="#st" x="589.9" y="946"/><use href="#st" x="592" y="945"/><use href="#st" x="594.1" y="943.7"/><use href="#st" x="596.2" y="940.4"/><use href="#st" x="598.3" y="940.4"/><use href="#st" x="600.4" y="942.1"/><use href="#st" x="602.5" y="938"/><use href="#st" x="604.6" y="941.9"/><use href="#st" x="606.7" y="943.5"/><use href="#st" x="608.8" y="943.1"/><use href="#st" x="610.9" y="942.1"/><use href="#st" x="613" y="943.9"/><use href="#st" x="615.1" y="943.3"/><use href="#st" x="617.2" y="942.5"/><use href="#st" x="619.3" y="939.2"/><use href="#st" x="621.4" y="940.5"/><use href="#st" x="623.5" y="940.5"/><use href="#st" x="625.6" y="938.7"/><use href="#st" x="627.7" y="940.2"/><use href="#st" x="629.8" y="943"/><use href="#st" x="631.9" y="940.9"/><use href="#st" x="634" y="942.7"/><use href="#st" x="636.1" y="944.4"/><use href="#st" x="638.2" y="941.3"/><use href="#st" x="640.3" y="941.8"/><use href="#st" x="642.4" y="937.9"/><use href="#st" x="644.5" y="935.2"/><use href="#st" x="646.6" y="935.7"/><use href="#st" x="648.7" y="930.9"/><use href="#st" x="650.8" y="930.3"/><use href="#st" x="652.9" y="926.9"/><use href="#st" x="655" y="924.5"/><use href="#st" x="657.1" y="923"/><use href="#st" x="659.2" y="921.9"/><use href="#st" x="661.3" y="919.3"/><use href="#st" x="663.4" y="919.3"/><use href="#st" x="665.5" y="917.1"/><use href="#st" x="667.6" y="914.2"/><use href="#st" x="669.7" y="911.3"/><use href="#st" x="671.8" y="912.4"/><use href="#st" x="673.9" y="909.4"/><use href="#st" x="676" y="906.8"/><use href="#st" x="678.1" y="908.2"/><use href="#st" x="680.2" y="904.7"/><use href="#st" x="682.3" y="903"/><use href="#st" x="684.4" y="904"/><use href="#st" x="686.5" y="903.6"/><use href="#st" x="688.6" y="901.6"/><use href="#st" x="690.7" y="904"/><use href="#st" x="692.8" y="904.4"/><use href="#st" x="694.9" y="903"/><use href="#st" x="697" y="901.9"/><use href="#st" x="699.1" y="901.7"/><use href="#st" x="701.2" y="903.4"/><use href="#st" x="703.3" y="903.7"/><use href="#st" x="705.4" y="904.3"/><use href="#st" x="707.5" y="901.2"/><use href="#st" x="709.6" y="904.1"/><use href="#st" x="711.7" y="903.7"/><use href="#st" x="713.8" y="899.5"/><use href="#st" x="715.9" y="900.7"/><use href="#st" x="718" y="898.7"/><use href="#st" x="720.1" y="902.4"/><use href="#st" x="722.2" y="900.5"/><use href="#st" x="724.3" y="902.1"/><use href="#st" x="726.4" y="902.7"/><use href="#st" x="728.5" y="905.1"/><use href="#st" x="730.6" y="904.3"/><use href="#st" x="732.7" y="905.3"/><use href="#st" x="734.8" y="904"/><use href="#st" x="736.9" y="904.7"/><use href="#st" x="739" y="901.4"/><use href="#st" x="741.1" y="901.4"/><use href="#st" x="743.2" y="901.4"/><use href="#st" x="745.3" y="901.9"/><use href="#st" x="747.4" y="900.3"/><use href="#st" x="749.5" y="899.7"/><use href="#st" x="751.6" y="901.1"/><use href="#st" x="753.7" y="897.4"/><use href="#st" x="755.8" y="896"/><use href="#st" x="757.9" y="897.6"/><use href="#st" x="760" y="897.3"/><use href="#st" x="762.1" y="898.3"/><use href="#st" x="764.2" y="900.2"/><use href="#st" x="766.3" y="900.1"/><use href="#st" x="768.4" y="901.2"/><use href="#st" x="770.5" y="901.6"/><use href="#st" x="772.6" y="901.8"/><use href="#st" x="774.7" y="903.6"/><use href="#st" x="776.8" y="904.8"/><use href="#st" x="778.9" y="904.8"/><use href="#st" x="781" y="905.3"/><use href="#st" x="783.1" y="908.9"/><use href="#st" x="785.2" y="910.3"/><use href="#st" x="787.3" y="910.1"/><use href="#st" x="789.4" y="919.1"/><use href="#st" x="791.5" y="927"/><use href="#st" x="793.6" y="937.3"/><use href="#st" x="795.7" y="948.9"/><use href="#st" x="797.8" y="953.6"/><use href="#st" x="799.9" y="962.4"/><use href="#st" x="802" y="973"/><use href="#st" x="804.1" y="976.2"/><use href="#st" x="806.2" y="979"/><use href="#st" x="808.3" y="978.6"/><use href="#st" x="810.4" y="978.4"/><use href="#st" x="812.5" y="977.2"/><use href="#st" x="814.6" y="977"/><use href="#st" x="816.7" y="975.6"/><use href="#st" x="818.8" y="972.7"/><use href="#st" x="820.9" y="973.9"/><use href="#st" x="823" y="974.2"/><use href="#st" x="825.1" y="971.1"/><use href="#st" x="827.2" y="971.6"/><use href="#st" x="829.3" y="972.9"/><use href="#st" x="831.4" y="970.1"/><use href="#st" x="833.5" y="971.3"/><use href="#st" x="835.6" y="973.1"/><use href="#st" x="837.7" y="972.2"/><use href="#st" x="839.8" y="975.6"/><use href="#st" x="841.9" y="974.3"/><use href="#st" x="844" y="977"/><use href="#st" x="846.1" y="978.1"/><use href="#st" x="848.2" y="977.9"/><use href="#st" x="850.3" y="980.7"/><use href="#st" x="852.4" y="978.7"/><use href="#st" x="854.5" y="977.6"/><use href="#st" x="856.6" y="978.4"/><use href="#st" x="858.7" y="977.3"/><use href="#st" x="860.8" y="973.7"/><use href="#st" x="862.9" y="968.2"/><use href="#st" x="865" y="966.1"/><use href="#st" x="867.1" y="962.9"/><use href="#st" x="869.2" y="960.9"/><use href="#st" x="871.3" y="960.5"/><use href="#st" x="873.4" y="957.5"/><use href="#st" x="875.5" y="957.3"/><use href="#st" x="877.6" y="960.3"/><use href="#st" x="879.7" y="959.4"/><use href="#st" x="881.8" y="961.6"/><use href="#st" x="883.9" y="961.9"/><use href="#st" x="886" y="960.6"/><use href="#st" x="888.1" y="960.2"/><use href="#st" x="890.2" y="962.6"/><use href="#st" x="892.3" y="959.1"/></g>
<line x1="185.2" y1="40" x2="185.2" y2="1020.7" stroke="#0000ff" stroke-width="2.9" stroke-dasharray="8.8 9.635"/>
<line x1="185.2" y1="1024.2" x2="185.2" y2="1174.2" stroke="#0000ff" stroke-width="2.9" stroke-dasharray="8.8 9.65"/>
<line x1="626.9" y1="43.5" x2="626.9" y2="1174.2" stroke="#ff0000" stroke-width="2.9" stroke-dasharray="8.8 9.68"/>
<line x1="759.9" y1="43.5" x2="759.9" y2="1174.2" stroke="#1fa04a" stroke-width="2.9" stroke-dasharray="8.8 9.68"/>
<line x1="849.2" y1="43.5" x2="849.2" y2="1174.2" stroke="#2ee6f0" stroke-width="2.9" stroke-dasharray="8.8 9.68"/>
<rect x="224.2" y="60.6" width="377.5" height="38.4" fill="#fff" stroke="#000" stroke-width="2.6"/>
<line x1="228.7" y1="79.6" x2="274.5" y2="79.6" stroke="#0000ff" stroke-width="2.6"/>
<line x1="480.6" y1="79.9" x2="527.1" y2="79.9" stroke="#ff0000" stroke-width="2.6"/>
<text x="276.6" y="90.4" font-size="28">LHW(4.65 GHz)</text>
<text x="529.6" y="90.5" font-size="27.6">ICRH</text>
<text x="109.8" y="207.2" font-size="30.8" text-anchor="end">0</text>
<text x="109.8" y="130.4" font-size="30.8" text-anchor="end">1</text>
<text x="109.8" y="53.6" font-size="30.8" text-anchor="end">2</text>
<text x="109.8" y="371" font-size="30.8" text-anchor="end">0</text>
<text x="109.8" y="294" font-size="30.8" text-anchor="end">2</text>
<text x="109.8" y="534.8" font-size="30.8" text-anchor="end">0</text>
<text x="109.8" y="457.8" font-size="30.8" text-anchor="end">2</text>
<text x="109.8" y="621" font-size="30.8" text-anchor="end">0</text>
<text x="109.8" y="698.3" font-size="30.8" text-anchor="end">-0.25</text>
<text x="109.8" y="862" font-size="30.8" text-anchor="end">0</text>
<text x="109.8" y="784.9" font-size="30.8" text-anchor="end">0.5</text>
<text x="109.8" y="1023.8" font-size="30.8" text-anchor="end">2.0</text>
<text x="109.8" y="947" font-size="30.8" text-anchor="end">2.5</text>
<text x="109.8" y="1187" font-size="30.8" text-anchor="end">0</text>
<text x="109.8" y="1110.2" font-size="30.8" text-anchor="end">100</text>
<text x="117.7" y="1215.8" font-size="30.8" text-anchor="middle">2.5</text>
<text x="228.2" y="1215.8" font-size="30.8" text-anchor="middle">3.0</text>
<text x="339.4" y="1215.8" font-size="30.8" text-anchor="middle">3.5</text>
<text x="449.4" y="1215.8" font-size="30.8" text-anchor="middle">4.0</text>
<text x="560.8" y="1215.8" font-size="30.8" text-anchor="middle">4.5</text>
<text x="671.1" y="1215.8" font-size="30.8" text-anchor="middle">5.0</text>
<text x="782.3" y="1215.8" font-size="30.8" text-anchor="middle">5.5</text>
<text x="893" y="1215.8" font-size="30.8" text-anchor="middle">6.0</text>
<text x="1003" y="1215.8" font-size="30.8" text-anchor="middle">6.5</text>
<text x="178.5" y="1215.5" font-size="27.5" font-weight="bold" text-anchor="middle" fill="#0000ff">2.8s</text>
<text x="623.4" y="1215.5" font-size="27.5" font-weight="bold" text-anchor="middle" fill="#ff0000">4.8s</text>
<text x="733.9" y="1215.5" font-size="27.5" font-weight="bold" text-anchor="middle" fill="#1fa04a">5.4s</text>
<text x="844.6" y="1215.5" font-size="27.5" font-weight="bold" text-anchor="middle" fill="#2ee6f0">5.8s</text>
<line x1="185.2" y1="1175" x2="185.2" y2="1186.5" stroke="#0000ff" stroke-width="2.4"/>
<polygon points="185.2,1194 181,1185.5 189.4,1185.5" fill="#0000ff"/>
<line x1="626.9" y1="1175" x2="626.9" y2="1186.5" stroke="#ff0000" stroke-width="2.4"/>
<polygon points="626.9,1194 622.7,1185.5 631.1,1185.5" fill="#ff0000"/>
<line x1="759.9" y1="1175" x2="748.6" y2="1187.4" stroke="#1fa04a" stroke-width="2.4"/>
<polygon points="743.6,1193 746.2,1183.9 752.4,1189.5" fill="#1fa04a"/>
<line x1="849.2" y1="1175" x2="849.2" y2="1186.5" stroke="#2ee6f0" stroke-width="2.4"/>
<polygon points="849.2,1194 845,1185.5 853.4,1185.5" fill="#2ee6f0"/>
<text x="445.6" y="26" font-size="34.5">EAST #113745</text>
<text x="562" y="1258.5" font-size="34" text-anchor="middle">t (s)</text>
<text transform="translate(79 116.9) rotate(-90)" font-size="34.5" text-anchor="middle">P (MW)</text>
<text transform="translate(80.1 280) rotate(-90)" font-size="34.5" text-anchor="middle">(kA)</text>
<text transform="translate(80 444.7) rotate(-90)" font-size="34.5" text-anchor="middle">(G)</text>
<text transform="translate(27.4 608.2) rotate(-90)" font-size="34.5" text-anchor="middle">(a.u.)</text>
<text transform="translate(51.9 770.6) rotate(-90)" font-size="34.5" text-anchor="middle">(a.u.)</text>
<text transform="translate(45.2 1097.7) rotate(-90)" font-size="34.5" text-anchor="middle">f (kHz)</text>
<text x="130" y="85.5" font-size="37.5">(a)</text>
<text x="129.9" y="249.6" font-size="37.5">(b)</text>
<text x="131.5" y="413.2" font-size="37.5">(c)</text>
<text x="128.7" y="574.7" font-size="37.5">(d)</text>
<text x="131.1" y="829.2" font-size="37.5">(e)</text>
<text x="135" y="992.5" font-size="37.5">(f)</text>
<text x="130" y="1066.7" font-size="37.5">(g)</text>
<g fill="#0000ff">
<text x="237.3" y="249.5" font-size="33">I</text><text x="246.8" y="265.2" font-size="27">RMP</text>
<text x="228.5" y="424" font-size="33">B</text><text x="251.2" y="440" font-size="26">r</text><text x="260" y="424.5" font-size="33" letter-spacing="1.2" xml:space="preserve"> (n=1)</text>
<text x="232" y="574" font-size="33">dB</text><text x="272.4" y="589.5" font-size="26" font-family="Liberation Serif, serif" font-style="italic">θ</text><text x="285" y="574" font-size="33">/dt</text>
<text x="229" y="803.3" font-size="33" letter-spacing="0.8">Core I</text><text x="322" y="819.5" font-size="26.2">AXUV</text>
<text x="295.5" y="903.6" font-size="37">Z</text><text x="318" y="922.4" font-size="29.6">eff</text>
<text x="272.3" y="1064.5" font-size="37">48 GHz Refl.</text>
<text x="272.6" y="1115.5" font-size="37" letter-spacing="0.45">(<tspan font-family="Liberation Serif, serif" font-style="italic">ρ</tspan>=0.47)</text>
</g>
</svg>
</body></html>
